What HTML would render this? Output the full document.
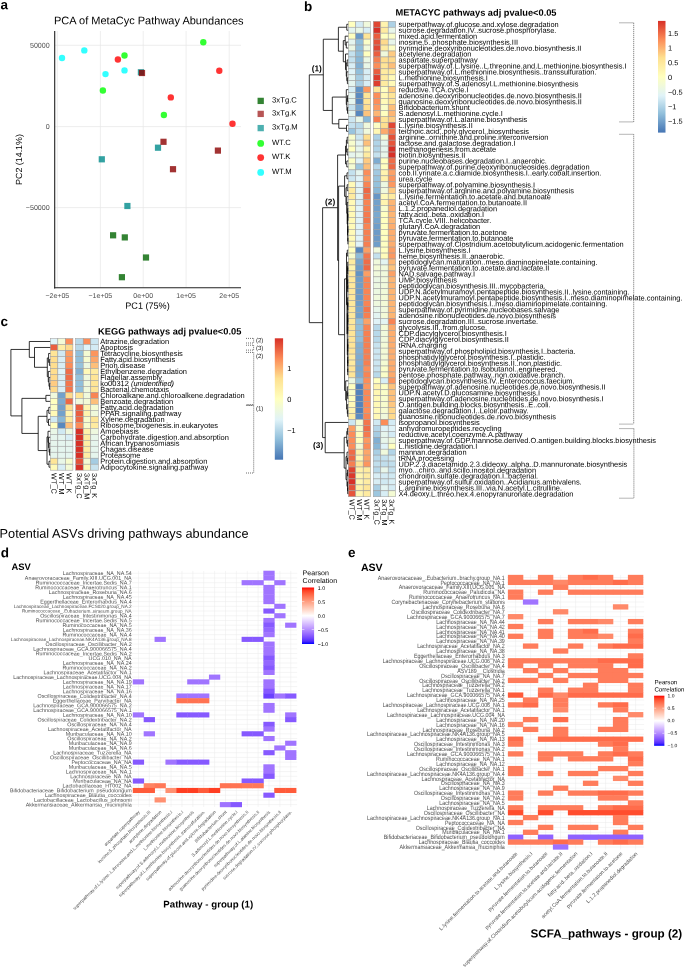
<!DOCTYPE html>
<html><head><meta charset="utf-8"><title>Figure</title>
<style>html,body{margin:0;padding:0;background:#fff}svg{display:block;will-change:transform;font-family:'Liberation Sans', Arial, sans-serif;text-rendering:geometricPrecision}</style>
</head><body>
<svg width="685" height="967" viewBox="0 0 685 967">
<rect width="685" height="967" fill="#fff"/>
<text x="0.5" y="9.3" font-size="13.5" font-weight="bold" transform="rotate(0.03 0.5 9.3)">a</text>
<text x="54" y="24.3" font-size="11" transform="rotate(0.03 54 24.3)">PCA of MetaCyc Pathway Abundances</text>
<line x1="57.3" y1="31" x2="57.3" y2="287.5" stroke="#e6e6e6" stroke-width="0.7"/>
<line x1="100.4" y1="31" x2="100.4" y2="287.5" stroke="#e6e6e6" stroke-width="0.7"/>
<line x1="143.2" y1="31" x2="143.2" y2="287.5" stroke="#e6e6e6" stroke-width="0.7"/>
<line x1="186.1" y1="31" x2="186.1" y2="287.5" stroke="#e6e6e6" stroke-width="0.7"/>
<line x1="229.2" y1="31" x2="229.2" y2="287.5" stroke="#e6e6e6" stroke-width="0.7"/>
<line x1="54.7" y1="45.3" x2="241" y2="45.3" stroke="#e6e6e6" stroke-width="0.7"/>
<line x1="54.7" y1="126.6" x2="241" y2="126.6" stroke="#e6e6e6" stroke-width="0.7"/>
<line x1="54.7" y1="207.6" x2="241" y2="207.6" stroke="#e6e6e6" stroke-width="0.7"/>
<line x1="54.7" y1="31" x2="54.7" y2="288.4" stroke="#222" stroke-width="1.1"/>
<line x1="54.2" y1="287.8" x2="241" y2="287.8" stroke="#222" stroke-width="1.1"/>
<text x="49.7" y="47.8" font-size="7.1" text-anchor="end" fill="#4d4d4d" transform="rotate(0.03 49.7 47.8)">50000</text>
<text x="49.7" y="129.1" font-size="7.1" text-anchor="end" fill="#4d4d4d" transform="rotate(0.03 49.7 129.1)">0</text>
<text x="49.7" y="210.1" font-size="7.1" text-anchor="end" fill="#4d4d4d" transform="rotate(0.03 49.7 210.1)">−50000</text>
<text x="57.3" y="297.9" font-size="7" text-anchor="middle" fill="#4d4d4d" transform="rotate(0.03 57.3 297.9)">−2e+05</text>
<text x="100.4" y="297.9" font-size="7" text-anchor="middle" fill="#4d4d4d" transform="rotate(0.03 100.4 297.9)">−1e+05</text>
<text x="143.2" y="297.9" font-size="7" text-anchor="middle" fill="#4d4d4d" transform="rotate(0.03 143.2 297.9)">0e+00</text>
<text x="186.1" y="297.9" font-size="7" text-anchor="middle" fill="#4d4d4d" transform="rotate(0.03 186.1 297.9)">1e+05</text>
<text x="229.2" y="297.9" font-size="7" text-anchor="middle" fill="#4d4d4d" transform="rotate(0.03 229.2 297.9)">2e+05</text>
<text x="147.5" y="308.8" font-size="9.1" text-anchor="middle" transform="rotate(0.03 147.5 308.8)">PC1 (75%)</text>
<text x="21.9" y="159.5" font-size="8.9" text-anchor="middle" transform="rotate(-89.97 21.9 159.5)">PC2 (14.1%)</text>
<circle cx="62" cy="58" r="3.2" fill="#00ffff" fill-opacity="0.8"/>
<circle cx="84.3" cy="50.4" r="3.2" fill="#00ffff" fill-opacity="0.8"/>
<circle cx="105.5" cy="74.1" r="3.2" fill="#00ffff" fill-opacity="0.8"/>
<circle cx="124.5" cy="70.4" r="3.2" fill="#00ffff" fill-opacity="0.8"/>
<circle cx="117.9" cy="59.5" r="3.2" fill="#ff0000" fill-opacity="0.8"/>
<circle cx="219.3" cy="70.8" r="3.2" fill="#ff0000" fill-opacity="0.8"/>
<circle cx="170.8" cy="97.4" r="3.2" fill="#ff0000" fill-opacity="0.8"/>
<circle cx="232.5" cy="123.7" r="3.2" fill="#ff0000" fill-opacity="0.8"/>
<circle cx="124.5" cy="55.5" r="3.2" fill="#00ff00" fill-opacity="0.8"/>
<circle cx="203.3" cy="42.3" r="3.2" fill="#00ff00" fill-opacity="0.8"/>
<circle cx="102.9" cy="90.5" r="3.2" fill="#00ff00" fill-opacity="0.8"/>
<circle cx="163.9" cy="115" r="3.2" fill="#00ff00" fill-opacity="0.8"/>
<rect x="137.8" y="69.2" width="6.2" height="6.2" fill="#008b8b" fill-opacity="0.8"/>
<rect x="154.9" y="144.6" width="6.2" height="6.2" fill="#008b8b" fill-opacity="0.8"/>
<rect x="98.7" y="156.2" width="6.2" height="6.2" fill="#008b8b" fill-opacity="0.8"/>
<rect x="124.3" y="202.9" width="6.2" height="6.2" fill="#008b8b" fill-opacity="0.8"/>
<rect x="138.9" y="69.9" width="6.2" height="6.2" fill="#8b0000" fill-opacity="0.8"/>
<rect x="160.4" y="138.7" width="6.2" height="6.2" fill="#8b0000" fill-opacity="0.8"/>
<rect x="214.8" y="147.5" width="6.2" height="6.2" fill="#8b0000" fill-opacity="0.8"/>
<rect x="169.9" y="166.1" width="6.2" height="6.2" fill="#8b0000" fill-opacity="0.8"/>
<rect x="110" y="232.2" width="6.2" height="6.2" fill="#006400" fill-opacity="0.8"/>
<rect x="121.7" y="234.3" width="6.2" height="6.2" fill="#006400" fill-opacity="0.8"/>
<rect x="142.9" y="254.4" width="6.2" height="6.2" fill="#006400" fill-opacity="0.8"/>
<rect x="118.8" y="274.1" width="6.2" height="6.2" fill="#006400" fill-opacity="0.8"/>
<rect x="257.55" y="97.75" width="6.3" height="6.3" fill="#006400" fill-opacity="0.8"/>
<text x="272.1" y="102.4" font-size="7.7" transform="rotate(0.03 272.1 102.4)">3xTg.C</text>
<rect x="257.55" y="110.75" width="6.3" height="6.3" fill="#a52a2a" fill-opacity="0.8"/>
<text x="272.1" y="115.4" font-size="7.7" transform="rotate(0.03 272.1 115.4)">3xTg.K</text>
<rect x="257.55" y="124.95" width="6.3" height="6.3" fill="#209c9c" fill-opacity="0.8"/>
<text x="272.1" y="129.6" font-size="7.7" transform="rotate(0.03 272.1 129.6)">3xTg.M</text>
<circle cx="260.7" cy="143.4" r="3.4" fill="#00ff00" fill-opacity="0.8"/>
<text x="272.1" y="144.9" font-size="7.7" transform="rotate(0.03 272.1 144.9)">WT.C</text>
<circle cx="260.7" cy="157.6" r="3.4" fill="#ff0000" fill-opacity="0.8"/>
<text x="272.1" y="159.1" font-size="7.7" transform="rotate(0.03 272.1 159.1)">WT.K</text>
<circle cx="260.7" cy="172.4" r="3.4" fill="#00ffff" fill-opacity="0.8"/>
<text x="272.1" y="173.9" font-size="7.7" transform="rotate(0.03 272.1 173.9)">WT.M</text>
<text x="304" y="11" font-size="13.5" font-weight="bold" transform="rotate(0.03 304 11)">b</text>
<text x="395.5" y="15.6" font-size="9.25" font-weight="bold" transform="rotate(0.03 395.5 15.6)">METACYC pathways adj pvalue&lt;0.05</text>
<rect x="348.3" y="21.3" width="7.46" height="5.94" fill="#ffffbf" stroke="#a0a0a0" stroke-width="0.55"/>
<rect x="355.76" y="21.3" width="7.46" height="5.94" fill="#d4ebf4" stroke="#a0a0a0" stroke-width="0.55"/>
<rect x="363.22" y="21.3" width="7.46" height="5.94" fill="#f0f9dc" stroke="#a0a0a0" stroke-width="0.55"/>
<rect x="373.3" y="21.3" width="7.46" height="5.94" fill="#e04734" stroke="#a0a0a0" stroke-width="0.55"/>
<rect x="380.76" y="21.3" width="7.46" height="5.94" fill="#fff4af" stroke="#a0a0a0" stroke-width="0.55"/>
<rect x="388.22" y="21.3" width="7.46" height="5.94" fill="#add1e5" stroke="#a0a0a0" stroke-width="0.55"/>
<rect x="348.3" y="27.24" width="7.46" height="5.94" fill="#e5f5ef" stroke="#a0a0a0" stroke-width="0.55"/>
<rect x="355.76" y="27.24" width="7.46" height="5.94" fill="#e9f7e7" stroke="#a0a0a0" stroke-width="0.55"/>
<rect x="363.22" y="27.24" width="7.46" height="5.94" fill="#d8eef5" stroke="#a0a0a0" stroke-width="0.55"/>
<rect x="373.3" y="27.24" width="7.46" height="5.94" fill="#d73027" stroke="#a0a0a0" stroke-width="0.55"/>
<rect x="380.76" y="27.24" width="7.46" height="5.94" fill="#feeba0" stroke="#a0a0a0" stroke-width="0.55"/>
<rect x="388.22" y="27.24" width="7.46" height="5.94" fill="#e8f6ea" stroke="#a0a0a0" stroke-width="0.55"/>
<rect x="348.3" y="33.19" width="7.46" height="5.94" fill="#ffffbf" stroke="#a0a0a0" stroke-width="0.55"/>
<rect x="355.76" y="33.19" width="7.46" height="5.94" fill="#6b9ac8" stroke="#a0a0a0" stroke-width="0.55"/>
<rect x="363.22" y="33.19" width="7.46" height="5.94" fill="#fee597" stroke="#a0a0a0" stroke-width="0.55"/>
<rect x="373.3" y="33.19" width="7.46" height="5.94" fill="#ea5e40" stroke="#a0a0a0" stroke-width="0.55"/>
<rect x="380.76" y="33.19" width="7.46" height="5.94" fill="#ffffbf" stroke="#a0a0a0" stroke-width="0.55"/>
<rect x="388.22" y="33.19" width="7.46" height="5.94" fill="#fafdc8" stroke="#a0a0a0" stroke-width="0.55"/>
<rect x="348.3" y="39.13" width="7.46" height="5.94" fill="#e5f5ef" stroke="#a0a0a0" stroke-width="0.55"/>
<rect x="355.76" y="39.13" width="7.46" height="5.94" fill="#91bfdb" stroke="#a0a0a0" stroke-width="0.55"/>
<rect x="363.22" y="39.13" width="7.46" height="5.94" fill="#fafdc8" stroke="#a0a0a0" stroke-width="0.55"/>
<rect x="373.3" y="39.13" width="7.46" height="5.94" fill="#e45138" stroke="#a0a0a0" stroke-width="0.55"/>
<rect x="380.76" y="39.13" width="7.46" height="5.94" fill="#feda8c" stroke="#a0a0a0" stroke-width="0.55"/>
<rect x="388.22" y="39.13" width="7.46" height="5.94" fill="#e8f6ea" stroke="#a0a0a0" stroke-width="0.55"/>
<rect x="348.3" y="45.07" width="7.46" height="5.94" fill="#ebf7e4" stroke="#a0a0a0" stroke-width="0.55"/>
<rect x="355.76" y="45.07" width="7.46" height="5.94" fill="#91bfdb" stroke="#a0a0a0" stroke-width="0.55"/>
<rect x="363.22" y="45.07" width="7.46" height="5.94" fill="#f0f9dc" stroke="#a0a0a0" stroke-width="0.55"/>
<rect x="373.3" y="45.07" width="7.46" height="5.94" fill="#e04734" stroke="#a0a0a0" stroke-width="0.55"/>
<rect x="380.76" y="45.07" width="7.46" height="5.94" fill="#feeba0" stroke="#a0a0a0" stroke-width="0.55"/>
<rect x="388.22" y="45.07" width="7.46" height="5.94" fill="#fcfec5" stroke="#a0a0a0" stroke-width="0.55"/>
<rect x="348.3" y="51.02" width="7.46" height="5.94" fill="#c4e1ee" stroke="#a0a0a0" stroke-width="0.55"/>
<rect x="355.76" y="51.02" width="7.46" height="5.94" fill="#91bfdb" stroke="#a0a0a0" stroke-width="0.55"/>
<rect x="363.22" y="51.02" width="7.46" height="5.94" fill="#ffffbf" stroke="#a0a0a0" stroke-width="0.55"/>
<rect x="373.3" y="51.02" width="7.46" height="5.94" fill="#ea5e40" stroke="#a0a0a0" stroke-width="0.55"/>
<rect x="380.76" y="51.02" width="7.46" height="5.94" fill="#f0f9dc" stroke="#a0a0a0" stroke-width="0.55"/>
<rect x="388.22" y="51.02" width="7.46" height="5.94" fill="#fecb82" stroke="#a0a0a0" stroke-width="0.55"/>
<rect x="348.3" y="56.96" width="7.46" height="5.94" fill="#c4e1ee" stroke="#a0a0a0" stroke-width="0.55"/>
<rect x="355.76" y="56.96" width="7.46" height="5.94" fill="#89b8d7" stroke="#a0a0a0" stroke-width="0.55"/>
<rect x="363.22" y="56.96" width="7.46" height="5.94" fill="#ebf7e4" stroke="#a0a0a0" stroke-width="0.55"/>
<rect x="373.3" y="56.96" width="7.46" height="5.94" fill="#f67f51" stroke="#a0a0a0" stroke-width="0.55"/>
<rect x="380.76" y="56.96" width="7.46" height="5.94" fill="#fede8f" stroke="#a0a0a0" stroke-width="0.55"/>
<rect x="388.22" y="56.96" width="7.46" height="5.94" fill="#feda8c" stroke="#a0a0a0" stroke-width="0.55"/>
<rect x="348.3" y="62.9" width="7.46" height="5.94" fill="#d8eef5" stroke="#a0a0a0" stroke-width="0.55"/>
<rect x="355.76" y="62.9" width="7.46" height="5.94" fill="#82b0d3" stroke="#a0a0a0" stroke-width="0.55"/>
<rect x="363.22" y="62.9" width="7.46" height="5.94" fill="#e9f7e7" stroke="#a0a0a0" stroke-width="0.55"/>
<rect x="373.3" y="62.9" width="7.46" height="5.94" fill="#fc8d59" stroke="#a0a0a0" stroke-width="0.55"/>
<rect x="380.76" y="62.9" width="7.46" height="5.94" fill="#fee597" stroke="#a0a0a0" stroke-width="0.55"/>
<rect x="388.22" y="62.9" width="7.46" height="5.94" fill="#fdbf7a" stroke="#a0a0a0" stroke-width="0.55"/>
<rect x="348.3" y="68.84" width="7.46" height="5.94" fill="#e0f3f8" stroke="#a0a0a0" stroke-width="0.55"/>
<rect x="355.76" y="68.84" width="7.46" height="5.94" fill="#91bfdb" stroke="#a0a0a0" stroke-width="0.55"/>
<rect x="363.22" y="68.84" width="7.46" height="5.94" fill="#d8eef5" stroke="#a0a0a0" stroke-width="0.55"/>
<rect x="373.3" y="68.84" width="7.46" height="5.94" fill="#ea5e40" stroke="#a0a0a0" stroke-width="0.55"/>
<rect x="380.76" y="68.84" width="7.46" height="5.94" fill="#feeba0" stroke="#a0a0a0" stroke-width="0.55"/>
<rect x="388.22" y="68.84" width="7.46" height="5.94" fill="#feeba0" stroke="#a0a0a0" stroke-width="0.55"/>
<rect x="348.3" y="74.79" width="7.46" height="5.94" fill="#e3f4f2" stroke="#a0a0a0" stroke-width="0.55"/>
<rect x="355.76" y="74.79" width="7.46" height="5.94" fill="#a5cce2" stroke="#a0a0a0" stroke-width="0.55"/>
<rect x="363.22" y="74.79" width="7.46" height="5.94" fill="#d8eef5" stroke="#a0a0a0" stroke-width="0.55"/>
<rect x="373.3" y="74.79" width="7.46" height="5.94" fill="#dd3e2f" stroke="#a0a0a0" stroke-width="0.55"/>
<rect x="380.76" y="74.79" width="7.46" height="5.94" fill="#feeba0" stroke="#a0a0a0" stroke-width="0.55"/>
<rect x="388.22" y="74.79" width="7.46" height="5.94" fill="#fffab8" stroke="#a0a0a0" stroke-width="0.55"/>
<rect x="348.3" y="80.73" width="7.46" height="5.94" fill="#e5f5ef" stroke="#a0a0a0" stroke-width="0.55"/>
<rect x="355.76" y="80.73" width="7.46" height="5.94" fill="#a9cfe4" stroke="#a0a0a0" stroke-width="0.55"/>
<rect x="363.22" y="80.73" width="7.46" height="5.94" fill="#d8eef5" stroke="#a0a0a0" stroke-width="0.55"/>
<rect x="373.3" y="80.73" width="7.46" height="5.94" fill="#dd3e2f" stroke="#a0a0a0" stroke-width="0.55"/>
<rect x="380.76" y="80.73" width="7.46" height="5.94" fill="#feeba0" stroke="#a0a0a0" stroke-width="0.55"/>
<rect x="388.22" y="80.73" width="7.46" height="5.94" fill="#fffab8" stroke="#a0a0a0" stroke-width="0.55"/>
<rect x="348.3" y="86.67" width="7.46" height="5.94" fill="#d8eef5" stroke="#a0a0a0" stroke-width="0.55"/>
<rect x="355.76" y="86.67" width="7.46" height="5.94" fill="#6393c4" stroke="#a0a0a0" stroke-width="0.55"/>
<rect x="363.22" y="86.67" width="7.46" height="5.94" fill="#fc9961" stroke="#a0a0a0" stroke-width="0.55"/>
<rect x="373.3" y="86.67" width="7.46" height="5.94" fill="#fee597" stroke="#a0a0a0" stroke-width="0.55"/>
<rect x="380.76" y="86.67" width="7.46" height="5.94" fill="#ffffbf" stroke="#a0a0a0" stroke-width="0.55"/>
<rect x="388.22" y="86.67" width="7.46" height="5.94" fill="#fecb82" stroke="#a0a0a0" stroke-width="0.55"/>
<rect x="348.3" y="92.62" width="7.46" height="5.94" fill="#e5f5ef" stroke="#a0a0a0" stroke-width="0.55"/>
<rect x="355.76" y="92.62" width="7.46" height="5.94" fill="#5c8bc0" stroke="#a0a0a0" stroke-width="0.55"/>
<rect x="363.22" y="92.62" width="7.46" height="5.94" fill="#fee597" stroke="#a0a0a0" stroke-width="0.55"/>
<rect x="373.3" y="92.62" width="7.46" height="5.94" fill="#fc8d59" stroke="#a0a0a0" stroke-width="0.55"/>
<rect x="380.76" y="92.62" width="7.46" height="5.94" fill="#fff9b6" stroke="#a0a0a0" stroke-width="0.55"/>
<rect x="388.22" y="92.62" width="7.46" height="5.94" fill="#fee597" stroke="#a0a0a0" stroke-width="0.55"/>
<rect x="348.3" y="98.56" width="7.46" height="5.94" fill="#e5f5ef" stroke="#a0a0a0" stroke-width="0.55"/>
<rect x="355.76" y="98.56" width="7.46" height="5.94" fill="#5888be" stroke="#a0a0a0" stroke-width="0.55"/>
<rect x="363.22" y="98.56" width="7.46" height="5.94" fill="#fee597" stroke="#a0a0a0" stroke-width="0.55"/>
<rect x="373.3" y="98.56" width="7.46" height="5.94" fill="#fc8d59" stroke="#a0a0a0" stroke-width="0.55"/>
<rect x="380.76" y="98.56" width="7.46" height="5.94" fill="#fffab8" stroke="#a0a0a0" stroke-width="0.55"/>
<rect x="388.22" y="98.56" width="7.46" height="5.94" fill="#fee597" stroke="#a0a0a0" stroke-width="0.55"/>
<rect x="348.3" y="104.5" width="7.46" height="5.94" fill="#c4e1ee" stroke="#a0a0a0" stroke-width="0.55"/>
<rect x="355.76" y="104.5" width="7.46" height="5.94" fill="#76a5cd" stroke="#a0a0a0" stroke-width="0.55"/>
<rect x="363.22" y="104.5" width="7.46" height="5.94" fill="#fede8f" stroke="#a0a0a0" stroke-width="0.55"/>
<rect x="373.3" y="104.5" width="7.46" height="5.94" fill="#fc9961" stroke="#a0a0a0" stroke-width="0.55"/>
<rect x="380.76" y="104.5" width="7.46" height="5.94" fill="#fafdc8" stroke="#a0a0a0" stroke-width="0.55"/>
<rect x="388.22" y="104.5" width="7.46" height="5.94" fill="#fdbf7a" stroke="#a0a0a0" stroke-width="0.55"/>
<rect x="348.3" y="110.44" width="7.46" height="5.94" fill="#e5f5ef" stroke="#a0a0a0" stroke-width="0.55"/>
<rect x="355.76" y="110.44" width="7.46" height="5.94" fill="#5888be" stroke="#a0a0a0" stroke-width="0.55"/>
<rect x="363.22" y="110.44" width="7.46" height="5.94" fill="#fdc37d" stroke="#a0a0a0" stroke-width="0.55"/>
<rect x="373.3" y="110.44" width="7.46" height="5.94" fill="#fdb674" stroke="#a0a0a0" stroke-width="0.55"/>
<rect x="380.76" y="110.44" width="7.46" height="5.94" fill="#ffffbf" stroke="#a0a0a0" stroke-width="0.55"/>
<rect x="388.22" y="110.44" width="7.46" height="5.94" fill="#fdb674" stroke="#a0a0a0" stroke-width="0.55"/>
<rect x="348.3" y="116.39" width="7.46" height="5.94" fill="#cce6f1" stroke="#a0a0a0" stroke-width="0.55"/>
<rect x="355.76" y="116.39" width="7.46" height="5.94" fill="#e9f7e7" stroke="#a0a0a0" stroke-width="0.55"/>
<rect x="363.22" y="116.39" width="7.46" height="5.94" fill="#89b8d7" stroke="#a0a0a0" stroke-width="0.55"/>
<rect x="373.3" y="116.39" width="7.46" height="5.94" fill="#f67f51" stroke="#a0a0a0" stroke-width="0.55"/>
<rect x="380.76" y="116.39" width="7.46" height="5.94" fill="#fee597" stroke="#a0a0a0" stroke-width="0.55"/>
<rect x="388.22" y="116.39" width="7.46" height="5.94" fill="#fecb82" stroke="#a0a0a0" stroke-width="0.55"/>
<rect x="348.3" y="122.33" width="7.46" height="5.94" fill="#c4e1ee" stroke="#a0a0a0" stroke-width="0.55"/>
<rect x="355.76" y="122.33" width="7.46" height="5.94" fill="#b8d9ea" stroke="#a0a0a0" stroke-width="0.55"/>
<rect x="363.22" y="122.33" width="7.46" height="5.94" fill="#f0f9dc" stroke="#a0a0a0" stroke-width="0.55"/>
<rect x="373.3" y="122.33" width="7.46" height="5.94" fill="#fcfec5" stroke="#a0a0a0" stroke-width="0.55"/>
<rect x="380.76" y="122.33" width="7.46" height="5.94" fill="#fede8f" stroke="#a0a0a0" stroke-width="0.55"/>
<rect x="388.22" y="122.33" width="7.46" height="5.94" fill="#e04734" stroke="#a0a0a0" stroke-width="0.55"/>
<rect x="348.3" y="128.27" width="7.46" height="5.94" fill="#99c4de" stroke="#a0a0a0" stroke-width="0.55"/>
<rect x="355.76" y="128.27" width="7.46" height="5.94" fill="#c4e1ee" stroke="#a0a0a0" stroke-width="0.55"/>
<rect x="363.22" y="128.27" width="7.46" height="5.94" fill="#f0f9dc" stroke="#a0a0a0" stroke-width="0.55"/>
<rect x="373.3" y="128.27" width="7.46" height="5.94" fill="#fff7b3" stroke="#a0a0a0" stroke-width="0.55"/>
<rect x="380.76" y="128.27" width="7.46" height="5.94" fill="#fdaa6c" stroke="#a0a0a0" stroke-width="0.55"/>
<rect x="388.22" y="128.27" width="7.46" height="5.94" fill="#f3764c" stroke="#a0a0a0" stroke-width="0.55"/>
<rect x="348.3" y="134.22" width="7.46" height="5.94" fill="#f7fccd" stroke="#a0a0a0" stroke-width="0.55"/>
<rect x="355.76" y="134.22" width="7.46" height="5.94" fill="#cce6f1" stroke="#a0a0a0" stroke-width="0.55"/>
<rect x="363.22" y="134.22" width="7.46" height="5.94" fill="#fede8f" stroke="#a0a0a0" stroke-width="0.55"/>
<rect x="373.3" y="134.22" width="7.46" height="5.94" fill="#add1e5" stroke="#a0a0a0" stroke-width="0.55"/>
<rect x="380.76" y="134.22" width="7.46" height="5.94" fill="#f4fbd3" stroke="#a0a0a0" stroke-width="0.55"/>
<rect x="388.22" y="134.22" width="7.46" height="5.94" fill="#e45138" stroke="#a0a0a0" stroke-width="0.55"/>
<rect x="348.3" y="140.16" width="7.46" height="5.94" fill="#f7fccd" stroke="#a0a0a0" stroke-width="0.55"/>
<rect x="355.76" y="140.16" width="7.46" height="5.94" fill="#e3f4f2" stroke="#a0a0a0" stroke-width="0.55"/>
<rect x="363.22" y="140.16" width="7.46" height="5.94" fill="#fdbf7a" stroke="#a0a0a0" stroke-width="0.55"/>
<rect x="373.3" y="140.16" width="7.46" height="5.94" fill="#b1d4e7" stroke="#a0a0a0" stroke-width="0.55"/>
<rect x="380.76" y="140.16" width="7.46" height="5.94" fill="#e6f5ed" stroke="#a0a0a0" stroke-width="0.55"/>
<rect x="388.22" y="140.16" width="7.46" height="5.94" fill="#e6553b" stroke="#a0a0a0" stroke-width="0.55"/>
<rect x="348.3" y="146.1" width="7.46" height="5.94" fill="#ffffbf" stroke="#a0a0a0" stroke-width="0.55"/>
<rect x="355.76" y="146.1" width="7.46" height="5.94" fill="#e6f5ed" stroke="#a0a0a0" stroke-width="0.55"/>
<rect x="363.22" y="146.1" width="7.46" height="5.94" fill="#fff4af" stroke="#a0a0a0" stroke-width="0.55"/>
<rect x="373.3" y="146.1" width="7.46" height="5.94" fill="#b1d4e7" stroke="#a0a0a0" stroke-width="0.55"/>
<rect x="380.76" y="146.1" width="7.46" height="5.94" fill="#e6f5ed" stroke="#a0a0a0" stroke-width="0.55"/>
<rect x="388.22" y="146.1" width="7.46" height="5.94" fill="#d73027" stroke="#a0a0a0" stroke-width="0.55"/>
<rect x="348.3" y="152.05" width="7.46" height="5.94" fill="#e6f5ed" stroke="#a0a0a0" stroke-width="0.55"/>
<rect x="355.76" y="152.05" width="7.46" height="5.94" fill="#e9f7e7" stroke="#a0a0a0" stroke-width="0.55"/>
<rect x="363.22" y="152.05" width="7.46" height="5.94" fill="#feeba0" stroke="#a0a0a0" stroke-width="0.55"/>
<rect x="373.3" y="152.05" width="7.46" height="5.94" fill="#c4e1ee" stroke="#a0a0a0" stroke-width="0.55"/>
<rect x="380.76" y="152.05" width="7.46" height="5.94" fill="#e8f6ea" stroke="#a0a0a0" stroke-width="0.55"/>
<rect x="388.22" y="152.05" width="7.46" height="5.94" fill="#d73027" stroke="#a0a0a0" stroke-width="0.55"/>
<rect x="348.3" y="157.99" width="7.46" height="5.94" fill="#fcfec5" stroke="#a0a0a0" stroke-width="0.55"/>
<rect x="355.76" y="157.99" width="7.46" height="5.94" fill="#e0f3f8" stroke="#a0a0a0" stroke-width="0.55"/>
<rect x="363.22" y="157.99" width="7.46" height="5.94" fill="#fecb82" stroke="#a0a0a0" stroke-width="0.55"/>
<rect x="373.3" y="157.99" width="7.46" height="5.94" fill="#7eacd1" stroke="#a0a0a0" stroke-width="0.55"/>
<rect x="380.76" y="157.99" width="7.46" height="5.94" fill="#ffffbf" stroke="#a0a0a0" stroke-width="0.55"/>
<rect x="388.22" y="157.99" width="7.46" height="5.94" fill="#ef6c48" stroke="#a0a0a0" stroke-width="0.55"/>
<rect x="348.3" y="163.93" width="7.46" height="5.94" fill="#f4fbd3" stroke="#a0a0a0" stroke-width="0.55"/>
<rect x="355.76" y="163.93" width="7.46" height="5.94" fill="#9dc7df" stroke="#a0a0a0" stroke-width="0.55"/>
<rect x="363.22" y="163.93" width="7.46" height="5.94" fill="#fdbf7a" stroke="#a0a0a0" stroke-width="0.55"/>
<rect x="373.3" y="163.93" width="7.46" height="5.94" fill="#b8d9ea" stroke="#a0a0a0" stroke-width="0.55"/>
<rect x="380.76" y="163.93" width="7.46" height="5.94" fill="#ffffbf" stroke="#a0a0a0" stroke-width="0.55"/>
<rect x="388.22" y="163.93" width="7.46" height="5.94" fill="#ed6845" stroke="#a0a0a0" stroke-width="0.55"/>
<rect x="348.3" y="169.88" width="7.46" height="5.94" fill="#c4e1ee" stroke="#a0a0a0" stroke-width="0.55"/>
<rect x="355.76" y="169.88" width="7.46" height="5.94" fill="#e5f5ef" stroke="#a0a0a0" stroke-width="0.55"/>
<rect x="363.22" y="169.88" width="7.46" height="5.94" fill="#fc8d59" stroke="#a0a0a0" stroke-width="0.55"/>
<rect x="373.3" y="169.88" width="7.46" height="5.94" fill="#a1c9e1" stroke="#a0a0a0" stroke-width="0.55"/>
<rect x="380.76" y="169.88" width="7.46" height="5.94" fill="#fff4af" stroke="#a0a0a0" stroke-width="0.55"/>
<rect x="388.22" y="169.88" width="7.46" height="5.94" fill="#fca267" stroke="#a0a0a0" stroke-width="0.55"/>
<rect x="348.3" y="175.82" width="7.46" height="5.94" fill="#cce6f1" stroke="#a0a0a0" stroke-width="0.55"/>
<rect x="355.76" y="175.82" width="7.46" height="5.94" fill="#e0f3f8" stroke="#a0a0a0" stroke-width="0.55"/>
<rect x="363.22" y="175.82" width="7.46" height="5.94" fill="#fc9e64" stroke="#a0a0a0" stroke-width="0.55"/>
<rect x="373.3" y="175.82" width="7.46" height="5.94" fill="#99c4de" stroke="#a0a0a0" stroke-width="0.55"/>
<rect x="380.76" y="175.82" width="7.46" height="5.94" fill="#fff1aa" stroke="#a0a0a0" stroke-width="0.55"/>
<rect x="388.22" y="175.82" width="7.46" height="5.94" fill="#fc955e" stroke="#a0a0a0" stroke-width="0.55"/>
<rect x="348.3" y="181.76" width="7.46" height="5.94" fill="#fffab8" stroke="#a0a0a0" stroke-width="0.55"/>
<rect x="355.76" y="181.76" width="7.46" height="5.94" fill="#e0f3f8" stroke="#a0a0a0" stroke-width="0.55"/>
<rect x="363.22" y="181.76" width="7.46" height="5.94" fill="#f88454" stroke="#a0a0a0" stroke-width="0.55"/>
<rect x="373.3" y="181.76" width="7.46" height="5.94" fill="#95c2dc" stroke="#a0a0a0" stroke-width="0.55"/>
<rect x="380.76" y="181.76" width="7.46" height="5.94" fill="#ecf8e1" stroke="#a0a0a0" stroke-width="0.55"/>
<rect x="388.22" y="181.76" width="7.46" height="5.94" fill="#fc9961" stroke="#a0a0a0" stroke-width="0.55"/>
<rect x="348.3" y="187.7" width="7.46" height="5.94" fill="#feeba0" stroke="#a0a0a0" stroke-width="0.55"/>
<rect x="355.76" y="187.7" width="7.46" height="5.94" fill="#e2f4f5" stroke="#a0a0a0" stroke-width="0.55"/>
<rect x="363.22" y="187.7" width="7.46" height="5.94" fill="#ed6845" stroke="#a0a0a0" stroke-width="0.55"/>
<rect x="373.3" y="187.7" width="7.46" height="5.94" fill="#89b8d7" stroke="#a0a0a0" stroke-width="0.55"/>
<rect x="380.76" y="187.7" width="7.46" height="5.94" fill="#f0f9dc" stroke="#a0a0a0" stroke-width="0.55"/>
<rect x="388.22" y="187.7" width="7.46" height="5.94" fill="#fecb82" stroke="#a0a0a0" stroke-width="0.55"/>
<rect x="348.3" y="193.65" width="7.46" height="5.94" fill="#feeba0" stroke="#a0a0a0" stroke-width="0.55"/>
<rect x="355.76" y="193.65" width="7.46" height="5.94" fill="#e2f4f5" stroke="#a0a0a0" stroke-width="0.55"/>
<rect x="363.22" y="193.65" width="7.46" height="5.94" fill="#f1714a" stroke="#a0a0a0" stroke-width="0.55"/>
<rect x="373.3" y="193.65" width="7.46" height="5.94" fill="#6796c6" stroke="#a0a0a0" stroke-width="0.55"/>
<rect x="380.76" y="193.65" width="7.46" height="5.94" fill="#fffab8" stroke="#a0a0a0" stroke-width="0.55"/>
<rect x="388.22" y="193.65" width="7.46" height="5.94" fill="#feeba0" stroke="#a0a0a0" stroke-width="0.55"/>
<rect x="348.3" y="199.59" width="7.46" height="5.94" fill="#fff9b6" stroke="#a0a0a0" stroke-width="0.55"/>
<rect x="355.76" y="199.59" width="7.46" height="5.94" fill="#d8eef5" stroke="#a0a0a0" stroke-width="0.55"/>
<rect x="363.22" y="199.59" width="7.46" height="5.94" fill="#f88454" stroke="#a0a0a0" stroke-width="0.55"/>
<rect x="373.3" y="199.59" width="7.46" height="5.94" fill="#73a1cb" stroke="#a0a0a0" stroke-width="0.55"/>
<rect x="380.76" y="199.59" width="7.46" height="5.94" fill="#fff4af" stroke="#a0a0a0" stroke-width="0.55"/>
<rect x="388.22" y="199.59" width="7.46" height="5.94" fill="#fdb674" stroke="#a0a0a0" stroke-width="0.55"/>
<rect x="348.3" y="205.53" width="7.46" height="5.94" fill="#fff9b6" stroke="#a0a0a0" stroke-width="0.55"/>
<rect x="355.76" y="205.53" width="7.46" height="5.94" fill="#e0f3f8" stroke="#a0a0a0" stroke-width="0.55"/>
<rect x="363.22" y="205.53" width="7.46" height="5.94" fill="#f67f51" stroke="#a0a0a0" stroke-width="0.55"/>
<rect x="373.3" y="205.53" width="7.46" height="5.94" fill="#73a1cb" stroke="#a0a0a0" stroke-width="0.55"/>
<rect x="380.76" y="205.53" width="7.46" height="5.94" fill="#f7fccd" stroke="#a0a0a0" stroke-width="0.55"/>
<rect x="388.22" y="205.53" width="7.46" height="5.94" fill="#fdae6f" stroke="#a0a0a0" stroke-width="0.55"/>
<rect x="348.3" y="211.48" width="7.46" height="5.94" fill="#fff9b6" stroke="#a0a0a0" stroke-width="0.55"/>
<rect x="355.76" y="211.48" width="7.46" height="5.94" fill="#e0f3f8" stroke="#a0a0a0" stroke-width="0.55"/>
<rect x="363.22" y="211.48" width="7.46" height="5.94" fill="#f57a4f" stroke="#a0a0a0" stroke-width="0.55"/>
<rect x="373.3" y="211.48" width="7.46" height="5.94" fill="#7aa9cf" stroke="#a0a0a0" stroke-width="0.55"/>
<rect x="380.76" y="211.48" width="7.46" height="5.94" fill="#ffffbf" stroke="#a0a0a0" stroke-width="0.55"/>
<rect x="388.22" y="211.48" width="7.46" height="5.94" fill="#fdb674" stroke="#a0a0a0" stroke-width="0.55"/>
<rect x="348.3" y="217.42" width="7.46" height="5.94" fill="#fff9b6" stroke="#a0a0a0" stroke-width="0.55"/>
<rect x="355.76" y="217.42" width="7.46" height="5.94" fill="#e0f3f8" stroke="#a0a0a0" stroke-width="0.55"/>
<rect x="363.22" y="217.42" width="7.46" height="5.94" fill="#f3764c" stroke="#a0a0a0" stroke-width="0.55"/>
<rect x="373.3" y="217.42" width="7.46" height="5.94" fill="#76a5cd" stroke="#a0a0a0" stroke-width="0.55"/>
<rect x="380.76" y="217.42" width="7.46" height="5.94" fill="#ffffbf" stroke="#a0a0a0" stroke-width="0.55"/>
<rect x="388.22" y="217.42" width="7.46" height="5.94" fill="#fdb674" stroke="#a0a0a0" stroke-width="0.55"/>
<rect x="348.3" y="223.36" width="7.46" height="5.94" fill="#fffab8" stroke="#a0a0a0" stroke-width="0.55"/>
<rect x="355.76" y="223.36" width="7.46" height="5.94" fill="#e0f3f8" stroke="#a0a0a0" stroke-width="0.55"/>
<rect x="363.22" y="223.36" width="7.46" height="5.94" fill="#f88454" stroke="#a0a0a0" stroke-width="0.55"/>
<rect x="373.3" y="223.36" width="7.46" height="5.94" fill="#6f9ec9" stroke="#a0a0a0" stroke-width="0.55"/>
<rect x="380.76" y="223.36" width="7.46" height="5.94" fill="#ffffbf" stroke="#a0a0a0" stroke-width="0.55"/>
<rect x="388.22" y="223.36" width="7.46" height="5.94" fill="#fdae6f" stroke="#a0a0a0" stroke-width="0.55"/>
<rect x="348.3" y="229.31" width="7.46" height="5.94" fill="#fffab8" stroke="#a0a0a0" stroke-width="0.55"/>
<rect x="355.76" y="229.31" width="7.46" height="5.94" fill="#e0f3f8" stroke="#a0a0a0" stroke-width="0.55"/>
<rect x="363.22" y="229.31" width="7.46" height="5.94" fill="#f67f51" stroke="#a0a0a0" stroke-width="0.55"/>
<rect x="373.3" y="229.31" width="7.46" height="5.94" fill="#6b9ac8" stroke="#a0a0a0" stroke-width="0.55"/>
<rect x="380.76" y="229.31" width="7.46" height="5.94" fill="#ffffbf" stroke="#a0a0a0" stroke-width="0.55"/>
<rect x="388.22" y="229.31" width="7.46" height="5.94" fill="#fdae6f" stroke="#a0a0a0" stroke-width="0.55"/>
<rect x="348.3" y="235.25" width="7.46" height="5.94" fill="#fffab8" stroke="#a0a0a0" stroke-width="0.55"/>
<rect x="355.76" y="235.25" width="7.46" height="5.94" fill="#e0f3f8" stroke="#a0a0a0" stroke-width="0.55"/>
<rect x="363.22" y="235.25" width="7.46" height="5.94" fill="#f67f51" stroke="#a0a0a0" stroke-width="0.55"/>
<rect x="373.3" y="235.25" width="7.46" height="5.94" fill="#6b9ac8" stroke="#a0a0a0" stroke-width="0.55"/>
<rect x="380.76" y="235.25" width="7.46" height="5.94" fill="#ffffbf" stroke="#a0a0a0" stroke-width="0.55"/>
<rect x="388.22" y="235.25" width="7.46" height="5.94" fill="#fdae6f" stroke="#a0a0a0" stroke-width="0.55"/>
<rect x="348.3" y="241.19" width="7.46" height="5.94" fill="#fff9b6" stroke="#a0a0a0" stroke-width="0.55"/>
<rect x="355.76" y="241.19" width="7.46" height="5.94" fill="#e0f3f8" stroke="#a0a0a0" stroke-width="0.55"/>
<rect x="363.22" y="241.19" width="7.46" height="5.94" fill="#f67f51" stroke="#a0a0a0" stroke-width="0.55"/>
<rect x="373.3" y="241.19" width="7.46" height="5.94" fill="#6f9ec9" stroke="#a0a0a0" stroke-width="0.55"/>
<rect x="380.76" y="241.19" width="7.46" height="5.94" fill="#fdfec2" stroke="#a0a0a0" stroke-width="0.55"/>
<rect x="388.22" y="241.19" width="7.46" height="5.94" fill="#fdae6f" stroke="#a0a0a0" stroke-width="0.55"/>
<rect x="348.3" y="247.13" width="7.46" height="5.94" fill="#ffffbf" stroke="#a0a0a0" stroke-width="0.55"/>
<rect x="355.76" y="247.13" width="7.46" height="5.94" fill="#5888be" stroke="#a0a0a0" stroke-width="0.55"/>
<rect x="363.22" y="247.13" width="7.46" height="5.94" fill="#fc9e64" stroke="#a0a0a0" stroke-width="0.55"/>
<rect x="373.3" y="247.13" width="7.46" height="5.94" fill="#f0f9dc" stroke="#a0a0a0" stroke-width="0.55"/>
<rect x="380.76" y="247.13" width="7.46" height="5.94" fill="#ffffbf" stroke="#a0a0a0" stroke-width="0.55"/>
<rect x="388.22" y="247.13" width="7.46" height="5.94" fill="#fc9e64" stroke="#a0a0a0" stroke-width="0.55"/>
<rect x="348.3" y="253.08" width="7.46" height="5.94" fill="#f7fccd" stroke="#a0a0a0" stroke-width="0.55"/>
<rect x="355.76" y="253.08" width="7.46" height="5.94" fill="#8dbbd9" stroke="#a0a0a0" stroke-width="0.55"/>
<rect x="363.22" y="253.08" width="7.46" height="5.94" fill="#f3764c" stroke="#a0a0a0" stroke-width="0.55"/>
<rect x="373.3" y="253.08" width="7.46" height="5.94" fill="#c4e1ee" stroke="#a0a0a0" stroke-width="0.55"/>
<rect x="380.76" y="253.08" width="7.46" height="5.94" fill="#fffcba" stroke="#a0a0a0" stroke-width="0.55"/>
<rect x="388.22" y="253.08" width="7.46" height="5.94" fill="#fc9961" stroke="#a0a0a0" stroke-width="0.55"/>
<rect x="348.3" y="259.02" width="7.46" height="5.94" fill="#feeba0" stroke="#a0a0a0" stroke-width="0.55"/>
<rect x="355.76" y="259.02" width="7.46" height="5.94" fill="#76a5cd" stroke="#a0a0a0" stroke-width="0.55"/>
<rect x="363.22" y="259.02" width="7.46" height="5.94" fill="#ef6c48" stroke="#a0a0a0" stroke-width="0.55"/>
<rect x="373.3" y="259.02" width="7.46" height="5.94" fill="#f0f9dc" stroke="#a0a0a0" stroke-width="0.55"/>
<rect x="380.76" y="259.02" width="7.46" height="5.94" fill="#e3f4f2" stroke="#a0a0a0" stroke-width="0.55"/>
<rect x="388.22" y="259.02" width="7.46" height="5.94" fill="#fdb674" stroke="#a0a0a0" stroke-width="0.55"/>
<rect x="348.3" y="264.96" width="7.46" height="5.94" fill="#fff4af" stroke="#a0a0a0" stroke-width="0.55"/>
<rect x="355.76" y="264.96" width="7.46" height="5.94" fill="#6f9ec9" stroke="#a0a0a0" stroke-width="0.55"/>
<rect x="363.22" y="264.96" width="7.46" height="5.94" fill="#ed6845" stroke="#a0a0a0" stroke-width="0.55"/>
<rect x="373.3" y="264.96" width="7.46" height="5.94" fill="#f3fad6" stroke="#a0a0a0" stroke-width="0.55"/>
<rect x="380.76" y="264.96" width="7.46" height="5.94" fill="#f0f9dc" stroke="#a0a0a0" stroke-width="0.55"/>
<rect x="388.22" y="264.96" width="7.46" height="5.94" fill="#fdc37d" stroke="#a0a0a0" stroke-width="0.55"/>
<rect x="348.3" y="270.91" width="7.46" height="5.94" fill="#fee89c" stroke="#a0a0a0" stroke-width="0.55"/>
<rect x="355.76" y="270.91" width="7.46" height="5.94" fill="#6393c4" stroke="#a0a0a0" stroke-width="0.55"/>
<rect x="363.22" y="270.91" width="7.46" height="5.94" fill="#fc9e64" stroke="#a0a0a0" stroke-width="0.55"/>
<rect x="373.3" y="270.91" width="7.46" height="5.94" fill="#f0f9dc" stroke="#a0a0a0" stroke-width="0.55"/>
<rect x="380.76" y="270.91" width="7.46" height="5.94" fill="#f0f9dc" stroke="#a0a0a0" stroke-width="0.55"/>
<rect x="388.22" y="270.91" width="7.46" height="5.94" fill="#fca267" stroke="#a0a0a0" stroke-width="0.55"/>
<rect x="348.3" y="276.85" width="7.46" height="5.94" fill="#fee89c" stroke="#a0a0a0" stroke-width="0.55"/>
<rect x="355.76" y="276.85" width="7.46" height="5.94" fill="#6f9ec9" stroke="#a0a0a0" stroke-width="0.55"/>
<rect x="363.22" y="276.85" width="7.46" height="5.94" fill="#f88454" stroke="#a0a0a0" stroke-width="0.55"/>
<rect x="373.3" y="276.85" width="7.46" height="5.94" fill="#ebf7e4" stroke="#a0a0a0" stroke-width="0.55"/>
<rect x="380.76" y="276.85" width="7.46" height="5.94" fill="#f0f9dc" stroke="#a0a0a0" stroke-width="0.55"/>
<rect x="388.22" y="276.85" width="7.46" height="5.94" fill="#fdb674" stroke="#a0a0a0" stroke-width="0.55"/>
<rect x="348.3" y="282.79" width="7.46" height="5.94" fill="#fee89c" stroke="#a0a0a0" stroke-width="0.55"/>
<rect x="355.76" y="282.79" width="7.46" height="5.94" fill="#6f9ec9" stroke="#a0a0a0" stroke-width="0.55"/>
<rect x="363.22" y="282.79" width="7.46" height="5.94" fill="#f88454" stroke="#a0a0a0" stroke-width="0.55"/>
<rect x="373.3" y="282.79" width="7.46" height="5.94" fill="#ecf8e1" stroke="#a0a0a0" stroke-width="0.55"/>
<rect x="380.76" y="282.79" width="7.46" height="5.94" fill="#f0f9dc" stroke="#a0a0a0" stroke-width="0.55"/>
<rect x="388.22" y="282.79" width="7.46" height="5.94" fill="#fdb674" stroke="#a0a0a0" stroke-width="0.55"/>
<rect x="348.3" y="288.74" width="7.46" height="5.94" fill="#fee89c" stroke="#a0a0a0" stroke-width="0.55"/>
<rect x="355.76" y="288.74" width="7.46" height="5.94" fill="#6b9ac8" stroke="#a0a0a0" stroke-width="0.55"/>
<rect x="363.22" y="288.74" width="7.46" height="5.94" fill="#f88454" stroke="#a0a0a0" stroke-width="0.55"/>
<rect x="373.3" y="288.74" width="7.46" height="5.94" fill="#ecf8e1" stroke="#a0a0a0" stroke-width="0.55"/>
<rect x="380.76" y="288.74" width="7.46" height="5.94" fill="#f1fad9" stroke="#a0a0a0" stroke-width="0.55"/>
<rect x="388.22" y="288.74" width="7.46" height="5.94" fill="#fdb674" stroke="#a0a0a0" stroke-width="0.55"/>
<rect x="348.3" y="294.68" width="7.46" height="5.94" fill="#fee89c" stroke="#a0a0a0" stroke-width="0.55"/>
<rect x="355.76" y="294.68" width="7.46" height="5.94" fill="#6b9ac8" stroke="#a0a0a0" stroke-width="0.55"/>
<rect x="363.22" y="294.68" width="7.46" height="5.94" fill="#f88454" stroke="#a0a0a0" stroke-width="0.55"/>
<rect x="373.3" y="294.68" width="7.46" height="5.94" fill="#f0f9dc" stroke="#a0a0a0" stroke-width="0.55"/>
<rect x="380.76" y="294.68" width="7.46" height="5.94" fill="#f3fad6" stroke="#a0a0a0" stroke-width="0.55"/>
<rect x="388.22" y="294.68" width="7.46" height="5.94" fill="#fdb674" stroke="#a0a0a0" stroke-width="0.55"/>
<rect x="348.3" y="300.62" width="7.46" height="5.94" fill="#fee89c" stroke="#a0a0a0" stroke-width="0.55"/>
<rect x="355.76" y="300.62" width="7.46" height="5.94" fill="#6f9ec9" stroke="#a0a0a0" stroke-width="0.55"/>
<rect x="363.22" y="300.62" width="7.46" height="5.94" fill="#f88454" stroke="#a0a0a0" stroke-width="0.55"/>
<rect x="373.3" y="300.62" width="7.46" height="5.94" fill="#eef8de" stroke="#a0a0a0" stroke-width="0.55"/>
<rect x="380.76" y="300.62" width="7.46" height="5.94" fill="#f3fad6" stroke="#a0a0a0" stroke-width="0.55"/>
<rect x="388.22" y="300.62" width="7.46" height="5.94" fill="#fdb674" stroke="#a0a0a0" stroke-width="0.55"/>
<rect x="348.3" y="306.56" width="7.46" height="5.94" fill="#fee89c" stroke="#a0a0a0" stroke-width="0.55"/>
<rect x="355.76" y="306.56" width="7.46" height="5.94" fill="#76a5cd" stroke="#a0a0a0" stroke-width="0.55"/>
<rect x="363.22" y="306.56" width="7.46" height="5.94" fill="#f3764c" stroke="#a0a0a0" stroke-width="0.55"/>
<rect x="373.3" y="306.56" width="7.46" height="5.94" fill="#e8f6ea" stroke="#a0a0a0" stroke-width="0.55"/>
<rect x="380.76" y="306.56" width="7.46" height="5.94" fill="#f0f9dc" stroke="#a0a0a0" stroke-width="0.55"/>
<rect x="388.22" y="306.56" width="7.46" height="5.94" fill="#fdb674" stroke="#a0a0a0" stroke-width="0.55"/>
<rect x="348.3" y="312.51" width="7.46" height="5.94" fill="#fee89c" stroke="#a0a0a0" stroke-width="0.55"/>
<rect x="355.76" y="312.51" width="7.46" height="5.94" fill="#73a1cb" stroke="#a0a0a0" stroke-width="0.55"/>
<rect x="363.22" y="312.51" width="7.46" height="5.94" fill="#f67f51" stroke="#a0a0a0" stroke-width="0.55"/>
<rect x="373.3" y="312.51" width="7.46" height="5.94" fill="#e3f4f2" stroke="#a0a0a0" stroke-width="0.55"/>
<rect x="380.76" y="312.51" width="7.46" height="5.94" fill="#f3fad6" stroke="#a0a0a0" stroke-width="0.55"/>
<rect x="388.22" y="312.51" width="7.46" height="5.94" fill="#fdb674" stroke="#a0a0a0" stroke-width="0.55"/>
<rect x="348.3" y="318.45" width="7.46" height="5.94" fill="#fee89c" stroke="#a0a0a0" stroke-width="0.55"/>
<rect x="355.76" y="318.45" width="7.46" height="5.94" fill="#91bfdb" stroke="#a0a0a0" stroke-width="0.55"/>
<rect x="363.22" y="318.45" width="7.46" height="5.94" fill="#fca267" stroke="#a0a0a0" stroke-width="0.55"/>
<rect x="373.3" y="318.45" width="7.46" height="5.94" fill="#e0f3f8" stroke="#a0a0a0" stroke-width="0.55"/>
<rect x="380.76" y="318.45" width="7.46" height="5.94" fill="#e3f4f2" stroke="#a0a0a0" stroke-width="0.55"/>
<rect x="388.22" y="318.45" width="7.46" height="5.94" fill="#f88454" stroke="#a0a0a0" stroke-width="0.55"/>
<rect x="348.3" y="324.39" width="7.46" height="5.94" fill="#fee597" stroke="#a0a0a0" stroke-width="0.55"/>
<rect x="355.76" y="324.39" width="7.46" height="5.94" fill="#91bfdb" stroke="#a0a0a0" stroke-width="0.55"/>
<rect x="363.22" y="324.39" width="7.46" height="5.94" fill="#f88454" stroke="#a0a0a0" stroke-width="0.55"/>
<rect x="373.3" y="324.39" width="7.46" height="5.94" fill="#b8d9ea" stroke="#a0a0a0" stroke-width="0.55"/>
<rect x="380.76" y="324.39" width="7.46" height="5.94" fill="#f3fad6" stroke="#a0a0a0" stroke-width="0.55"/>
<rect x="388.22" y="324.39" width="7.46" height="5.94" fill="#fdaa6c" stroke="#a0a0a0" stroke-width="0.55"/>
<rect x="348.3" y="330.34" width="7.46" height="5.94" fill="#fee597" stroke="#a0a0a0" stroke-width="0.55"/>
<rect x="355.76" y="330.34" width="7.46" height="5.94" fill="#91bfdb" stroke="#a0a0a0" stroke-width="0.55"/>
<rect x="363.22" y="330.34" width="7.46" height="5.94" fill="#f67f51" stroke="#a0a0a0" stroke-width="0.55"/>
<rect x="373.3" y="330.34" width="7.46" height="5.94" fill="#b8d9ea" stroke="#a0a0a0" stroke-width="0.55"/>
<rect x="380.76" y="330.34" width="7.46" height="5.94" fill="#f0f9dc" stroke="#a0a0a0" stroke-width="0.55"/>
<rect x="388.22" y="330.34" width="7.46" height="5.94" fill="#fdae6f" stroke="#a0a0a0" stroke-width="0.55"/>
<rect x="348.3" y="336.28" width="7.46" height="5.94" fill="#fee597" stroke="#a0a0a0" stroke-width="0.55"/>
<rect x="355.76" y="336.28" width="7.46" height="5.94" fill="#91bfdb" stroke="#a0a0a0" stroke-width="0.55"/>
<rect x="363.22" y="336.28" width="7.46" height="5.94" fill="#f67f51" stroke="#a0a0a0" stroke-width="0.55"/>
<rect x="373.3" y="336.28" width="7.46" height="5.94" fill="#b8d9ea" stroke="#a0a0a0" stroke-width="0.55"/>
<rect x="380.76" y="336.28" width="7.46" height="5.94" fill="#f0f9dc" stroke="#a0a0a0" stroke-width="0.55"/>
<rect x="388.22" y="336.28" width="7.46" height="5.94" fill="#fdae6f" stroke="#a0a0a0" stroke-width="0.55"/>
<rect x="348.3" y="342.22" width="7.46" height="5.94" fill="#fee597" stroke="#a0a0a0" stroke-width="0.55"/>
<rect x="355.76" y="342.22" width="7.46" height="5.94" fill="#82b0d3" stroke="#a0a0a0" stroke-width="0.55"/>
<rect x="363.22" y="342.22" width="7.46" height="5.94" fill="#f67f51" stroke="#a0a0a0" stroke-width="0.55"/>
<rect x="373.3" y="342.22" width="7.46" height="5.94" fill="#c8e3ef" stroke="#a0a0a0" stroke-width="0.55"/>
<rect x="380.76" y="342.22" width="7.46" height="5.94" fill="#f3fad6" stroke="#a0a0a0" stroke-width="0.55"/>
<rect x="388.22" y="342.22" width="7.46" height="5.94" fill="#fdae6f" stroke="#a0a0a0" stroke-width="0.55"/>
<rect x="348.3" y="348.16" width="7.46" height="5.94" fill="#fee597" stroke="#a0a0a0" stroke-width="0.55"/>
<rect x="355.76" y="348.16" width="7.46" height="5.94" fill="#82b0d3" stroke="#a0a0a0" stroke-width="0.55"/>
<rect x="363.22" y="348.16" width="7.46" height="5.94" fill="#f67f51" stroke="#a0a0a0" stroke-width="0.55"/>
<rect x="373.3" y="348.16" width="7.46" height="5.94" fill="#cce6f1" stroke="#a0a0a0" stroke-width="0.55"/>
<rect x="380.76" y="348.16" width="7.46" height="5.94" fill="#f3fad6" stroke="#a0a0a0" stroke-width="0.55"/>
<rect x="388.22" y="348.16" width="7.46" height="5.94" fill="#fdae6f" stroke="#a0a0a0" stroke-width="0.55"/>
<rect x="348.3" y="354.11" width="7.46" height="5.94" fill="#feeba0" stroke="#a0a0a0" stroke-width="0.55"/>
<rect x="355.76" y="354.11" width="7.46" height="5.94" fill="#7eacd1" stroke="#a0a0a0" stroke-width="0.55"/>
<rect x="363.22" y="354.11" width="7.46" height="5.94" fill="#f67f51" stroke="#a0a0a0" stroke-width="0.55"/>
<rect x="373.3" y="354.11" width="7.46" height="5.94" fill="#cce6f1" stroke="#a0a0a0" stroke-width="0.55"/>
<rect x="380.76" y="354.11" width="7.46" height="5.94" fill="#f3fad6" stroke="#a0a0a0" stroke-width="0.55"/>
<rect x="388.22" y="354.11" width="7.46" height="5.94" fill="#fdae6f" stroke="#a0a0a0" stroke-width="0.55"/>
<rect x="348.3" y="360.05" width="7.46" height="5.94" fill="#feeba0" stroke="#a0a0a0" stroke-width="0.55"/>
<rect x="355.76" y="360.05" width="7.46" height="5.94" fill="#7eacd1" stroke="#a0a0a0" stroke-width="0.55"/>
<rect x="363.22" y="360.05" width="7.46" height="5.94" fill="#f67f51" stroke="#a0a0a0" stroke-width="0.55"/>
<rect x="373.3" y="360.05" width="7.46" height="5.94" fill="#cce6f1" stroke="#a0a0a0" stroke-width="0.55"/>
<rect x="380.76" y="360.05" width="7.46" height="5.94" fill="#f4fbd3" stroke="#a0a0a0" stroke-width="0.55"/>
<rect x="388.22" y="360.05" width="7.46" height="5.94" fill="#fdae6f" stroke="#a0a0a0" stroke-width="0.55"/>
<rect x="348.3" y="365.99" width="7.46" height="5.94" fill="#fee597" stroke="#a0a0a0" stroke-width="0.55"/>
<rect x="355.76" y="365.99" width="7.46" height="5.94" fill="#7aa9cf" stroke="#a0a0a0" stroke-width="0.55"/>
<rect x="363.22" y="365.99" width="7.46" height="5.94" fill="#fc8d59" stroke="#a0a0a0" stroke-width="0.55"/>
<rect x="373.3" y="365.99" width="7.46" height="5.94" fill="#c8e3ef" stroke="#a0a0a0" stroke-width="0.55"/>
<rect x="380.76" y="365.99" width="7.46" height="5.94" fill="#f9fdca" stroke="#a0a0a0" stroke-width="0.55"/>
<rect x="388.22" y="365.99" width="7.46" height="5.94" fill="#fdaa6c" stroke="#a0a0a0" stroke-width="0.55"/>
<rect x="348.3" y="371.94" width="7.46" height="5.94" fill="#fee597" stroke="#a0a0a0" stroke-width="0.55"/>
<rect x="355.76" y="371.94" width="7.46" height="5.94" fill="#7eacd1" stroke="#a0a0a0" stroke-width="0.55"/>
<rect x="363.22" y="371.94" width="7.46" height="5.94" fill="#f88454" stroke="#a0a0a0" stroke-width="0.55"/>
<rect x="373.3" y="371.94" width="7.46" height="5.94" fill="#b8d9ea" stroke="#a0a0a0" stroke-width="0.55"/>
<rect x="380.76" y="371.94" width="7.46" height="5.94" fill="#fafdc8" stroke="#a0a0a0" stroke-width="0.55"/>
<rect x="388.22" y="371.94" width="7.46" height="5.94" fill="#fdaa6c" stroke="#a0a0a0" stroke-width="0.55"/>
<rect x="348.3" y="377.88" width="7.46" height="5.94" fill="#ecf8e1" stroke="#a0a0a0" stroke-width="0.55"/>
<rect x="355.76" y="377.88" width="7.46" height="5.94" fill="#91bfdb" stroke="#a0a0a0" stroke-width="0.55"/>
<rect x="363.22" y="377.88" width="7.46" height="5.94" fill="#fc8d59" stroke="#a0a0a0" stroke-width="0.55"/>
<rect x="373.3" y="377.88" width="7.46" height="5.94" fill="#ffffbf" stroke="#a0a0a0" stroke-width="0.55"/>
<rect x="380.76" y="377.88" width="7.46" height="5.94" fill="#d8eef5" stroke="#a0a0a0" stroke-width="0.55"/>
<rect x="388.22" y="377.88" width="7.46" height="5.94" fill="#fc955e" stroke="#a0a0a0" stroke-width="0.55"/>
<rect x="348.3" y="383.82" width="7.46" height="5.94" fill="#ffffbf" stroke="#a0a0a0" stroke-width="0.55"/>
<rect x="355.76" y="383.82" width="7.46" height="5.94" fill="#5080ba" stroke="#a0a0a0" stroke-width="0.55"/>
<rect x="363.22" y="383.82" width="7.46" height="5.94" fill="#fc955e" stroke="#a0a0a0" stroke-width="0.55"/>
<rect x="373.3" y="383.82" width="7.46" height="5.94" fill="#fff4af" stroke="#a0a0a0" stroke-width="0.55"/>
<rect x="380.76" y="383.82" width="7.46" height="5.94" fill="#fcfec5" stroke="#a0a0a0" stroke-width="0.55"/>
<rect x="388.22" y="383.82" width="7.46" height="5.94" fill="#fdc37d" stroke="#a0a0a0" stroke-width="0.55"/>
<rect x="348.3" y="389.77" width="7.46" height="5.94" fill="#fafdc8" stroke="#a0a0a0" stroke-width="0.55"/>
<rect x="355.76" y="389.77" width="7.46" height="5.94" fill="#5484bc" stroke="#a0a0a0" stroke-width="0.55"/>
<rect x="363.22" y="389.77" width="7.46" height="5.94" fill="#fa8857" stroke="#a0a0a0" stroke-width="0.55"/>
<rect x="373.3" y="389.77" width="7.46" height="5.94" fill="#fff7b3" stroke="#a0a0a0" stroke-width="0.55"/>
<rect x="380.76" y="389.77" width="7.46" height="5.94" fill="#fafdc8" stroke="#a0a0a0" stroke-width="0.55"/>
<rect x="388.22" y="389.77" width="7.46" height="5.94" fill="#fdc37d" stroke="#a0a0a0" stroke-width="0.55"/>
<rect x="348.3" y="395.71" width="7.46" height="5.94" fill="#ffffbf" stroke="#a0a0a0" stroke-width="0.55"/>
<rect x="355.76" y="395.71" width="7.46" height="5.94" fill="#5484bc" stroke="#a0a0a0" stroke-width="0.55"/>
<rect x="363.22" y="395.71" width="7.46" height="5.94" fill="#fa8857" stroke="#a0a0a0" stroke-width="0.55"/>
<rect x="373.3" y="395.71" width="7.46" height="5.94" fill="#fff9b6" stroke="#a0a0a0" stroke-width="0.55"/>
<rect x="380.76" y="395.71" width="7.46" height="5.94" fill="#f7fccd" stroke="#a0a0a0" stroke-width="0.55"/>
<rect x="388.22" y="395.71" width="7.46" height="5.94" fill="#fdbf7a" stroke="#a0a0a0" stroke-width="0.55"/>
<rect x="348.3" y="401.65" width="7.46" height="5.94" fill="#fff9b6" stroke="#a0a0a0" stroke-width="0.55"/>
<rect x="355.76" y="401.65" width="7.46" height="5.94" fill="#5484bc" stroke="#a0a0a0" stroke-width="0.55"/>
<rect x="363.22" y="401.65" width="7.46" height="5.94" fill="#fa8857" stroke="#a0a0a0" stroke-width="0.55"/>
<rect x="373.3" y="401.65" width="7.46" height="5.94" fill="#fff9b6" stroke="#a0a0a0" stroke-width="0.55"/>
<rect x="380.76" y="401.65" width="7.46" height="5.94" fill="#f7fccd" stroke="#a0a0a0" stroke-width="0.55"/>
<rect x="388.22" y="401.65" width="7.46" height="5.94" fill="#fdc780" stroke="#a0a0a0" stroke-width="0.55"/>
<rect x="348.3" y="407.59" width="7.46" height="5.94" fill="#fff4af" stroke="#a0a0a0" stroke-width="0.55"/>
<rect x="355.76" y="407.59" width="7.46" height="5.94" fill="#5080ba" stroke="#a0a0a0" stroke-width="0.55"/>
<rect x="363.22" y="407.59" width="7.46" height="5.94" fill="#fc8d59" stroke="#a0a0a0" stroke-width="0.55"/>
<rect x="373.3" y="407.59" width="7.46" height="5.94" fill="#fffab8" stroke="#a0a0a0" stroke-width="0.55"/>
<rect x="380.76" y="407.59" width="7.46" height="5.94" fill="#f6fbd0" stroke="#a0a0a0" stroke-width="0.55"/>
<rect x="388.22" y="407.59" width="7.46" height="5.94" fill="#fed689" stroke="#a0a0a0" stroke-width="0.55"/>
<rect x="348.3" y="413.54" width="7.46" height="5.94" fill="#feeea5" stroke="#a0a0a0" stroke-width="0.55"/>
<rect x="355.76" y="413.54" width="7.46" height="5.94" fill="#5c8bc0" stroke="#a0a0a0" stroke-width="0.55"/>
<rect x="363.22" y="413.54" width="7.46" height="5.94" fill="#f88454" stroke="#a0a0a0" stroke-width="0.55"/>
<rect x="373.3" y="413.54" width="7.46" height="5.94" fill="#fff9b6" stroke="#a0a0a0" stroke-width="0.55"/>
<rect x="380.76" y="413.54" width="7.46" height="5.94" fill="#f0f9dc" stroke="#a0a0a0" stroke-width="0.55"/>
<rect x="388.22" y="413.54" width="7.46" height="5.94" fill="#feda8c" stroke="#a0a0a0" stroke-width="0.55"/>
<rect x="348.3" y="419.48" width="7.46" height="5.94" fill="#cce6f1" stroke="#a0a0a0" stroke-width="0.55"/>
<rect x="355.76" y="419.48" width="7.46" height="5.94" fill="#f4fbd3" stroke="#a0a0a0" stroke-width="0.55"/>
<rect x="363.22" y="419.48" width="7.46" height="5.94" fill="#f3764c" stroke="#a0a0a0" stroke-width="0.55"/>
<rect x="373.3" y="419.48" width="7.46" height="5.94" fill="#d0e9f2" stroke="#a0a0a0" stroke-width="0.55"/>
<rect x="380.76" y="419.48" width="7.46" height="5.94" fill="#fc8d59" stroke="#a0a0a0" stroke-width="0.55"/>
<rect x="388.22" y="419.48" width="7.46" height="5.94" fill="#d4ebf4" stroke="#a0a0a0" stroke-width="0.55"/>
<rect x="348.3" y="425.42" width="7.46" height="5.94" fill="#fc9e64" stroke="#a0a0a0" stroke-width="0.55"/>
<rect x="355.76" y="425.42" width="7.46" height="5.94" fill="#f7fccd" stroke="#a0a0a0" stroke-width="0.55"/>
<rect x="363.22" y="425.42" width="7.46" height="5.94" fill="#ef6c48" stroke="#a0a0a0" stroke-width="0.55"/>
<rect x="373.3" y="425.42" width="7.46" height="5.94" fill="#b5d6e8" stroke="#a0a0a0" stroke-width="0.55"/>
<rect x="380.76" y="425.42" width="7.46" height="5.94" fill="#e0f3f8" stroke="#a0a0a0" stroke-width="0.55"/>
<rect x="388.22" y="425.42" width="7.46" height="5.94" fill="#e0f3f8" stroke="#a0a0a0" stroke-width="0.55"/>
<rect x="348.3" y="431.37" width="7.46" height="5.94" fill="#fc8d59" stroke="#a0a0a0" stroke-width="0.55"/>
<rect x="355.76" y="431.37" width="7.46" height="5.94" fill="#ffffbf" stroke="#a0a0a0" stroke-width="0.55"/>
<rect x="363.22" y="431.37" width="7.46" height="5.94" fill="#f57a4f" stroke="#a0a0a0" stroke-width="0.55"/>
<rect x="373.3" y="431.37" width="7.46" height="5.94" fill="#a5cce2" stroke="#a0a0a0" stroke-width="0.55"/>
<rect x="380.76" y="431.37" width="7.46" height="5.94" fill="#e6f5ed" stroke="#a0a0a0" stroke-width="0.55"/>
<rect x="388.22" y="431.37" width="7.46" height="5.94" fill="#d4ebf4" stroke="#a0a0a0" stroke-width="0.55"/>
<rect x="348.3" y="437.31" width="7.46" height="5.94" fill="#fc8d59" stroke="#a0a0a0" stroke-width="0.55"/>
<rect x="355.76" y="437.31" width="7.46" height="5.94" fill="#ffffbf" stroke="#a0a0a0" stroke-width="0.55"/>
<rect x="363.22" y="437.31" width="7.46" height="5.94" fill="#fc9961" stroke="#a0a0a0" stroke-width="0.55"/>
<rect x="373.3" y="437.31" width="7.46" height="5.94" fill="#82b0d3" stroke="#a0a0a0" stroke-width="0.55"/>
<rect x="380.76" y="437.31" width="7.46" height="5.94" fill="#e8f6ea" stroke="#a0a0a0" stroke-width="0.55"/>
<rect x="388.22" y="437.31" width="7.46" height="5.94" fill="#f0f9dc" stroke="#a0a0a0" stroke-width="0.55"/>
<rect x="348.3" y="443.25" width="7.46" height="5.94" fill="#fc8d59" stroke="#a0a0a0" stroke-width="0.55"/>
<rect x="355.76" y="443.25" width="7.46" height="5.94" fill="#f3fad6" stroke="#a0a0a0" stroke-width="0.55"/>
<rect x="363.22" y="443.25" width="7.46" height="5.94" fill="#fc8d59" stroke="#a0a0a0" stroke-width="0.55"/>
<rect x="373.3" y="443.25" width="7.46" height="5.94" fill="#89b8d7" stroke="#a0a0a0" stroke-width="0.55"/>
<rect x="380.76" y="443.25" width="7.46" height="5.94" fill="#e0f3f8" stroke="#a0a0a0" stroke-width="0.55"/>
<rect x="388.22" y="443.25" width="7.46" height="5.94" fill="#ffffbf" stroke="#a0a0a0" stroke-width="0.55"/>
<rect x="348.3" y="449.2" width="7.46" height="5.94" fill="#ef6c48" stroke="#a0a0a0" stroke-width="0.55"/>
<rect x="355.76" y="449.2" width="7.46" height="5.94" fill="#fff1aa" stroke="#a0a0a0" stroke-width="0.55"/>
<rect x="363.22" y="449.2" width="7.46" height="5.94" fill="#fda66a" stroke="#a0a0a0" stroke-width="0.55"/>
<rect x="373.3" y="449.2" width="7.46" height="5.94" fill="#a9cfe4" stroke="#a0a0a0" stroke-width="0.55"/>
<rect x="380.76" y="449.2" width="7.46" height="5.94" fill="#f0f9dc" stroke="#a0a0a0" stroke-width="0.55"/>
<rect x="388.22" y="449.2" width="7.46" height="5.94" fill="#b1d4e7" stroke="#a0a0a0" stroke-width="0.55"/>
<rect x="348.3" y="455.14" width="7.46" height="5.94" fill="#ed6845" stroke="#a0a0a0" stroke-width="0.55"/>
<rect x="355.76" y="455.14" width="7.46" height="5.94" fill="#fff9b6" stroke="#a0a0a0" stroke-width="0.55"/>
<rect x="363.22" y="455.14" width="7.46" height="5.94" fill="#fca267" stroke="#a0a0a0" stroke-width="0.55"/>
<rect x="373.3" y="455.14" width="7.46" height="5.94" fill="#b8d9ea" stroke="#a0a0a0" stroke-width="0.55"/>
<rect x="380.76" y="455.14" width="7.46" height="5.94" fill="#c4e1ee" stroke="#a0a0a0" stroke-width="0.55"/>
<rect x="388.22" y="455.14" width="7.46" height="5.94" fill="#d0e9f2" stroke="#a0a0a0" stroke-width="0.55"/>
<rect x="348.3" y="461.08" width="7.46" height="5.94" fill="#f67f51" stroke="#a0a0a0" stroke-width="0.55"/>
<rect x="355.76" y="461.08" width="7.46" height="5.94" fill="#fee597" stroke="#a0a0a0" stroke-width="0.55"/>
<rect x="363.22" y="461.08" width="7.46" height="5.94" fill="#fc955e" stroke="#a0a0a0" stroke-width="0.55"/>
<rect x="373.3" y="461.08" width="7.46" height="5.94" fill="#c0deec" stroke="#a0a0a0" stroke-width="0.55"/>
<rect x="380.76" y="461.08" width="7.46" height="5.94" fill="#c0deec" stroke="#a0a0a0" stroke-width="0.55"/>
<rect x="388.22" y="461.08" width="7.46" height="5.94" fill="#c0deec" stroke="#a0a0a0" stroke-width="0.55"/>
<rect x="348.3" y="467.02" width="7.46" height="5.94" fill="#de4331" stroke="#a0a0a0" stroke-width="0.55"/>
<rect x="355.76" y="467.02" width="7.46" height="5.94" fill="#fff1aa" stroke="#a0a0a0" stroke-width="0.55"/>
<rect x="363.22" y="467.02" width="7.46" height="5.94" fill="#feeba0" stroke="#a0a0a0" stroke-width="0.55"/>
<rect x="373.3" y="467.02" width="7.46" height="5.94" fill="#b8d9ea" stroke="#a0a0a0" stroke-width="0.55"/>
<rect x="380.76" y="467.02" width="7.46" height="5.94" fill="#e8f6ea" stroke="#a0a0a0" stroke-width="0.55"/>
<rect x="388.22" y="467.02" width="7.46" height="5.94" fill="#c4e1ee" stroke="#a0a0a0" stroke-width="0.55"/>
<rect x="348.3" y="472.97" width="7.46" height="5.94" fill="#db392c" stroke="#a0a0a0" stroke-width="0.55"/>
<rect x="355.76" y="472.97" width="7.46" height="5.94" fill="#fff6b1" stroke="#a0a0a0" stroke-width="0.55"/>
<rect x="363.22" y="472.97" width="7.46" height="5.94" fill="#feeca3" stroke="#a0a0a0" stroke-width="0.55"/>
<rect x="373.3" y="472.97" width="7.46" height="5.94" fill="#d8eef5" stroke="#a0a0a0" stroke-width="0.55"/>
<rect x="380.76" y="472.97" width="7.46" height="5.94" fill="#d4ebf4" stroke="#a0a0a0" stroke-width="0.55"/>
<rect x="388.22" y="472.97" width="7.46" height="5.94" fill="#d0e9f2" stroke="#a0a0a0" stroke-width="0.55"/>
<rect x="348.3" y="478.91" width="7.46" height="5.94" fill="#d73027" stroke="#a0a0a0" stroke-width="0.55"/>
<rect x="355.76" y="478.91" width="7.46" height="5.94" fill="#fff7b3" stroke="#a0a0a0" stroke-width="0.55"/>
<rect x="363.22" y="478.91" width="7.46" height="5.94" fill="#feeca3" stroke="#a0a0a0" stroke-width="0.55"/>
<rect x="373.3" y="478.91" width="7.46" height="5.94" fill="#d8eef5" stroke="#a0a0a0" stroke-width="0.55"/>
<rect x="380.76" y="478.91" width="7.46" height="5.94" fill="#d0e9f2" stroke="#a0a0a0" stroke-width="0.55"/>
<rect x="388.22" y="478.91" width="7.46" height="5.94" fill="#d8eef5" stroke="#a0a0a0" stroke-width="0.55"/>
<rect x="348.3" y="484.85" width="7.46" height="5.94" fill="#e45138" stroke="#a0a0a0" stroke-width="0.55"/>
<rect x="355.76" y="484.85" width="7.46" height="5.94" fill="#fff1aa" stroke="#a0a0a0" stroke-width="0.55"/>
<rect x="363.22" y="484.85" width="7.46" height="5.94" fill="#fee699" stroke="#a0a0a0" stroke-width="0.55"/>
<rect x="373.3" y="484.85" width="7.46" height="5.94" fill="#a9cfe4" stroke="#a0a0a0" stroke-width="0.55"/>
<rect x="380.76" y="484.85" width="7.46" height="5.94" fill="#e3f4f2" stroke="#a0a0a0" stroke-width="0.55"/>
<rect x="388.22" y="484.85" width="7.46" height="5.94" fill="#d4ebf4" stroke="#a0a0a0" stroke-width="0.55"/>
<rect x="348.3" y="490.8" width="7.46" height="5.94" fill="#e6553b" stroke="#a0a0a0" stroke-width="0.55"/>
<rect x="355.76" y="490.8" width="7.46" height="5.94" fill="#fff7b3" stroke="#a0a0a0" stroke-width="0.55"/>
<rect x="363.22" y="490.8" width="7.46" height="5.94" fill="#feeba0" stroke="#a0a0a0" stroke-width="0.55"/>
<rect x="373.3" y="490.8" width="7.46" height="5.94" fill="#9dc7df" stroke="#a0a0a0" stroke-width="0.55"/>
<rect x="380.76" y="490.8" width="7.46" height="5.94" fill="#d8eef5" stroke="#a0a0a0" stroke-width="0.55"/>
<rect x="388.22" y="490.8" width="7.46" height="5.94" fill="#f4fbd3" stroke="#a0a0a0" stroke-width="0.55"/>
<text x="398.6" y="26.87" font-size="7.42" transform="rotate(0.03 398.6 26.87)">superpathway.of.glucose.and.xylose.degradation</text>
<text x="398.6" y="32.81" font-size="7.42" transform="rotate(0.03 398.6 32.81)">sucrose.degradation.IV..sucrose.phosphorylase.</text>
<text x="398.6" y="38.76" font-size="7.42" transform="rotate(0.03 398.6 38.76)">mixed.acid.fermentation</text>
<text x="398.6" y="44.7" font-size="7.42" transform="rotate(0.03 398.6 44.7)">inosine.5..phosphate.biosynthesis.III</text>
<text x="398.6" y="50.64" font-size="7.42" transform="rotate(0.03 398.6 50.64)">pyrimidine.deoxyribonucleotides.de.novo.biosynthesis.II</text>
<text x="398.6" y="56.59" font-size="7.42" transform="rotate(0.03 398.6 56.59)">acetylene.degradation</text>
<text x="398.6" y="62.53" font-size="7.42" transform="rotate(0.03 398.6 62.53)">aspartate.superpathway</text>
<text x="398.6" y="68.47" font-size="7.42" transform="rotate(0.03 398.6 68.47)">superpathway.of.L.lysine..L.threonine.and.L.methionine.biosynthesis.I</text>
<text x="398.6" y="74.42" font-size="7.42" transform="rotate(0.03 398.6 74.42)">superpathway.of.L.methionine.biosynthesis..transsulfuration.</text>
<text x="398.6" y="80.36" font-size="7.42" transform="rotate(0.03 398.6 80.36)">L.methionine.biosynthesis.I</text>
<text x="398.6" y="86.3" font-size="7.42" transform="rotate(0.03 398.6 86.3)">superpathway.of.S.adenosyl.L.methionine.biosynthesis</text>
<text x="398.6" y="92.24" font-size="7.42" transform="rotate(0.03 398.6 92.24)">reductive.TCA.cycle.I</text>
<text x="398.6" y="98.19" font-size="7.42" transform="rotate(0.03 398.6 98.19)">adenosine.deoxyribonucleotides.de.novo.biosynthesis.II</text>
<text x="398.6" y="104.13" font-size="7.42" transform="rotate(0.03 398.6 104.13)">guanosine.deoxyribonucleotides.de.novo.biosynthesis.II</text>
<text x="398.6" y="110.07" font-size="7.42" transform="rotate(0.03 398.6 110.07)">Bifidobacterium.shunt</text>
<text x="398.6" y="116.02" font-size="7.42" transform="rotate(0.03 398.6 116.02)">S.adenosyl.L.methionine.cycle.I</text>
<text x="398.6" y="121.96" font-size="7.42" transform="rotate(0.03 398.6 121.96)">superpathway.of.L.alanine.biosynthesis</text>
<text x="398.6" y="127.9" font-size="7.42" transform="rotate(0.03 398.6 127.9)">L.lysine.biosynthesis.II</text>
<text x="398.6" y="133.85" font-size="7.42" transform="rotate(0.03 398.6 133.85)">teichoic.acid..poly.glycerol..biosynthesis</text>
<text x="398.6" y="139.79" font-size="7.42" transform="rotate(0.03 398.6 139.79)">arginine..ornithine.and.proline.interconversion</text>
<text x="398.6" y="145.73" font-size="7.42" transform="rotate(0.03 398.6 145.73)">lactose.and.galactose.degradation.I</text>
<text x="398.6" y="151.67" font-size="7.42" transform="rotate(0.03 398.6 151.67)">methanogenesis.from.acetate</text>
<text x="398.6" y="157.62" font-size="7.42" transform="rotate(0.03 398.6 157.62)">biotin.biosynthesis.II</text>
<text x="398.6" y="163.56" font-size="7.42" transform="rotate(0.03 398.6 163.56)">purine.nucleobases.degradation.I..anaerobic.</text>
<text x="398.6" y="169.5" font-size="7.42" transform="rotate(0.03 398.6 169.5)">superpathway.of.purine.deoxyribonucleosides.degradation</text>
<text x="398.6" y="175.45" font-size="7.42" transform="rotate(0.03 398.6 175.45)">cob.II.yrinate.a.c.diamide.biosynthesis.I..early.cobalt.insertion.</text>
<text x="398.6" y="181.39" font-size="7.42" transform="rotate(0.03 398.6 181.39)">urea.cycle</text>
<text x="398.6" y="187.33" font-size="7.42" transform="rotate(0.03 398.6 187.33)">superpathway.of.polyamine.biosynthesis.I</text>
<text x="398.6" y="193.28" font-size="7.42" transform="rotate(0.03 398.6 193.28)">superpathway.of.arginine.and.polyamine.biosynthesis</text>
<text x="398.6" y="199.22" font-size="7.42" transform="rotate(0.03 398.6 199.22)">L.lysine.fermentation.to.acetate.and.butanoate</text>
<text x="398.6" y="205.16" font-size="7.42" transform="rotate(0.03 398.6 205.16)">acetyl.CoA.fermentation.to.butanoate.II</text>
<text x="398.6" y="211.1" font-size="7.42" transform="rotate(0.03 398.6 211.1)">L.1.2.propanediol.degradation</text>
<text x="398.6" y="217.05" font-size="7.42" transform="rotate(0.03 398.6 217.05)">fatty.acid..beta..oxidation.I</text>
<text x="398.6" y="222.99" font-size="7.42" transform="rotate(0.03 398.6 222.99)">TCA.cycle.VIII..helicobacter.</text>
<text x="398.6" y="228.93" font-size="7.42" transform="rotate(0.03 398.6 228.93)">glutaryl.CoA.degradation</text>
<text x="398.6" y="234.88" font-size="7.42" transform="rotate(0.03 398.6 234.88)">pyruvate.fermentation.to.acetone</text>
<text x="398.6" y="240.82" font-size="7.42" transform="rotate(0.03 398.6 240.82)">pyruvate.fermentation.to.butanoate</text>
<text x="398.6" y="246.76" font-size="7.42" transform="rotate(0.03 398.6 246.76)">superpathway.of.Clostridium.acetobutylicum.acidogenic.fermentation</text>
<text x="398.6" y="252.71" font-size="7.42" transform="rotate(0.03 398.6 252.71)">L.lysine.biosynthesis.I</text>
<text x="398.6" y="258.65" font-size="7.42" transform="rotate(0.03 398.6 258.65)">heme.biosynthesis.II..anaerobic.</text>
<text x="398.6" y="264.59" font-size="7.42" transform="rotate(0.03 398.6 264.59)">peptidoglycan.maturation..meso.diaminopimelate.containing.</text>
<text x="398.6" y="270.53" font-size="7.42" transform="rotate(0.03 398.6 270.53)">pyruvate.fermentation.to.acetate.and.lactate.II</text>
<text x="398.6" y="276.48" font-size="7.42" transform="rotate(0.03 398.6 276.48)">NAD.salvage.pathway.I</text>
<text x="398.6" y="282.42" font-size="7.42" transform="rotate(0.03 398.6 282.42)">UMP.biosynthesis</text>
<text x="398.6" y="288.36" font-size="7.42" transform="rotate(0.03 398.6 288.36)">peptidoglycan.biosynthesis.III..mycobacteria.</text>
<text x="398.6" y="294.31" font-size="7.42" transform="rotate(0.03 398.6 294.31)">UDP.N.acetylmuramoyl.pentapeptide.biosynthesis.II..lysine.containing.</text>
<text x="398.6" y="300.25" font-size="7.42" transform="rotate(0.03 398.6 300.25)">UDP.N.acetylmuramoyl.pentapeptide.biosynthesis.I..meso.diaminopimelate.containing.</text>
<text x="398.6" y="306.19" font-size="7.42" transform="rotate(0.03 398.6 306.19)">peptidoglycan.biosynthesis.I..meso.diaminopimelate.containing.</text>
<text x="398.6" y="312.14" font-size="7.42" transform="rotate(0.03 398.6 312.14)">superpathway.of.pyrimidine.nucleobases.salvage</text>
<text x="398.6" y="318.08" font-size="7.42" transform="rotate(0.03 398.6 318.08)">adenosine.ribonucleotides.de.novo.biosynthesis</text>
<text x="398.6" y="324.02" font-size="7.42" transform="rotate(0.03 398.6 324.02)">sucrose.degradation.III..sucrose.invertase.</text>
<text x="398.6" y="329.96" font-size="7.42" transform="rotate(0.03 398.6 329.96)">glycolysis.III..from.glucose.</text>
<text x="398.6" y="335.91" font-size="7.42" transform="rotate(0.03 398.6 335.91)">CDP.diacylglycerol.biosynthesis.I</text>
<text x="398.6" y="341.85" font-size="7.42" transform="rotate(0.03 398.6 341.85)">CDP.diacylglycerol.biosynthesis.II</text>
<text x="398.6" y="347.79" font-size="7.42" transform="rotate(0.03 398.6 347.79)">tRNA.charging</text>
<text x="398.6" y="353.74" font-size="7.42" transform="rotate(0.03 398.6 353.74)">superpathway.of.phospholipid.biosynthesis.I..bacteria.</text>
<text x="398.6" y="359.68" font-size="7.42" transform="rotate(0.03 398.6 359.68)">phosphatidylglycerol.biosynthesis.I..plastidic.</text>
<text x="398.6" y="365.62" font-size="7.42" transform="rotate(0.03 398.6 365.62)">phosphatidylglycerol.biosynthesis.II..non.plastidic.</text>
<text x="398.6" y="371.57" font-size="7.42" transform="rotate(0.03 398.6 371.57)">pyruvate.fermentation.to.isobutanol..engineered.</text>
<text x="398.6" y="377.51" font-size="7.42" transform="rotate(0.03 398.6 377.51)">pentose.phosphate.pathway..non.oxidative.branch.</text>
<text x="398.6" y="383.45" font-size="7.42" transform="rotate(0.03 398.6 383.45)">peptidoglycan.biosynthesis.IV..Enterococcus.faecium.</text>
<text x="398.6" y="389.39" font-size="7.42" transform="rotate(0.03 398.6 389.39)">superpathway.of.adenosine.nucleotides.de.novo.biosynthesis.II</text>
<text x="398.6" y="395.34" font-size="7.42" transform="rotate(0.03 398.6 395.34)">UDP.N.acetyl.D.glucosamine.biosynthesis.I</text>
<text x="398.6" y="401.28" font-size="7.42" transform="rotate(0.03 398.6 401.28)">superpathway.of.adenosine.nucleotides.de.novo.biosynthesis.I</text>
<text x="398.6" y="407.22" font-size="7.42" transform="rotate(0.03 398.6 407.22)">O.antigen.building.blocks.biosynthesis..E..coli.</text>
<text x="398.6" y="413.17" font-size="7.42" transform="rotate(0.03 398.6 413.17)">galactose.degradation.I..Leloir.pathway.</text>
<text x="398.6" y="419.11" font-size="7.42" transform="rotate(0.03 398.6 419.11)">guanosine.ribonucleotides.de.novo.biosynthesis</text>
<text x="398.6" y="425.05" font-size="7.42" transform="rotate(0.03 398.6 425.05)">isopropanol.biosynthesis</text>
<text x="398.6" y="431" font-size="7.42" transform="rotate(0.03 398.6 431)">anhydromuropeptides.recycling</text>
<text x="398.6" y="436.94" font-size="7.42" transform="rotate(0.03 398.6 436.94)">reductive.acetyl.coenzyme.A.pathway</text>
<text x="398.6" y="442.88" font-size="7.42" transform="rotate(0.03 398.6 442.88)">superpathway.of.GDP.mannose.derived.O.antigen.building.blocks.biosynthesis</text>
<text x="398.6" y="448.82" font-size="7.42" transform="rotate(0.03 398.6 448.82)">L.histidine.degradation.I</text>
<text x="398.6" y="454.77" font-size="7.42" transform="rotate(0.03 398.6 454.77)">mannan.degradation</text>
<text x="398.6" y="460.71" font-size="7.42" transform="rotate(0.03 398.6 460.71)">tRNA.processing</text>
<text x="398.6" y="466.65" font-size="7.42" transform="rotate(0.03 398.6 466.65)">UDP.2.3.diacetamido.2.3.dideoxy..alpha..D.mannuronate.biosynthesis</text>
<text x="398.6" y="472.6" font-size="7.42" transform="rotate(0.03 398.6 472.6)">myo...chiro..and.scillo.inositol.degradation</text>
<text x="398.6" y="478.54" font-size="7.42" transform="rotate(0.03 398.6 478.54)">chondroitin.sulfate.degradation.I..bacterial.</text>
<text x="398.6" y="484.48" font-size="7.42" transform="rotate(0.03 398.6 484.48)">superpathway.of.sulfur.oxidation..Acidianus.ambivalens.</text>
<text x="398.6" y="490.43" font-size="7.42" transform="rotate(0.03 398.6 490.43)">L.arginine.biosynthesis.III..via.N.acetyl.L.citrulline.</text>
<text x="398.6" y="496.37" font-size="7.42" transform="rotate(0.03 398.6 496.37)">X4.deoxy.L.threo.hex.4.enopyranuronate.degradation</text>
<text x="349.43" y="499.2" font-size="7.3" transform="rotate(90.03 349.43 499.2)">WT_C</text>
<text x="356.89" y="499.2" font-size="7.3" transform="rotate(90.03 356.89 499.2)">WT_M</text>
<text x="364.35" y="499.2" font-size="7.3" transform="rotate(90.03 364.35 499.2)">WT_K</text>
<text x="374.43" y="499.2" font-size="7.3" transform="rotate(90.03 374.43 499.2)">3xTg_C</text>
<text x="381.89" y="499.2" font-size="7.3" transform="rotate(90.03 381.89 499.2)">3xTg_M</text>
<text x="389.35" y="499.2" font-size="7.3" transform="rotate(90.03 389.35 499.2)">3xTg_K</text>
<path d="M348.2 24.27H346.8V30.21H348.2" fill="none" stroke="#000" stroke-width="0.8"/>
<path d="M348.2 42.1H346.3V48.04H348.2" fill="none" stroke="#000" stroke-width="0.8"/>
<path d="M348.2 36.16H345.2V45.07H346.3" fill="none" stroke="#000" stroke-width="0.8"/>
<path d="M348.2 59.93H347.2V65.87H348.2" fill="none" stroke="#000" stroke-width="0.8"/>
<path d="M348.2 77.76H347.4V83.7H348.2" fill="none" stroke="#000" stroke-width="0.8"/>
<path d="M348.2 71.82H346.8V80.73H347.4" fill="none" stroke="#000" stroke-width="0.8"/>
<path d="M347.2 62.9H346.3V76.27H346.8" fill="none" stroke="#000" stroke-width="0.8"/>
<path d="M348.2 53.99H345.5V69.59H346.3" fill="none" stroke="#000" stroke-width="0.8"/>
<path d="M345.2 40.61H343.3V61.79H345.5" fill="none" stroke="#000" stroke-width="0.8"/>
<path d="M346.8 27.24H338.4V51.2H343.3" fill="none" stroke="#000" stroke-width="0.8"/>
<path d="M348.2 95.59H347.5V101.53H348.2" fill="none" stroke="#000" stroke-width="0.8"/>
<path d="M348.2 107.47H347.5V113.42H348.2" fill="none" stroke="#000" stroke-width="0.8"/>
<path d="M347.5 98.56H346.9V110.44H347.5" fill="none" stroke="#000" stroke-width="0.8"/>
<path d="M348.2 89.64H346.3V104.5H346.9" fill="none" stroke="#000" stroke-width="0.8"/>
<path d="M348.2 125.3H346.5V131.25H348.2" fill="none" stroke="#000" stroke-width="0.8"/>
<path d="M348.2 119.36H338.8V128.27H346.5" fill="none" stroke="#000" stroke-width="0.8"/>
<path d="M346.3 97.07H332.3V123.82H338.8" fill="none" stroke="#000" stroke-width="0.8"/>
<path d="M338.4 39.22H323.3V110.44H332.3" fill="none" stroke="#000" stroke-width="0.8"/>
<path d="M348.2 137.19H347.2V143.13H348.2" fill="none" stroke="#000" stroke-width="0.8"/>
<path d="M348.2 149.07H347.2V155.02H348.2" fill="none" stroke="#000" stroke-width="0.8"/>
<path d="M347.2 140.16H346.4V152.05H347.2" fill="none" stroke="#000" stroke-width="0.8"/>
<path d="M348.2 160.96H346.8V166.9H348.2" fill="none" stroke="#000" stroke-width="0.8"/>
<path d="M346.4 146.1H345.5V163.93H346.8" fill="none" stroke="#000" stroke-width="0.8"/>
<path d="M348.2 172.85H347V178.79H348.2" fill="none" stroke="#000" stroke-width="0.8"/>
<path d="M348.2 184.73H347.2V190.68H348.2" fill="none" stroke="#000" stroke-width="0.8"/>
<path d="M348.2 214.45H347.9V220.39H348.2" fill="none" stroke="#000" stroke-width="0.8"/>
<path d="M348.2 208.5H347.7V217.42H347.9" fill="none" stroke="#000" stroke-width="0.8"/>
<path d="M348.2 226.33H347.9V232.28H348.2" fill="none" stroke="#000" stroke-width="0.8"/>
<path d="M348.2 238.22H347.9V244.16H348.2" fill="none" stroke="#000" stroke-width="0.8"/>
<path d="M347.9 229.31H347.7V241.19H347.9" fill="none" stroke="#000" stroke-width="0.8"/>
<path d="M347.7 212.96H347.5V235.25H347.7" fill="none" stroke="#000" stroke-width="0.8"/>
<path d="M348.2 202.56H347.2V224.1H347.5" fill="none" stroke="#000" stroke-width="0.8"/>
<path d="M348.2 196.62H346.8V213.33H347.2" fill="none" stroke="#000" stroke-width="0.8"/>
<path d="M347.2 187.7H346V204.98H346.8" fill="none" stroke="#000" stroke-width="0.8"/>
<path d="M347 175.82H344.6V196.34H346" fill="none" stroke="#000" stroke-width="0.8"/>
<path d="M348.2 250.11H347.3V256.05H348.2" fill="none" stroke="#000" stroke-width="0.8"/>
<path d="M348.2 267.93H347.7V273.88H348.2" fill="none" stroke="#000" stroke-width="0.8"/>
<path d="M348.2 261.99H347.7V270.91H347.7" fill="none" stroke="#000" stroke-width="0.8"/>
<path d="M348.2 285.76H347.7V291.71H348.2" fill="none" stroke="#000" stroke-width="0.8"/>
<path d="M348.2 279.82H347.7V288.74H347.7" fill="none" stroke="#000" stroke-width="0.8"/>
<path d="M347.7 266.45H347.3V284.28H347.7" fill="none" stroke="#000" stroke-width="0.8"/>
<path d="M348.2 303.59H347.7V309.54H348.2" fill="none" stroke="#000" stroke-width="0.8"/>
<path d="M348.2 297.65H347.7V306.56H347.7" fill="none" stroke="#000" stroke-width="0.8"/>
<path d="M348.2 315.48H347.7V321.42H348.2" fill="none" stroke="#000" stroke-width="0.8"/>
<path d="M348.2 327.36H347.7V333.31H348.2" fill="none" stroke="#000" stroke-width="0.8"/>
<path d="M347.7 318.45H347.7V330.34H347.7" fill="none" stroke="#000" stroke-width="0.8"/>
<path d="M347.7 302.11H347.7V324.39H347.7" fill="none" stroke="#000" stroke-width="0.8"/>
<path d="M348.2 345.19H347.7V351.14H348.2" fill="none" stroke="#000" stroke-width="0.8"/>
<path d="M348.2 339.25H347.7V348.16H347.7" fill="none" stroke="#000" stroke-width="0.8"/>
<path d="M348.2 357.08H347.7V363.02H348.2" fill="none" stroke="#000" stroke-width="0.8"/>
<path d="M348.2 368.97H347.7V374.91H348.2" fill="none" stroke="#000" stroke-width="0.8"/>
<path d="M347.7 360.05H347.7V371.94H347.7" fill="none" stroke="#000" stroke-width="0.8"/>
<path d="M347.7 343.71H347.7V365.99H347.7" fill="none" stroke="#000" stroke-width="0.8"/>
<path d="M347.7 313.25H347.3V354.85H347.7" fill="none" stroke="#000" stroke-width="0.8"/>
<path d="M347.3 275.36H347V334.05H347.3" fill="none" stroke="#000" stroke-width="0.8"/>
<path d="M347.3 253.08H346.5V304.71H347" fill="none" stroke="#000" stroke-width="0.8"/>
<path d="M348.2 392.74H347.7V398.68H348.2" fill="none" stroke="#000" stroke-width="0.8"/>
<path d="M348.2 386.79H347.32V395.71H347.7" fill="none" stroke="#000" stroke-width="0.8"/>
<path d="M348.2 410.57H347.7V416.51H348.2" fill="none" stroke="#000" stroke-width="0.8"/>
<path d="M348.2 404.62H347.32V413.54H347.7" fill="none" stroke="#000" stroke-width="0.8"/>
<path d="M347.32 391.25H346.6V409.08H347.32" fill="none" stroke="#000" stroke-width="0.8"/>
<path d="M348.2 380.85H345.7V400.17H346.6" fill="none" stroke="#000" stroke-width="0.8"/>
<path d="M346.5 278.89H344.6V390.51H345.7" fill="none" stroke="#000" stroke-width="0.8"/>
<path d="M344.6 186.08H338.6V334.7H344.6" fill="none" stroke="#000" stroke-width="0.8"/>
<path d="M345.5 155.02H337.6V260.39H338.6" fill="none" stroke="#000" stroke-width="0.8"/>
<path d="M348.2 428.4H347.43V434.34H348.2" fill="none" stroke="#000" stroke-width="0.8"/>
<path d="M348.2 440.28H347.43V446.22H348.2" fill="none" stroke="#000" stroke-width="0.8"/>
<path d="M347.43 431.37H346.8V443.25H347.43" fill="none" stroke="#000" stroke-width="0.8"/>
<path d="M348.2 458.11H347.54V464.05H348.2" fill="none" stroke="#000" stroke-width="0.8"/>
<path d="M348.2 452.17H347V461.08H347.54" fill="none" stroke="#000" stroke-width="0.8"/>
<path d="M348.2 470H347.54V475.94H348.2" fill="none" stroke="#000" stroke-width="0.8"/>
<path d="M348.2 487.83H347.7V493.77H348.2" fill="none" stroke="#000" stroke-width="0.8"/>
<path d="M348.2 481.88H347.54V490.8H347.7" fill="none" stroke="#000" stroke-width="0.8"/>
<path d="M347.54 472.97H347V486.34H347.54" fill="none" stroke="#000" stroke-width="0.8"/>
<path d="M347 456.62H346V479.65H347" fill="none" stroke="#000" stroke-width="0.8"/>
<path d="M346.8 437.31H344.2V468.14H346" fill="none" stroke="#000" stroke-width="0.8"/>
<path d="M348.2 422.45H325.2V452.72H344.2" fill="none" stroke="#000" stroke-width="0.8"/>
<path d="M337.6 207.7H322.6V437.59H325.2" fill="none" stroke="#000" stroke-width="0.8"/>
<path d="M323.3 74.83H309.3V322.65H322.6" fill="none" stroke="#000" stroke-width="0.8"/>
<text x="311.7" y="71.3" font-size="8.3" font-weight="bold" transform="rotate(0.03 311.7 71.3)">(1)</text>
<text x="325" y="204.6" font-size="8.3" font-weight="bold" transform="rotate(0.03 325 204.6)">(2)</text>
<text x="313" y="447.9" font-size="8.3" font-weight="bold" transform="rotate(0.03 313 447.9)">(3)</text>
<line x1="619.5" y1="22.8" x2="633.7" y2="22.8" stroke="#3c3c3c" stroke-width="0.75" stroke-dasharray="1 1"/>
<line x1="619.5" y1="121.9" x2="633.7" y2="121.9" stroke="#3c3c3c" stroke-width="0.75" stroke-dasharray="1 1"/>
<line x1="633.7" y1="22.8" x2="633.7" y2="121.9" stroke="#3c3c3c" stroke-width="0.75" stroke-dasharray="1 1"/>
<line x1="619.5" y1="134.3" x2="633.7" y2="134.3" stroke="#3c3c3c" stroke-width="0.75" stroke-dasharray="1 1"/>
<line x1="619.5" y1="424.1" x2="633.7" y2="424.1" stroke="#3c3c3c" stroke-width="0.75" stroke-dasharray="1 1"/>
<line x1="633.7" y1="134.3" x2="633.7" y2="424.1" stroke="#3c3c3c" stroke-width="0.75" stroke-dasharray="1 1"/>
<line x1="619.5" y1="428.6" x2="633.9" y2="428.6" stroke="#3c3c3c" stroke-width="0.75" stroke-dasharray="1 1"/>
<line x1="619.5" y1="498.2" x2="633.9" y2="498.2" stroke="#3c3c3c" stroke-width="0.75" stroke-dasharray="1 1"/>
<line x1="633.9" y1="428.6" x2="633.9" y2="498.2" stroke="#3c3c3c" stroke-width="0.75" stroke-dasharray="1 1"/>
<defs><linearGradient id="gb" x1="0" y1="0" x2="0" y2="1"><stop offset="0" stop-color="#D73027"/><stop offset="0.17" stop-color="#FC8D59"/><stop offset="0.33" stop-color="#FEE090"/><stop offset="0.5" stop-color="#FFFFBF"/><stop offset="0.67" stop-color="#E0F3F8"/><stop offset="0.83" stop-color="#91BFDB"/><stop offset="1" stop-color="#4575B4"/></linearGradient><linearGradient id="gp" x1="0" y1="0" x2="0" y2="1"><stop offset="0" stop-color="#ff0000"/><stop offset="0.05" stop-color="#ff3e22"/><stop offset="0.1" stop-color="#ff5b3a"/><stop offset="0.15" stop-color="#ff7352"/><stop offset="0.2" stop-color="#ff8969"/><stop offset="0.25" stop-color="#ff9e81"/><stop offset="0.3" stop-color="#ffb299"/><stop offset="0.35" stop-color="#ffc6b2"/><stop offset="0.4" stop-color="#ffd9cb"/><stop offset="0.45" stop-color="#ffece5"/><stop offset="0.5" stop-color="#ffffff"/><stop offset="0.55" stop-color="#f2e7ff"/><stop offset="0.6" stop-color="#e3d0ff"/><stop offset="0.65" stop-color="#d4b9ff"/><stop offset="0.7" stop-color="#c4a2ff"/><stop offset="0.75" stop-color="#b38bff"/><stop offset="0.8" stop-color="#a074ff"/><stop offset="0.85" stop-color="#8a5dff"/><stop offset="0.9" stop-color="#7145ff"/><stop offset="0.95" stop-color="#502bff"/><stop offset="1" stop-color="#0000ff"/></linearGradient></defs>
<rect x="658" y="20.9" width="7.5" height="111.7" fill="url(#gb)"/>
<text x="668" y="36" font-size="7.4" transform="rotate(0.03 668 36)">1.5</text>
<text x="668" y="50.4" font-size="7.4" transform="rotate(0.03 668 50.4)">1</text>
<text x="668" y="65.2" font-size="7.4" transform="rotate(0.03 668 65.2)">0.5</text>
<text x="668" y="80.1" font-size="7.4" transform="rotate(0.03 668 80.1)">0</text>
<text x="668" y="94.7" font-size="7.4" transform="rotate(0.03 668 94.7)">−0.5</text>
<text x="668" y="109.3" font-size="7.4" transform="rotate(0.03 668 109.3)">−1</text>
<text x="668" y="123.7" font-size="7.4" transform="rotate(0.03 668 123.7)">−1.5</text>
<text x="0.5" y="326" font-size="13.5" font-weight="bold" transform="rotate(0.03 0.5 326)">c</text>
<text x="98.1" y="334.5" font-size="9.25" font-weight="bold" transform="rotate(0.03 98.1 334.5)">KEGG pathways adj pvalue&lt;0.05</text>
<rect x="50.3" y="338.5" width="7.53" height="5.99" fill="#e0f3f8" stroke="#a0a0a0" stroke-width="0.55"/>
<rect x="57.83" y="338.5" width="7.53" height="5.99" fill="#f3fad6" stroke="#a0a0a0" stroke-width="0.55"/>
<rect x="65.36" y="338.5" width="7.53" height="5.99" fill="#fc8d59" stroke="#a0a0a0" stroke-width="0.55"/>
<rect x="75.7" y="338.5" width="7.53" height="5.99" fill="#b8d9ea" stroke="#a0a0a0" stroke-width="0.55"/>
<rect x="83.23" y="338.5" width="7.53" height="5.99" fill="#fc8d59" stroke="#a0a0a0" stroke-width="0.55"/>
<rect x="90.76" y="338.5" width="7.53" height="5.99" fill="#cce6f1" stroke="#a0a0a0" stroke-width="0.55"/>
<rect x="50.3" y="344.49" width="7.53" height="5.99" fill="#ea5e40" stroke="#a0a0a0" stroke-width="0.55"/>
<rect x="57.83" y="344.49" width="7.53" height="5.99" fill="#feeea5" stroke="#a0a0a0" stroke-width="0.55"/>
<rect x="65.36" y="344.49" width="7.53" height="5.99" fill="#feda8c" stroke="#a0a0a0" stroke-width="0.55"/>
<rect x="75.7" y="344.49" width="7.53" height="5.99" fill="#b8d9ea" stroke="#a0a0a0" stroke-width="0.55"/>
<rect x="83.23" y="344.49" width="7.53" height="5.99" fill="#e0f3f8" stroke="#a0a0a0" stroke-width="0.55"/>
<rect x="90.76" y="344.49" width="7.53" height="5.99" fill="#d4ebf4" stroke="#a0a0a0" stroke-width="0.55"/>
<rect x="50.3" y="350.47" width="7.53" height="5.99" fill="#fee597" stroke="#a0a0a0" stroke-width="0.55"/>
<rect x="57.83" y="350.47" width="7.53" height="5.99" fill="#d0e9f2" stroke="#a0a0a0" stroke-width="0.55"/>
<rect x="65.36" y="350.47" width="7.53" height="5.99" fill="#fc9e64" stroke="#a0a0a0" stroke-width="0.55"/>
<rect x="75.7" y="350.47" width="7.53" height="5.99" fill="#91bfdb" stroke="#a0a0a0" stroke-width="0.55"/>
<rect x="83.23" y="350.47" width="7.53" height="5.99" fill="#f4fbd3" stroke="#a0a0a0" stroke-width="0.55"/>
<rect x="90.76" y="350.47" width="7.53" height="5.99" fill="#fc955e" stroke="#a0a0a0" stroke-width="0.55"/>
<rect x="50.3" y="356.46" width="7.53" height="5.99" fill="#fede8f" stroke="#a0a0a0" stroke-width="0.55"/>
<rect x="57.83" y="356.46" width="7.53" height="5.99" fill="#d8eef5" stroke="#a0a0a0" stroke-width="0.55"/>
<rect x="65.36" y="356.46" width="7.53" height="5.99" fill="#fc955e" stroke="#a0a0a0" stroke-width="0.55"/>
<rect x="75.7" y="356.46" width="7.53" height="5.99" fill="#91bfdb" stroke="#a0a0a0" stroke-width="0.55"/>
<rect x="83.23" y="356.46" width="7.53" height="5.99" fill="#f6fbd0" stroke="#a0a0a0" stroke-width="0.55"/>
<rect x="90.76" y="356.46" width="7.53" height="5.99" fill="#fda66a" stroke="#a0a0a0" stroke-width="0.55"/>
<rect x="50.3" y="362.44" width="7.53" height="5.99" fill="#fede8f" stroke="#a0a0a0" stroke-width="0.55"/>
<rect x="57.83" y="362.44" width="7.53" height="5.99" fill="#d8eef5" stroke="#a0a0a0" stroke-width="0.55"/>
<rect x="65.36" y="362.44" width="7.53" height="5.99" fill="#fc8d59" stroke="#a0a0a0" stroke-width="0.55"/>
<rect x="75.7" y="362.44" width="7.53" height="5.99" fill="#95c2dc" stroke="#a0a0a0" stroke-width="0.55"/>
<rect x="83.23" y="362.44" width="7.53" height="5.99" fill="#ecf8e1" stroke="#a0a0a0" stroke-width="0.55"/>
<rect x="90.76" y="362.44" width="7.53" height="5.99" fill="#fdbf7a" stroke="#a0a0a0" stroke-width="0.55"/>
<rect x="50.3" y="368.43" width="7.53" height="5.99" fill="#fede8f" stroke="#a0a0a0" stroke-width="0.55"/>
<rect x="57.83" y="368.43" width="7.53" height="5.99" fill="#e0f3f8" stroke="#a0a0a0" stroke-width="0.55"/>
<rect x="65.36" y="368.43" width="7.53" height="5.99" fill="#ef6c48" stroke="#a0a0a0" stroke-width="0.55"/>
<rect x="75.7" y="368.43" width="7.53" height="5.99" fill="#82b0d3" stroke="#a0a0a0" stroke-width="0.55"/>
<rect x="83.23" y="368.43" width="7.53" height="5.99" fill="#fffab8" stroke="#a0a0a0" stroke-width="0.55"/>
<rect x="90.76" y="368.43" width="7.53" height="5.99" fill="#feeba0" stroke="#a0a0a0" stroke-width="0.55"/>
<rect x="50.3" y="374.42" width="7.53" height="5.99" fill="#feda8c" stroke="#a0a0a0" stroke-width="0.55"/>
<rect x="57.83" y="374.42" width="7.53" height="5.99" fill="#d8eef5" stroke="#a0a0a0" stroke-width="0.55"/>
<rect x="65.36" y="374.42" width="7.53" height="5.99" fill="#ef6c48" stroke="#a0a0a0" stroke-width="0.55"/>
<rect x="75.7" y="374.42" width="7.53" height="5.99" fill="#95c2dc" stroke="#a0a0a0" stroke-width="0.55"/>
<rect x="83.23" y="374.42" width="7.53" height="5.99" fill="#f0f9dc" stroke="#a0a0a0" stroke-width="0.55"/>
<rect x="90.76" y="374.42" width="7.53" height="5.99" fill="#fee597" stroke="#a0a0a0" stroke-width="0.55"/>
<rect x="50.3" y="380.4" width="7.53" height="5.99" fill="#fecb82" stroke="#a0a0a0" stroke-width="0.55"/>
<rect x="57.83" y="380.4" width="7.53" height="5.99" fill="#d8eef5" stroke="#a0a0a0" stroke-width="0.55"/>
<rect x="65.36" y="380.4" width="7.53" height="5.99" fill="#f3764c" stroke="#a0a0a0" stroke-width="0.55"/>
<rect x="75.7" y="380.4" width="7.53" height="5.99" fill="#91bfdb" stroke="#a0a0a0" stroke-width="0.55"/>
<rect x="83.23" y="380.4" width="7.53" height="5.99" fill="#f0f9dc" stroke="#a0a0a0" stroke-width="0.55"/>
<rect x="90.76" y="380.4" width="7.53" height="5.99" fill="#fee597" stroke="#a0a0a0" stroke-width="0.55"/>
<rect x="50.3" y="386.39" width="7.53" height="5.99" fill="#feda8c" stroke="#a0a0a0" stroke-width="0.55"/>
<rect x="57.83" y="386.39" width="7.53" height="5.99" fill="#d8eef5" stroke="#a0a0a0" stroke-width="0.55"/>
<rect x="65.36" y="386.39" width="7.53" height="5.99" fill="#f3764c" stroke="#a0a0a0" stroke-width="0.55"/>
<rect x="75.7" y="386.39" width="7.53" height="5.99" fill="#91bfdb" stroke="#a0a0a0" stroke-width="0.55"/>
<rect x="83.23" y="386.39" width="7.53" height="5.99" fill="#f0f9dc" stroke="#a0a0a0" stroke-width="0.55"/>
<rect x="90.76" y="386.39" width="7.53" height="5.99" fill="#fee597" stroke="#a0a0a0" stroke-width="0.55"/>
<rect x="50.3" y="392.37" width="7.53" height="5.99" fill="#f0f9dc" stroke="#a0a0a0" stroke-width="0.55"/>
<rect x="57.83" y="392.37" width="7.53" height="5.99" fill="#73a1cb" stroke="#a0a0a0" stroke-width="0.55"/>
<rect x="65.36" y="392.37" width="7.53" height="5.99" fill="#feda8c" stroke="#a0a0a0" stroke-width="0.55"/>
<rect x="75.7" y="392.37" width="7.53" height="5.99" fill="#fee597" stroke="#a0a0a0" stroke-width="0.55"/>
<rect x="83.23" y="392.37" width="7.53" height="5.99" fill="#f0f9dc" stroke="#a0a0a0" stroke-width="0.55"/>
<rect x="90.76" y="392.37" width="7.53" height="5.99" fill="#f88454" stroke="#a0a0a0" stroke-width="0.55"/>
<rect x="50.3" y="398.36" width="7.53" height="5.99" fill="#ffffbf" stroke="#a0a0a0" stroke-width="0.55"/>
<rect x="57.83" y="398.36" width="7.53" height="5.99" fill="#7eacd1" stroke="#a0a0a0" stroke-width="0.55"/>
<rect x="65.36" y="398.36" width="7.53" height="5.99" fill="#ed6845" stroke="#a0a0a0" stroke-width="0.55"/>
<rect x="75.7" y="398.36" width="7.53" height="5.99" fill="#f0f9dc" stroke="#a0a0a0" stroke-width="0.55"/>
<rect x="83.23" y="398.36" width="7.53" height="5.99" fill="#f3fad6" stroke="#a0a0a0" stroke-width="0.55"/>
<rect x="90.76" y="398.36" width="7.53" height="5.99" fill="#fdbf7a" stroke="#a0a0a0" stroke-width="0.55"/>
<rect x="50.3" y="404.35" width="7.53" height="5.99" fill="#fcfec5" stroke="#a0a0a0" stroke-width="0.55"/>
<rect x="57.83" y="404.35" width="7.53" height="5.99" fill="#73a1cb" stroke="#a0a0a0" stroke-width="0.55"/>
<rect x="65.36" y="404.35" width="7.53" height="5.99" fill="#fede8f" stroke="#a0a0a0" stroke-width="0.55"/>
<rect x="75.7" y="404.35" width="7.53" height="5.99" fill="#ea5e40" stroke="#a0a0a0" stroke-width="0.55"/>
<rect x="83.23" y="404.35" width="7.53" height="5.99" fill="#fff4af" stroke="#a0a0a0" stroke-width="0.55"/>
<rect x="90.76" y="404.35" width="7.53" height="5.99" fill="#f4fbd3" stroke="#a0a0a0" stroke-width="0.55"/>
<rect x="50.3" y="410.33" width="7.53" height="5.99" fill="#fff9b6" stroke="#a0a0a0" stroke-width="0.55"/>
<rect x="57.83" y="410.33" width="7.53" height="5.99" fill="#73a1cb" stroke="#a0a0a0" stroke-width="0.55"/>
<rect x="65.36" y="410.33" width="7.53" height="5.99" fill="#fff4af" stroke="#a0a0a0" stroke-width="0.55"/>
<rect x="75.7" y="410.33" width="7.53" height="5.99" fill="#ea5e40" stroke="#a0a0a0" stroke-width="0.55"/>
<rect x="83.23" y="410.33" width="7.53" height="5.99" fill="#fff4af" stroke="#a0a0a0" stroke-width="0.55"/>
<rect x="90.76" y="410.33" width="7.53" height="5.99" fill="#f0f9dc" stroke="#a0a0a0" stroke-width="0.55"/>
<rect x="50.3" y="416.32" width="7.53" height="5.99" fill="#d0e9f2" stroke="#a0a0a0" stroke-width="0.55"/>
<rect x="57.83" y="416.32" width="7.53" height="5.99" fill="#89b8d7" stroke="#a0a0a0" stroke-width="0.55"/>
<rect x="65.36" y="416.32" width="7.53" height="5.99" fill="#feeba0" stroke="#a0a0a0" stroke-width="0.55"/>
<rect x="75.7" y="416.32" width="7.53" height="5.99" fill="#ed6845" stroke="#a0a0a0" stroke-width="0.55"/>
<rect x="83.23" y="416.32" width="7.53" height="5.99" fill="#f7fccd" stroke="#a0a0a0" stroke-width="0.55"/>
<rect x="90.76" y="416.32" width="7.53" height="5.99" fill="#fee597" stroke="#a0a0a0" stroke-width="0.55"/>
<rect x="50.3" y="422.3" width="7.53" height="5.99" fill="#ffffbf" stroke="#a0a0a0" stroke-width="0.55"/>
<rect x="57.83" y="422.3" width="7.53" height="5.99" fill="#5888be" stroke="#a0a0a0" stroke-width="0.55"/>
<rect x="65.36" y="422.3" width="7.53" height="5.99" fill="#fdbf7a" stroke="#a0a0a0" stroke-width="0.55"/>
<rect x="75.7" y="422.3" width="7.53" height="5.99" fill="#fc8d59" stroke="#a0a0a0" stroke-width="0.55"/>
<rect x="83.23" y="422.3" width="7.53" height="5.99" fill="#f7fccd" stroke="#a0a0a0" stroke-width="0.55"/>
<rect x="90.76" y="422.3" width="7.53" height="5.99" fill="#feeba0" stroke="#a0a0a0" stroke-width="0.55"/>
<rect x="50.3" y="428.29" width="7.53" height="5.99" fill="#e9f7e7" stroke="#a0a0a0" stroke-width="0.55"/>
<rect x="57.83" y="428.29" width="7.53" height="5.99" fill="#d0e9f2" stroke="#a0a0a0" stroke-width="0.55"/>
<rect x="65.36" y="428.29" width="7.53" height="5.99" fill="#eef8de" stroke="#a0a0a0" stroke-width="0.55"/>
<rect x="75.7" y="428.29" width="7.53" height="5.99" fill="#d73027" stroke="#a0a0a0" stroke-width="0.55"/>
<rect x="83.23" y="428.29" width="7.53" height="5.99" fill="#fff1aa" stroke="#a0a0a0" stroke-width="0.55"/>
<rect x="90.76" y="428.29" width="7.53" height="5.99" fill="#eef8de" stroke="#a0a0a0" stroke-width="0.55"/>
<rect x="50.3" y="434.28" width="7.53" height="5.99" fill="#e6f5ed" stroke="#a0a0a0" stroke-width="0.55"/>
<rect x="57.83" y="434.28" width="7.53" height="5.99" fill="#e5f5ef" stroke="#a0a0a0" stroke-width="0.55"/>
<rect x="65.36" y="434.28" width="7.53" height="5.99" fill="#d8eef5" stroke="#a0a0a0" stroke-width="0.55"/>
<rect x="75.7" y="434.28" width="7.53" height="5.99" fill="#d73027" stroke="#a0a0a0" stroke-width="0.55"/>
<rect x="83.23" y="434.28" width="7.53" height="5.99" fill="#feeba0" stroke="#a0a0a0" stroke-width="0.55"/>
<rect x="90.76" y="434.28" width="7.53" height="5.99" fill="#e8f6ea" stroke="#a0a0a0" stroke-width="0.55"/>
<rect x="50.3" y="440.26" width="7.53" height="5.99" fill="#e6f5ed" stroke="#a0a0a0" stroke-width="0.55"/>
<rect x="57.83" y="440.26" width="7.53" height="5.99" fill="#e5f5ef" stroke="#a0a0a0" stroke-width="0.55"/>
<rect x="65.36" y="440.26" width="7.53" height="5.99" fill="#e5f5ef" stroke="#a0a0a0" stroke-width="0.55"/>
<rect x="75.7" y="440.26" width="7.53" height="5.99" fill="#d73027" stroke="#a0a0a0" stroke-width="0.55"/>
<rect x="83.23" y="440.26" width="7.53" height="5.99" fill="#feeea5" stroke="#a0a0a0" stroke-width="0.55"/>
<rect x="90.76" y="440.26" width="7.53" height="5.99" fill="#e6f5ed" stroke="#a0a0a0" stroke-width="0.55"/>
<rect x="50.3" y="446.25" width="7.53" height="5.99" fill="#e6f5ed" stroke="#a0a0a0" stroke-width="0.55"/>
<rect x="57.83" y="446.25" width="7.53" height="5.99" fill="#e5f5ef" stroke="#a0a0a0" stroke-width="0.55"/>
<rect x="65.36" y="446.25" width="7.53" height="5.99" fill="#e5f5ef" stroke="#a0a0a0" stroke-width="0.55"/>
<rect x="75.7" y="446.25" width="7.53" height="5.99" fill="#d73027" stroke="#a0a0a0" stroke-width="0.55"/>
<rect x="83.23" y="446.25" width="7.53" height="5.99" fill="#feeea5" stroke="#a0a0a0" stroke-width="0.55"/>
<rect x="90.76" y="446.25" width="7.53" height="5.99" fill="#e6f5ed" stroke="#a0a0a0" stroke-width="0.55"/>
<rect x="50.3" y="452.23" width="7.53" height="5.99" fill="#e6f5ed" stroke="#a0a0a0" stroke-width="0.55"/>
<rect x="57.83" y="452.23" width="7.53" height="5.99" fill="#e5f5ef" stroke="#a0a0a0" stroke-width="0.55"/>
<rect x="65.36" y="452.23" width="7.53" height="5.99" fill="#e5f5ef" stroke="#a0a0a0" stroke-width="0.55"/>
<rect x="75.7" y="452.23" width="7.53" height="5.99" fill="#d73027" stroke="#a0a0a0" stroke-width="0.55"/>
<rect x="83.23" y="452.23" width="7.53" height="5.99" fill="#feeea5" stroke="#a0a0a0" stroke-width="0.55"/>
<rect x="90.76" y="452.23" width="7.53" height="5.99" fill="#e6f5ed" stroke="#a0a0a0" stroke-width="0.55"/>
<rect x="50.3" y="458.22" width="7.53" height="5.99" fill="#fee597" stroke="#a0a0a0" stroke-width="0.55"/>
<rect x="57.83" y="458.22" width="7.53" height="5.99" fill="#e9f7e7" stroke="#a0a0a0" stroke-width="0.55"/>
<rect x="65.36" y="458.22" width="7.53" height="5.99" fill="#f7fccd" stroke="#a0a0a0" stroke-width="0.55"/>
<rect x="75.7" y="458.22" width="7.53" height="5.99" fill="#e45138" stroke="#a0a0a0" stroke-width="0.55"/>
<rect x="83.23" y="458.22" width="7.53" height="5.99" fill="#f4fbd3" stroke="#a0a0a0" stroke-width="0.55"/>
<rect x="90.76" y="458.22" width="7.53" height="5.99" fill="#a5cce2" stroke="#a0a0a0" stroke-width="0.55"/>
<rect x="50.3" y="464.21" width="7.53" height="5.99" fill="#fffab8" stroke="#a0a0a0" stroke-width="0.55"/>
<rect x="57.83" y="464.21" width="7.53" height="5.99" fill="#d8eef5" stroke="#a0a0a0" stroke-width="0.55"/>
<rect x="65.36" y="464.21" width="7.53" height="5.99" fill="#f3fad6" stroke="#a0a0a0" stroke-width="0.55"/>
<rect x="75.7" y="464.21" width="7.53" height="5.99" fill="#d73027" stroke="#a0a0a0" stroke-width="0.55"/>
<rect x="83.23" y="464.21" width="7.53" height="5.99" fill="#fffab8" stroke="#a0a0a0" stroke-width="0.55"/>
<rect x="90.76" y="464.21" width="7.53" height="5.99" fill="#c8e3ef" stroke="#a0a0a0" stroke-width="0.55"/>
<text x="100.2" y="344.04" font-size="7.47" transform="rotate(0.03 100.2 344.04)">Atrazine.degradation</text>
<text x="100.2" y="350.03" font-size="7.47" transform="rotate(0.03 100.2 350.03)">Apoptosis</text>
<text x="100.2" y="356.01" font-size="7.47" transform="rotate(0.03 100.2 356.01)">Tetracycline.biosynthesis</text>
<text x="100.2" y="362" font-size="7.47" transform="rotate(0.03 100.2 362)">Fatty.acid.biosynthesis</text>
<text x="100.2" y="367.99" font-size="7.47" transform="rotate(0.03 100.2 367.99)">Prion.disease</text>
<text x="100.2" y="373.97" font-size="7.47" transform="rotate(0.03 100.2 373.97)">Ethylbenzene.degradation</text>
<text x="100.2" y="379.96" font-size="7.47" transform="rotate(0.03 100.2 379.96)">Flagellar.assembly</text>
<text x="100.2" y="385.94" font-size="7.47" transform="rotate(0.03 100.2 385.94)">ko00312 <tspan font-style="italic">(unidentified)</tspan></text>
<text x="100.2" y="391.93" font-size="7.47" transform="rotate(0.03 100.2 391.93)">Bacterial.chemotaxis</text>
<text x="100.2" y="397.92" font-size="7.47" transform="rotate(0.03 100.2 397.92)">Chloroalkane.and.chloroalkene.degradation</text>
<text x="100.2" y="403.9" font-size="7.47" transform="rotate(0.03 100.2 403.9)">Benzoate.degradation</text>
<text x="100.2" y="409.89" font-size="7.47" transform="rotate(0.03 100.2 409.89)">Fatty.acid.degradation</text>
<text x="100.2" y="415.88" font-size="7.47" transform="rotate(0.03 100.2 415.88)">PPAR.signaling.pathway</text>
<text x="100.2" y="421.86" font-size="7.47" transform="rotate(0.03 100.2 421.86)">Xylene.degradation</text>
<text x="100.2" y="427.85" font-size="7.47" transform="rotate(0.03 100.2 427.85)">Ribosome.biogenesis.in.eukaryotes</text>
<text x="100.2" y="433.83" font-size="7.47" transform="rotate(0.03 100.2 433.83)">Amoebiasis</text>
<text x="100.2" y="439.82" font-size="7.47" transform="rotate(0.03 100.2 439.82)">Carbohydrate.digestion.and.absorption</text>
<text x="100.2" y="445.81" font-size="7.47" transform="rotate(0.03 100.2 445.81)">African.trypanosomiasis</text>
<text x="100.2" y="451.79" font-size="7.47" transform="rotate(0.03 100.2 451.79)">Chagas.disease</text>
<text x="100.2" y="457.78" font-size="7.47" transform="rotate(0.03 100.2 457.78)">Proteasome</text>
<text x="100.2" y="463.76" font-size="7.47" transform="rotate(0.03 100.2 463.76)">Protein.digestion.and.absorption</text>
<text x="100.2" y="469.75" font-size="7.47" transform="rotate(0.03 100.2 469.75)">Adipocytokine.signaling.pathway</text>
<text x="51.46" y="473.1" font-size="7.3" transform="rotate(90.03 51.46 473.1)">WT_C</text>
<text x="58.99" y="473.1" font-size="7.3" transform="rotate(90.03 58.99 473.1)">WT_M</text>
<text x="66.53" y="473.1" font-size="7.3" transform="rotate(90.03 66.53 473.1)">WT_K</text>
<text x="76.87" y="473.1" font-size="7.3" transform="rotate(90.03 76.87 473.1)">3xTg_C</text>
<text x="84.4" y="473.1" font-size="7.3" transform="rotate(90.03 84.4 473.1)">3xTg_M</text>
<text x="91.93" y="473.1" font-size="7.3" transform="rotate(90.03 91.93 473.1)">3xTg_K</text>
<path d="M50.2 359.45H49.4V365.44H50.2" fill="none" stroke="#000" stroke-width="0.8"/>
<path d="M50.2 353.46H48.6V362.44H49.4" fill="none" stroke="#000" stroke-width="0.8"/>
<path d="M50.2 383.39H49.6V389.38H50.2" fill="none" stroke="#000" stroke-width="0.8"/>
<path d="M50.2 377.41H49V386.39H49.6" fill="none" stroke="#000" stroke-width="0.8"/>
<path d="M50.2 371.42H48.3V381.9H49" fill="none" stroke="#000" stroke-width="0.8"/>
<path d="M48.6 357.95H47.3V376.66H48.3" fill="none" stroke="#000" stroke-width="0.8"/>
<path d="M50.2 347.48H34.5V367.31H47.3" fill="none" stroke="#000" stroke-width="0.8"/>
<path d="M50.2 341.49H29.3V357.39H34.5" fill="none" stroke="#000" stroke-width="0.8"/>
<path d="M50.2 395.37H45.9V401.35H50.2" fill="none" stroke="#000" stroke-width="0.8"/>
<path d="M50.2 407.34H48.8V413.32H50.2" fill="none" stroke="#000" stroke-width="0.8"/>
<path d="M50.2 419.31H48.5V425.3H50.2" fill="none" stroke="#000" stroke-width="0.8"/>
<path d="M48.8 410.33H47V422.3H48.5" fill="none" stroke="#000" stroke-width="0.8"/>
<path d="M50.2 449.24H49.6V455.23H50.2" fill="none" stroke="#000" stroke-width="0.8"/>
<path d="M50.2 443.25H49.1V452.23H49.6" fill="none" stroke="#000" stroke-width="0.8"/>
<path d="M50.2 437.27H48.6V447.74H49.1" fill="none" stroke="#000" stroke-width="0.8"/>
<path d="M50.2 431.28H48V442.51H48.6" fill="none" stroke="#000" stroke-width="0.8"/>
<path d="M50.2 461.21H49V467.2H50.2" fill="none" stroke="#000" stroke-width="0.8"/>
<path d="M48 436.89H47V464.21H49" fill="none" stroke="#000" stroke-width="0.8"/>
<path d="M47 416.32H38.2V450.55H47" fill="none" stroke="#000" stroke-width="0.8"/>
<path d="M45.9 398.36H21.9V433.43H38.2" fill="none" stroke="#000" stroke-width="0.8"/>
<path d="M29.3 349.44H10.9V415.9H21.9" fill="none" stroke="#000" stroke-width="0.8"/>
<line x1="246" y1="338.4" x2="253.6" y2="338.4" stroke="#3c3c3c" stroke-width="0.75" stroke-dasharray="1 1"/>
<line x1="246" y1="343" x2="253.6" y2="343" stroke="#3c3c3c" stroke-width="0.75" stroke-dasharray="1 1"/>
<line x1="253.6" y1="338.4" x2="253.6" y2="343" stroke="#3c3c3c" stroke-width="0.75" stroke-dasharray="1 1"/>
<line x1="246" y1="345.2" x2="253.6" y2="345.2" stroke="#3c3c3c" stroke-width="0.75" stroke-dasharray="1 1"/>
<line x1="246" y1="350.1" x2="253.6" y2="350.1" stroke="#3c3c3c" stroke-width="0.75" stroke-dasharray="1 1"/>
<line x1="253.6" y1="345.2" x2="253.6" y2="350.1" stroke="#3c3c3c" stroke-width="0.75" stroke-dasharray="1 1"/>
<line x1="246" y1="352.4" x2="253.7" y2="352.4" stroke="#3c3c3c" stroke-width="0.75" stroke-dasharray="1 1"/>
<line x1="246" y1="473" x2="253.7" y2="473" stroke="#3c3c3c" stroke-width="0.75" stroke-dasharray="1 1"/>
<line x1="253.7" y1="352.4" x2="253.7" y2="473" stroke="#3c3c3c" stroke-width="0.75" stroke-dasharray="1 1"/>
<path d="M246.2 406l0.9 -1.7 0.9 1.7 0.9 -1.7 0.9 1.7 0.9 -1.7 0.9 1.7 0.9 -1.7 0.9 1.7" fill="none" stroke="#3c3c3c" stroke-width="0.6"/>
<text x="255.9" y="342.3" font-size="6.1" fill="#222" transform="rotate(0.03 255.9 342.3)">(2)</text>
<text x="255.9" y="350.1" font-size="6.1" fill="#222" transform="rotate(0.03 255.9 350.1)">(3)</text>
<text x="255.9" y="358" font-size="6.1" fill="#222" transform="rotate(0.03 255.9 358)">(2)</text>
<text x="255.9" y="410.6" font-size="6.1" fill="#222" transform="rotate(0.03 255.9 410.6)">(1)</text>
<rect x="274.8" y="338.3" width="8.3" height="121.4" fill="url(#gb)"/>
<text x="287.3" y="371" font-size="7.4" transform="rotate(0.03 287.3 371)">1</text>
<text x="287.3" y="402.1" font-size="7.4" transform="rotate(0.03 287.3 402.1)">0</text>
<text x="287.3" y="433.1" font-size="7.4" transform="rotate(0.03 287.3 433.1)">−1</text>
<text x="-0.4" y="537.7" font-size="12.72" transform="rotate(0.03 -0.4 537.7)">Potential ASVs driving pathways abundance</text>
<text x="0.8" y="557.2" font-size="13.5" font-weight="bold" transform="rotate(0.03 0.8 557.2)">d</text>
<text x="11.6" y="570" font-size="9.4" font-weight="bold" transform="rotate(0.03 11.6 570)">ASV</text>
<line x1="138.44" y1="570.9" x2="138.44" y2="807" stroke="#ebebeb" stroke-width="0.5"/>
<line x1="149.32" y1="570.9" x2="149.32" y2="807" stroke="#ebebeb" stroke-width="0.5"/>
<line x1="160.2" y1="570.9" x2="160.2" y2="807" stroke="#ebebeb" stroke-width="0.5"/>
<line x1="171.08" y1="570.9" x2="171.08" y2="807" stroke="#ebebeb" stroke-width="0.5"/>
<line x1="181.96" y1="570.9" x2="181.96" y2="807" stroke="#ebebeb" stroke-width="0.5"/>
<line x1="192.84" y1="570.9" x2="192.84" y2="807" stroke="#ebebeb" stroke-width="0.5"/>
<line x1="203.72" y1="570.9" x2="203.72" y2="807" stroke="#ebebeb" stroke-width="0.5"/>
<line x1="214.6" y1="570.9" x2="214.6" y2="807" stroke="#ebebeb" stroke-width="0.5"/>
<line x1="225.48" y1="570.9" x2="225.48" y2="807" stroke="#ebebeb" stroke-width="0.5"/>
<line x1="236.36" y1="570.9" x2="236.36" y2="807" stroke="#ebebeb" stroke-width="0.5"/>
<line x1="247.24" y1="570.9" x2="247.24" y2="807" stroke="#ebebeb" stroke-width="0.5"/>
<line x1="258.12" y1="570.9" x2="258.12" y2="807" stroke="#ebebeb" stroke-width="0.5"/>
<line x1="269" y1="570.9" x2="269" y2="807" stroke="#ebebeb" stroke-width="0.5"/>
<line x1="279.88" y1="570.9" x2="279.88" y2="807" stroke="#ebebeb" stroke-width="0.5"/>
<line x1="290.76" y1="570.9" x2="290.76" y2="807" stroke="#ebebeb" stroke-width="0.5"/>
<line x1="132" y1="573.26" x2="297.2" y2="573.26" stroke="#ebebeb" stroke-width="0.5"/>
<line x1="132" y1="577.98" x2="297.2" y2="577.98" stroke="#ebebeb" stroke-width="0.5"/>
<line x1="132" y1="582.7" x2="297.2" y2="582.7" stroke="#ebebeb" stroke-width="0.5"/>
<line x1="132" y1="587.43" x2="297.2" y2="587.43" stroke="#ebebeb" stroke-width="0.5"/>
<line x1="132" y1="592.15" x2="297.2" y2="592.15" stroke="#ebebeb" stroke-width="0.5"/>
<line x1="132" y1="596.87" x2="297.2" y2="596.87" stroke="#ebebeb" stroke-width="0.5"/>
<line x1="132" y1="601.59" x2="297.2" y2="601.59" stroke="#ebebeb" stroke-width="0.5"/>
<line x1="132" y1="606.31" x2="297.2" y2="606.31" stroke="#ebebeb" stroke-width="0.5"/>
<line x1="132" y1="611.04" x2="297.2" y2="611.04" stroke="#ebebeb" stroke-width="0.5"/>
<line x1="132" y1="615.76" x2="297.2" y2="615.76" stroke="#ebebeb" stroke-width="0.5"/>
<line x1="132" y1="620.48" x2="297.2" y2="620.48" stroke="#ebebeb" stroke-width="0.5"/>
<line x1="132" y1="625.2" x2="297.2" y2="625.2" stroke="#ebebeb" stroke-width="0.5"/>
<line x1="132" y1="629.92" x2="297.2" y2="629.92" stroke="#ebebeb" stroke-width="0.5"/>
<line x1="132" y1="634.65" x2="297.2" y2="634.65" stroke="#ebebeb" stroke-width="0.5"/>
<line x1="132" y1="639.37" x2="297.2" y2="639.37" stroke="#ebebeb" stroke-width="0.5"/>
<line x1="132" y1="644.09" x2="297.2" y2="644.09" stroke="#ebebeb" stroke-width="0.5"/>
<line x1="132" y1="648.81" x2="297.2" y2="648.81" stroke="#ebebeb" stroke-width="0.5"/>
<line x1="132" y1="653.53" x2="297.2" y2="653.53" stroke="#ebebeb" stroke-width="0.5"/>
<line x1="132" y1="658.26" x2="297.2" y2="658.26" stroke="#ebebeb" stroke-width="0.5"/>
<line x1="132" y1="662.98" x2="297.2" y2="662.98" stroke="#ebebeb" stroke-width="0.5"/>
<line x1="132" y1="667.7" x2="297.2" y2="667.7" stroke="#ebebeb" stroke-width="0.5"/>
<line x1="132" y1="672.42" x2="297.2" y2="672.42" stroke="#ebebeb" stroke-width="0.5"/>
<line x1="132" y1="677.14" x2="297.2" y2="677.14" stroke="#ebebeb" stroke-width="0.5"/>
<line x1="132" y1="681.87" x2="297.2" y2="681.87" stroke="#ebebeb" stroke-width="0.5"/>
<line x1="132" y1="686.59" x2="297.2" y2="686.59" stroke="#ebebeb" stroke-width="0.5"/>
<line x1="132" y1="691.31" x2="297.2" y2="691.31" stroke="#ebebeb" stroke-width="0.5"/>
<line x1="132" y1="696.03" x2="297.2" y2="696.03" stroke="#ebebeb" stroke-width="0.5"/>
<line x1="132" y1="700.75" x2="297.2" y2="700.75" stroke="#ebebeb" stroke-width="0.5"/>
<line x1="132" y1="705.48" x2="297.2" y2="705.48" stroke="#ebebeb" stroke-width="0.5"/>
<line x1="132" y1="710.2" x2="297.2" y2="710.2" stroke="#ebebeb" stroke-width="0.5"/>
<line x1="132" y1="714.92" x2="297.2" y2="714.92" stroke="#ebebeb" stroke-width="0.5"/>
<line x1="132" y1="719.64" x2="297.2" y2="719.64" stroke="#ebebeb" stroke-width="0.5"/>
<line x1="132" y1="724.37" x2="297.2" y2="724.37" stroke="#ebebeb" stroke-width="0.5"/>
<line x1="132" y1="729.09" x2="297.2" y2="729.09" stroke="#ebebeb" stroke-width="0.5"/>
<line x1="132" y1="733.81" x2="297.2" y2="733.81" stroke="#ebebeb" stroke-width="0.5"/>
<line x1="132" y1="738.53" x2="297.2" y2="738.53" stroke="#ebebeb" stroke-width="0.5"/>
<line x1="132" y1="743.25" x2="297.2" y2="743.25" stroke="#ebebeb" stroke-width="0.5"/>
<line x1="132" y1="747.98" x2="297.2" y2="747.98" stroke="#ebebeb" stroke-width="0.5"/>
<line x1="132" y1="752.7" x2="297.2" y2="752.7" stroke="#ebebeb" stroke-width="0.5"/>
<line x1="132" y1="757.42" x2="297.2" y2="757.42" stroke="#ebebeb" stroke-width="0.5"/>
<line x1="132" y1="762.14" x2="297.2" y2="762.14" stroke="#ebebeb" stroke-width="0.5"/>
<line x1="132" y1="766.86" x2="297.2" y2="766.86" stroke="#ebebeb" stroke-width="0.5"/>
<line x1="132" y1="771.59" x2="297.2" y2="771.59" stroke="#ebebeb" stroke-width="0.5"/>
<line x1="132" y1="776.31" x2="297.2" y2="776.31" stroke="#ebebeb" stroke-width="0.5"/>
<line x1="132" y1="781.03" x2="297.2" y2="781.03" stroke="#ebebeb" stroke-width="0.5"/>
<line x1="132" y1="785.75" x2="297.2" y2="785.75" stroke="#ebebeb" stroke-width="0.5"/>
<line x1="132" y1="790.47" x2="297.2" y2="790.47" stroke="#ebebeb" stroke-width="0.5"/>
<line x1="132" y1="795.19" x2="297.2" y2="795.19" stroke="#ebebeb" stroke-width="0.5"/>
<line x1="132" y1="799.92" x2="297.2" y2="799.92" stroke="#ebebeb" stroke-width="0.5"/>
<line x1="132" y1="804.64" x2="297.2" y2="804.64" stroke="#ebebeb" stroke-width="0.5"/>
<rect x="263.36" y="570.7" width="11.28" height="5.12" fill="#a074ff"/>
<rect x="263.36" y="575.42" width="11.28" height="5.12" fill="#a074ff"/>
<rect x="241.6" y="580.14" width="11.28" height="5.12" fill="#a074ff"/>
<rect x="252.48" y="580.14" width="11.28" height="5.12" fill="#a074ff"/>
<rect x="274.24" y="580.14" width="11.28" height="5.12" fill="#a074ff"/>
<rect x="263.36" y="584.87" width="11.28" height="5.12" fill="#a074ff"/>
<rect x="263.36" y="589.59" width="11.28" height="5.12" fill="#a074ff"/>
<rect x="263.36" y="594.31" width="11.28" height="5.12" fill="#a074ff"/>
<rect x="263.36" y="599.03" width="11.28" height="5.12" fill="#a074ff"/>
<rect x="274.24" y="603.75" width="11.28" height="5.12" fill="#a074ff"/>
<rect x="263.36" y="608.48" width="11.28" height="5.12" fill="#8659ff"/>
<rect x="274.24" y="613.2" width="11.28" height="5.12" fill="#a074ff"/>
<rect x="263.36" y="617.92" width="11.28" height="5.12" fill="#a074ff"/>
<rect x="263.36" y="622.64" width="11.28" height="5.12" fill="#8659ff"/>
<rect x="285.12" y="622.64" width="11.28" height="5.12" fill="#a074ff"/>
<rect x="263.36" y="627.36" width="11.28" height="5.12" fill="#9367ff"/>
<rect x="263.36" y="632.09" width="11.28" height="5.12" fill="#a074ff"/>
<rect x="154.56" y="636.81" width="11.28" height="5.12" fill="#a074ff"/>
<rect x="241.6" y="636.81" width="11.28" height="5.12" fill="#8659ff"/>
<rect x="252.48" y="636.81" width="11.28" height="5.12" fill="#8659ff"/>
<rect x="263.36" y="641.53" width="11.28" height="5.12" fill="#a074ff"/>
<rect x="263.36" y="646.25" width="11.28" height="5.12" fill="#a074ff"/>
<rect x="263.36" y="650.97" width="11.28" height="5.12" fill="#a074ff"/>
<rect x="263.36" y="655.7" width="11.28" height="5.12" fill="#8659ff"/>
<rect x="263.36" y="660.42" width="11.28" height="5.12" fill="#9367ff"/>
<rect x="263.36" y="665.14" width="11.28" height="5.12" fill="#8659ff"/>
<rect x="263.36" y="669.86" width="11.28" height="5.12" fill="#a074ff"/>
<rect x="208.96" y="674.58" width="11.28" height="5.12" fill="#a074ff"/>
<rect x="132.8" y="679.31" width="11.28" height="5.12" fill="#a074ff"/>
<rect x="187.2" y="679.31" width="11.28" height="5.12" fill="#a074ff"/>
<rect x="198.08" y="679.31" width="11.28" height="5.12" fill="#a074ff"/>
<rect x="263.36" y="679.31" width="11.28" height="5.12" fill="#a074ff"/>
<rect x="263.36" y="684.03" width="11.28" height="5.12" fill="#a074ff"/>
<rect x="263.36" y="688.75" width="11.28" height="5.12" fill="#8659ff"/>
<rect x="176.32" y="693.47" width="11.28" height="5.12" fill="#a074ff"/>
<rect x="187.2" y="693.47" width="11.28" height="5.12" fill="#a074ff"/>
<rect x="198.08" y="693.47" width="11.28" height="5.12" fill="#a074ff"/>
<rect x="263.36" y="693.47" width="11.28" height="5.12" fill="#6b40ff"/>
<rect x="274.24" y="693.47" width="11.28" height="5.12" fill="#a074ff"/>
<rect x="285.12" y="693.47" width="11.28" height="5.12" fill="#8659ff"/>
<rect x="176.32" y="698.19" width="11.28" height="5.12" fill="#ff7352"/>
<rect x="187.2" y="698.19" width="11.28" height="5.12" fill="#ff7352"/>
<rect x="198.08" y="698.19" width="11.28" height="5.12" fill="#ff7352"/>
<rect x="263.36" y="702.92" width="11.28" height="5.12" fill="#a074ff"/>
<rect x="263.36" y="707.64" width="11.28" height="5.12" fill="#a074ff"/>
<rect x="132.8" y="712.36" width="11.28" height="5.12" fill="#a074ff"/>
<rect x="176.32" y="712.36" width="11.28" height="5.12" fill="#8659ff"/>
<rect x="187.2" y="712.36" width="11.28" height="5.12" fill="#8659ff"/>
<rect x="198.08" y="712.36" width="11.28" height="5.12" fill="#8659ff"/>
<rect x="285.12" y="712.36" width="11.28" height="5.12" fill="#a074ff"/>
<rect x="143.68" y="717.08" width="11.28" height="5.12" fill="#8659ff"/>
<rect x="285.12" y="717.08" width="11.28" height="5.12" fill="#8659ff"/>
<rect x="263.36" y="721.8" width="11.28" height="5.12" fill="#8659ff"/>
<rect x="263.36" y="726.53" width="11.28" height="5.12" fill="#a074ff"/>
<rect x="143.68" y="731.25" width="11.28" height="5.12" fill="#a074ff"/>
<rect x="241.6" y="731.25" width="11.28" height="5.12" fill="#8659ff"/>
<rect x="252.48" y="731.25" width="11.28" height="5.12" fill="#8659ff"/>
<rect x="263.36" y="735.97" width="11.28" height="5.12" fill="#a074ff"/>
<rect x="285.12" y="740.69" width="11.28" height="5.12" fill="#a074ff"/>
<rect x="274.24" y="745.41" width="11.28" height="5.12" fill="#a074ff"/>
<rect x="263.36" y="750.14" width="11.28" height="5.12" fill="#8659ff"/>
<rect x="285.12" y="750.14" width="11.28" height="5.12" fill="#a074ff"/>
<rect x="285.12" y="754.86" width="11.28" height="5.12" fill="#a074ff"/>
<rect x="132.8" y="759.58" width="11.28" height="5.12" fill="#8659ff"/>
<rect x="165.44" y="759.58" width="11.28" height="5.12" fill="#a074ff"/>
<rect x="176.32" y="759.58" width="11.28" height="5.12" fill="#8659ff"/>
<rect x="187.2" y="759.58" width="11.28" height="5.12" fill="#8659ff"/>
<rect x="198.08" y="759.58" width="11.28" height="5.12" fill="#8659ff"/>
<rect x="263.36" y="764.3" width="11.28" height="5.12" fill="#a074ff"/>
<rect x="263.36" y="769.02" width="11.28" height="5.12" fill="#a074ff"/>
<rect x="263.36" y="773.75" width="11.28" height="5.12" fill="#8659ff"/>
<rect x="132.8" y="778.47" width="11.28" height="5.12" fill="#8659ff"/>
<rect x="241.6" y="778.47" width="11.28" height="5.12" fill="#8659ff"/>
<rect x="252.48" y="778.47" width="11.28" height="5.12" fill="#8659ff"/>
<rect x="143.68" y="783.19" width="11.28" height="5.12" fill="#ff8362"/>
<rect x="154.56" y="783.19" width="11.28" height="5.12" fill="#ff7857"/>
<rect x="219.84" y="783.19" width="11.28" height="5.12" fill="#ff7352"/>
<rect x="230.72" y="783.19" width="11.28" height="5.12" fill="#ff7352"/>
<rect x="241.6" y="783.19" width="11.28" height="5.12" fill="#ff7857"/>
<rect x="252.48" y="783.19" width="11.28" height="5.12" fill="#ff7857"/>
<rect x="132.8" y="787.91" width="11.28" height="5.12" fill="#ff5b3a"/>
<rect x="143.68" y="787.91" width="11.28" height="5.12" fill="#ff5b3a"/>
<rect x="165.44" y="787.91" width="11.28" height="5.12" fill="#ff9071"/>
<rect x="176.32" y="787.91" width="11.28" height="5.12" fill="#ff3e22"/>
<rect x="187.2" y="787.91" width="11.28" height="5.12" fill="#ff3e22"/>
<rect x="198.08" y="787.91" width="11.28" height="5.12" fill="#ff5b3a"/>
<rect x="208.96" y="787.91" width="11.28" height="5.12" fill="#ff3e22"/>
<rect x="274.24" y="787.91" width="11.28" height="5.12" fill="#ff5b3a"/>
<rect x="285.12" y="787.91" width="11.28" height="5.12" fill="#ff5b3a"/>
<rect x="263.36" y="792.63" width="11.28" height="5.12" fill="#8659ff"/>
<rect x="154.56" y="797.36" width="11.28" height="5.12" fill="#ff9071"/>
<rect x="219.84" y="802.08" width="11.28" height="5.12" fill="#a074ff"/>
<rect x="230.72" y="802.08" width="11.28" height="5.12" fill="#8659ff"/>
<text x="131.7" y="575.13" font-size="5.35" text-anchor="end" fill="#4d4d4d" transform="rotate(0.03 131.7 575.13)">Lachnospiraceae_NA_NA.54</text>
<text x="131.7" y="579.86" font-size="5.35" text-anchor="end" fill="#4d4d4d" transform="rotate(0.03 131.7 579.86)">Anaerovoracaceae_Family.XIII.UCG.001_NA</text>
<text x="131.7" y="584.58" font-size="5.35" text-anchor="end" fill="#4d4d4d" transform="rotate(0.03 131.7 584.58)">Ruminococcaceae_Incertae.Sedis_NA.7</text>
<text x="131.7" y="589.3" font-size="5.35" text-anchor="end" fill="#4d4d4d" transform="rotate(0.03 131.7 589.3)">Ruminococcaceae_Anaerotruncus_NA.1</text>
<text x="131.7" y="594.02" font-size="5.35" text-anchor="end" fill="#4d4d4d" transform="rotate(0.03 131.7 594.02)">Lachnospiraceae_Roseburia_NA.6</text>
<text x="131.7" y="598.74" font-size="5.35" text-anchor="end" fill="#4d4d4d" transform="rotate(0.03 131.7 598.74)">Lachnospiraceae_NA_NA.45</text>
<text x="131.7" y="603.47" font-size="5.35" text-anchor="end" fill="#4d4d4d" transform="rotate(0.03 131.7 603.47)">Eggerthellaceae_Enterorhabdus_NA.4</text>
<text x="131.7" y="607.95" font-size="4.67" text-anchor="end" fill="#4d4d4d" transform="rotate(0.03 131.7 607.95)">Lachnospiraceae_Lachnospiraceae.FCS020.group_NA.2</text>
<text x="131.7" y="612.67" font-size="4.67" text-anchor="end" fill="#4d4d4d" transform="rotate(0.03 131.7 612.67)">Ruminococcaceae_.Eubacterium..siraeum.group_NA</text>
<text x="131.7" y="617.63" font-size="5.35" text-anchor="end" fill="#4d4d4d" transform="rotate(0.03 131.7 617.63)">Oscillospiraceae_Intestinimonas_NA.4</text>
<text x="131.7" y="622.35" font-size="5.35" text-anchor="end" fill="#4d4d4d" transform="rotate(0.03 131.7 622.35)">Ruminococcaceae_Incertae.Sedis_NA.5</text>
<text x="131.7" y="627.08" font-size="5.35" text-anchor="end" fill="#4d4d4d" transform="rotate(0.03 131.7 627.08)">Ruminococcaceae_NA_NA.5</text>
<text x="131.7" y="631.8" font-size="5.35" text-anchor="end" fill="#4d4d4d" transform="rotate(0.03 131.7 631.8)">Lachnospiraceae_NA_NA.36</text>
<text x="131.7" y="636.52" font-size="5.35" text-anchor="end" fill="#4d4d4d" transform="rotate(0.03 131.7 636.52)">Ruminococcaceae_NA_NA.4</text>
<text x="131.7" y="641" font-size="4.67" text-anchor="end" fill="#4d4d4d" transform="rotate(0.03 131.7 641)">Lachnospiraceae_Lachnospiraceae.NK4A136.group_NA.8</text>
<text x="131.7" y="645.96" font-size="5.35" text-anchor="end" fill="#4d4d4d" transform="rotate(0.03 131.7 645.96)">Oscillospiraceae_Oscillibacter_NA.2</text>
<text x="131.7" y="650.69" font-size="5.35" text-anchor="end" fill="#4d4d4d" transform="rotate(0.03 131.7 650.69)">Lachnospiraceae_GCA.900066575_NA.4</text>
<text x="131.7" y="655.41" font-size="5.35" text-anchor="end" fill="#4d4d4d" transform="rotate(0.03 131.7 655.41)">Ruminococcaceae_Incertae.Sedis_NA.2</text>
<text x="131.7" y="660.13" font-size="5.35" text-anchor="end" fill="#4d4d4d" transform="rotate(0.03 131.7 660.13)">UCG.010_NA_NA</text>
<text x="131.7" y="664.85" font-size="5.35" text-anchor="end" fill="#4d4d4d" transform="rotate(0.03 131.7 664.85)">Lachnospiraceae_NA_NA.24</text>
<text x="131.7" y="669.57" font-size="5.35" text-anchor="end" fill="#4d4d4d" transform="rotate(0.03 131.7 669.57)">Ruminococcaceae_NA_NA.2</text>
<text x="131.7" y="674.3" font-size="5.35" text-anchor="end" fill="#4d4d4d" transform="rotate(0.03 131.7 674.3)">Lachnospiraceae_Acetatifactor_NA.1</text>
<text x="131.7" y="679.02" font-size="5.35" text-anchor="end" fill="#4d4d4d" transform="rotate(0.03 131.7 679.02)">Lachnospiraceae_Lachnospiraceae.UCG.004_NA</text>
<text x="131.7" y="683.74" font-size="5.35" text-anchor="end" fill="#4d4d4d" transform="rotate(0.03 131.7 683.74)">Lachnospiraceae_NA_NA.19</text>
<text x="131.7" y="688.46" font-size="5.35" text-anchor="end" fill="#4d4d4d" transform="rotate(0.03 131.7 688.46)">Lachnospiraceae_NA_NA.17</text>
<text x="131.7" y="693.18" font-size="5.35" text-anchor="end" fill="#4d4d4d" transform="rotate(0.03 131.7 693.18)">Lachnospiraceae_NA_NA.16</text>
<text x="131.7" y="697.91" font-size="5.35" text-anchor="end" fill="#4d4d4d" transform="rotate(0.03 131.7 697.91)">Oscillospiraceae_Colidextribacter_NA.4</text>
<text x="131.7" y="702.63" font-size="5.35" text-anchor="end" fill="#4d4d4d" transform="rotate(0.03 131.7 702.63)">Eggerthellaceae_Parvibacter_NA</text>
<text x="131.7" y="707.35" font-size="5.35" text-anchor="end" fill="#4d4d4d" transform="rotate(0.03 131.7 707.35)">Lachnospiraceae_GCA.900066575_NA.2</text>
<text x="131.7" y="712.07" font-size="5.35" text-anchor="end" fill="#4d4d4d" transform="rotate(0.03 131.7 712.07)">Lachnospiraceae_GCA.900066575_NA.1</text>
<text x="131.7" y="716.79" font-size="5.35" text-anchor="end" fill="#4d4d4d" transform="rotate(0.03 131.7 716.79)">Lachnospiraceae_NA_NA.10</text>
<text x="131.7" y="721.52" font-size="5.35" text-anchor="end" fill="#4d4d4d" transform="rotate(0.03 131.7 721.52)">Oscillospiraceae_Colidextribacter_NA.2</text>
<text x="131.7" y="726.24" font-size="5.35" text-anchor="end" fill="#4d4d4d" transform="rotate(0.03 131.7 726.24)">Oscillospiraceae_NA_NA.4</text>
<text x="131.7" y="730.96" font-size="5.35" text-anchor="end" fill="#4d4d4d" transform="rotate(0.03 131.7 730.96)">Lachnospiraceae_Acetatifactor_NA</text>
<text x="131.7" y="735.68" font-size="5.35" text-anchor="end" fill="#4d4d4d" transform="rotate(0.03 131.7 735.68)">Muribaculaceae_NA_NA.10</text>
<text x="131.7" y="740.4" font-size="5.35" text-anchor="end" fill="#4d4d4d" transform="rotate(0.03 131.7 740.4)">Oscillospiraceae_NA_NA.2</text>
<text x="131.7" y="745.13" font-size="5.35" text-anchor="end" fill="#4d4d4d" transform="rotate(0.03 131.7 745.13)">Muribaculaceae_NA_NA.9</text>
<text x="131.7" y="749.85" font-size="5.35" text-anchor="end" fill="#4d4d4d" transform="rotate(0.03 131.7 749.85)">Muribaculaceae_NA_NA.6</text>
<text x="131.7" y="754.57" font-size="5.35" text-anchor="end" fill="#4d4d4d" transform="rotate(0.03 131.7 754.57)">Lachnospiraceae_Tuzzerella_NA</text>
<text x="131.7" y="759.29" font-size="5.35" text-anchor="end" fill="#4d4d4d" transform="rotate(0.03 131.7 759.29)">Oscillospiraceae_Oscillibacter_NA</text>
<text x="131.7" y="764.01" font-size="5.35" text-anchor="end" fill="#4d4d4d" transform="rotate(0.03 131.7 764.01)">Peptococcaceae_NA_NA</text>
<text x="131.7" y="768.74" font-size="5.35" text-anchor="end" fill="#4d4d4d" transform="rotate(0.03 131.7 768.74)">Muribaculaceae_NA_NA.5</text>
<text x="131.7" y="773.46" font-size="5.35" text-anchor="end" fill="#4d4d4d" transform="rotate(0.03 131.7 773.46)">Lachnospiraceae_NA_NA.1</text>
<text x="131.7" y="778.18" font-size="5.35" text-anchor="end" fill="#4d4d4d" transform="rotate(0.03 131.7 778.18)">Lachnospiraceae_NA_NA</text>
<text x="131.7" y="782.9" font-size="5.35" text-anchor="end" fill="#4d4d4d" transform="rotate(0.03 131.7 782.9)">Muribaculaceae_NA_NA</text>
<text x="131.7" y="787.62" font-size="5.35" text-anchor="end" fill="#4d4d4d" transform="rotate(0.03 131.7 787.62)">Lactobacillaceae_HT002_NA</text>
<text x="131.7" y="792.35" font-size="5.35" text-anchor="end" fill="#4d4d4d" transform="rotate(0.03 131.7 792.35)">Bifidobacteriaceae_Bifidobacterium_pseudolongum</text>
<text x="131.7" y="797.07" font-size="5.35" text-anchor="end" fill="#4d4d4d" transform="rotate(0.03 131.7 797.07)">Lachnospiraceae_Blautia_coccoides</text>
<text x="131.7" y="801.79" font-size="5.35" text-anchor="end" fill="#4d4d4d" transform="rotate(0.03 131.7 801.79)">Lactobacillaceae_Lactobacillus_johnsonii</text>
<text x="131.7" y="806.51" font-size="5.35" text-anchor="end" fill="#4d4d4d" transform="rotate(0.03 131.7 806.51)">Akkermansiaceae_Akkermansia_muciniphila</text>
<text x="140.01" y="812.3" font-size="4.5" text-anchor="end" fill="#4d4d4d" transform="rotate(-45 140.01 812.3)">aspartate.superpathway</text>
<text x="150.89" y="812.3" font-size="4.5" text-anchor="end" fill="#4d4d4d" transform="rotate(-45 150.89 812.3)">inosine.5..phosphate.biosynthesis.III</text>
<text x="161.77" y="812.3" font-size="4.5" text-anchor="end" fill="#4d4d4d" transform="rotate(-45 161.77 812.3)">acetylene.degradation</text>
<text x="172.66" y="812.3" font-size="4.5" text-anchor="end" fill="#4d4d4d" transform="rotate(-45 172.66 812.3)">superpathway.of.L.lysine..L.threonine.and.L.methionine.biosynthesis.I</text>
<text x="183.53" y="812.3" font-size="4.5" text-anchor="end" fill="#4d4d4d" transform="rotate(-45 183.53 812.3)">L.methionine.biosynthesis.I</text>
<text x="194.41" y="812.3" font-size="4.5" text-anchor="end" fill="#4d4d4d" transform="rotate(-45 194.41 812.3)">superpathway.of.S.adenosyl.L.methionine.biosynthesis</text>
<text x="205.29" y="812.3" font-size="4.5" text-anchor="end" fill="#4d4d4d" transform="rotate(-45 205.29 812.3)">superpathway.of.L.methionine.biosynthesis..transsulfuration.</text>
<text x="216.18" y="812.3" font-size="4.5" text-anchor="end" fill="#4d4d4d" transform="rotate(-45 216.18 812.3)">superpathway.of.glucose.and.xylose.degradation</text>
<text x="227.06" y="812.3" font-size="4.5" text-anchor="end" fill="#4d4d4d" transform="rotate(-45 227.06 812.3)">Bifidobacterium.shunt</text>
<text x="237.94" y="812.3" font-size="4.5" text-anchor="end" fill="#4d4d4d" transform="rotate(-45 237.94 812.3)">S.adenosyl.L.methionine.cycle.I</text>
<text x="248.81" y="812.3" font-size="4.5" text-anchor="end" fill="#4d4d4d" transform="rotate(-45 248.81 812.3)">adenosine.deoxyribonucleotides.de.novo.biosynthesis.II</text>
<text x="259.69" y="812.3" font-size="4.5" text-anchor="end" fill="#4d4d4d" transform="rotate(-45 259.69 812.3)">guanosine.deoxyribonucleotides.de.novo.biosynthesis.II</text>
<text x="270.57" y="812.3" font-size="4.5" text-anchor="end" fill="#4d4d4d" transform="rotate(-45 270.57 812.3)">superpathway.of.L.alanine.biosynthesis</text>
<text x="281.45" y="812.3" font-size="4.5" text-anchor="end" fill="#4d4d4d" transform="rotate(-45 281.45 812.3)">pyrimidine.deoxyribonucleotides.de.novo.biosynthesis.II</text>
<text x="292.33" y="812.3" font-size="4.5" text-anchor="end" fill="#4d4d4d" transform="rotate(-45 292.33 812.3)">sucrose.degradation.IV..sucrose.phosphorylase.</text>
<text x="163.3" y="907.4" font-size="9.7" font-weight="bold" transform="rotate(0.03 163.3 907.4)">Pathway - group (1)</text>
<text x="302.6" y="575.2" font-size="7.05" transform="rotate(0.03 302.6 575.2)">Pearson</text>
<text x="302.6" y="583.1" font-size="7.05" transform="rotate(0.03 302.6 583.1)">Correlation</text>
<rect x="302" y="587.5" width="12.1" height="56.5" fill="url(#gp)"/>
<line x1="302" y1="601.6" x2="304.4" y2="601.6" stroke="#fff" stroke-width="0.5"/>
<line x1="311.7" y1="601.6" x2="314.1" y2="601.6" stroke="#fff" stroke-width="0.5"/>
<line x1="302" y1="629.5" x2="304.4" y2="629.5" stroke="#fff" stroke-width="0.5"/>
<line x1="311.7" y1="629.5" x2="314.1" y2="629.5" stroke="#fff" stroke-width="0.5"/>
<text x="317.8" y="589.9" font-size="5.3" transform="rotate(0.03 317.8 589.9)">1.0</text>
<text x="317.8" y="603.9" font-size="5.3" transform="rotate(0.03 317.8 603.9)">0.5</text>
<text x="317.8" y="617.9" font-size="5.3" transform="rotate(0.03 317.8 617.9)">0.0</text>
<text x="317.8" y="631.9" font-size="5.3" transform="rotate(0.03 317.8 631.9)">−0.5</text>
<text x="317.8" y="646.1" font-size="5.3" transform="rotate(0.03 317.8 646.1)">−1.0</text>
<text x="348" y="557" font-size="13.5" font-weight="bold" transform="rotate(0.03 348 557)">e</text>
<text x="360.9" y="571" font-size="10.6" font-weight="bold" transform="rotate(0.03 360.9 571)">ASV</text>
<line x1="515.6" y1="575.05" x2="515.6" y2="849.45" stroke="#ebebeb" stroke-width="0.5"/>
<line x1="530.6" y1="575.05" x2="530.6" y2="849.45" stroke="#ebebeb" stroke-width="0.5"/>
<line x1="545.6" y1="575.05" x2="545.6" y2="849.45" stroke="#ebebeb" stroke-width="0.5"/>
<line x1="560.6" y1="575.05" x2="560.6" y2="849.45" stroke="#ebebeb" stroke-width="0.5"/>
<line x1="575.6" y1="575.05" x2="575.6" y2="849.45" stroke="#ebebeb" stroke-width="0.5"/>
<line x1="590.6" y1="575.05" x2="590.6" y2="849.45" stroke="#ebebeb" stroke-width="0.5"/>
<line x1="605.6" y1="575.05" x2="605.6" y2="849.45" stroke="#ebebeb" stroke-width="0.5"/>
<line x1="620.6" y1="575.05" x2="620.6" y2="849.45" stroke="#ebebeb" stroke-width="0.5"/>
<line x1="635.6" y1="575.05" x2="635.6" y2="849.45" stroke="#ebebeb" stroke-width="0.5"/>
<line x1="507.1" y1="577.5" x2="644.1" y2="577.5" stroke="#ebebeb" stroke-width="0.5"/>
<line x1="507.1" y1="582.4" x2="644.1" y2="582.4" stroke="#ebebeb" stroke-width="0.5"/>
<line x1="507.1" y1="587.3" x2="644.1" y2="587.3" stroke="#ebebeb" stroke-width="0.5"/>
<line x1="507.1" y1="592.2" x2="644.1" y2="592.2" stroke="#ebebeb" stroke-width="0.5"/>
<line x1="507.1" y1="597.1" x2="644.1" y2="597.1" stroke="#ebebeb" stroke-width="0.5"/>
<line x1="507.1" y1="602" x2="644.1" y2="602" stroke="#ebebeb" stroke-width="0.5"/>
<line x1="507.1" y1="606.9" x2="644.1" y2="606.9" stroke="#ebebeb" stroke-width="0.5"/>
<line x1="507.1" y1="611.8" x2="644.1" y2="611.8" stroke="#ebebeb" stroke-width="0.5"/>
<line x1="507.1" y1="616.7" x2="644.1" y2="616.7" stroke="#ebebeb" stroke-width="0.5"/>
<line x1="507.1" y1="621.6" x2="644.1" y2="621.6" stroke="#ebebeb" stroke-width="0.5"/>
<line x1="507.1" y1="626.5" x2="644.1" y2="626.5" stroke="#ebebeb" stroke-width="0.5"/>
<line x1="507.1" y1="631.4" x2="644.1" y2="631.4" stroke="#ebebeb" stroke-width="0.5"/>
<line x1="507.1" y1="636.3" x2="644.1" y2="636.3" stroke="#ebebeb" stroke-width="0.5"/>
<line x1="507.1" y1="641.2" x2="644.1" y2="641.2" stroke="#ebebeb" stroke-width="0.5"/>
<line x1="507.1" y1="646.1" x2="644.1" y2="646.1" stroke="#ebebeb" stroke-width="0.5"/>
<line x1="507.1" y1="651" x2="644.1" y2="651" stroke="#ebebeb" stroke-width="0.5"/>
<line x1="507.1" y1="655.9" x2="644.1" y2="655.9" stroke="#ebebeb" stroke-width="0.5"/>
<line x1="507.1" y1="660.8" x2="644.1" y2="660.8" stroke="#ebebeb" stroke-width="0.5"/>
<line x1="507.1" y1="665.7" x2="644.1" y2="665.7" stroke="#ebebeb" stroke-width="0.5"/>
<line x1="507.1" y1="670.6" x2="644.1" y2="670.6" stroke="#ebebeb" stroke-width="0.5"/>
<line x1="507.1" y1="675.5" x2="644.1" y2="675.5" stroke="#ebebeb" stroke-width="0.5"/>
<line x1="507.1" y1="680.4" x2="644.1" y2="680.4" stroke="#ebebeb" stroke-width="0.5"/>
<line x1="507.1" y1="685.3" x2="644.1" y2="685.3" stroke="#ebebeb" stroke-width="0.5"/>
<line x1="507.1" y1="690.2" x2="644.1" y2="690.2" stroke="#ebebeb" stroke-width="0.5"/>
<line x1="507.1" y1="695.1" x2="644.1" y2="695.1" stroke="#ebebeb" stroke-width="0.5"/>
<line x1="507.1" y1="700" x2="644.1" y2="700" stroke="#ebebeb" stroke-width="0.5"/>
<line x1="507.1" y1="704.9" x2="644.1" y2="704.9" stroke="#ebebeb" stroke-width="0.5"/>
<line x1="507.1" y1="709.8" x2="644.1" y2="709.8" stroke="#ebebeb" stroke-width="0.5"/>
<line x1="507.1" y1="714.7" x2="644.1" y2="714.7" stroke="#ebebeb" stroke-width="0.5"/>
<line x1="507.1" y1="719.6" x2="644.1" y2="719.6" stroke="#ebebeb" stroke-width="0.5"/>
<line x1="507.1" y1="724.5" x2="644.1" y2="724.5" stroke="#ebebeb" stroke-width="0.5"/>
<line x1="507.1" y1="729.4" x2="644.1" y2="729.4" stroke="#ebebeb" stroke-width="0.5"/>
<line x1="507.1" y1="734.3" x2="644.1" y2="734.3" stroke="#ebebeb" stroke-width="0.5"/>
<line x1="507.1" y1="739.2" x2="644.1" y2="739.2" stroke="#ebebeb" stroke-width="0.5"/>
<line x1="507.1" y1="744.1" x2="644.1" y2="744.1" stroke="#ebebeb" stroke-width="0.5"/>
<line x1="507.1" y1="749" x2="644.1" y2="749" stroke="#ebebeb" stroke-width="0.5"/>
<line x1="507.1" y1="753.9" x2="644.1" y2="753.9" stroke="#ebebeb" stroke-width="0.5"/>
<line x1="507.1" y1="758.8" x2="644.1" y2="758.8" stroke="#ebebeb" stroke-width="0.5"/>
<line x1="507.1" y1="763.7" x2="644.1" y2="763.7" stroke="#ebebeb" stroke-width="0.5"/>
<line x1="507.1" y1="768.6" x2="644.1" y2="768.6" stroke="#ebebeb" stroke-width="0.5"/>
<line x1="507.1" y1="773.5" x2="644.1" y2="773.5" stroke="#ebebeb" stroke-width="0.5"/>
<line x1="507.1" y1="778.4" x2="644.1" y2="778.4" stroke="#ebebeb" stroke-width="0.5"/>
<line x1="507.1" y1="783.3" x2="644.1" y2="783.3" stroke="#ebebeb" stroke-width="0.5"/>
<line x1="507.1" y1="788.2" x2="644.1" y2="788.2" stroke="#ebebeb" stroke-width="0.5"/>
<line x1="507.1" y1="793.1" x2="644.1" y2="793.1" stroke="#ebebeb" stroke-width="0.5"/>
<line x1="507.1" y1="798" x2="644.1" y2="798" stroke="#ebebeb" stroke-width="0.5"/>
<line x1="507.1" y1="802.9" x2="644.1" y2="802.9" stroke="#ebebeb" stroke-width="0.5"/>
<line x1="507.1" y1="807.8" x2="644.1" y2="807.8" stroke="#ebebeb" stroke-width="0.5"/>
<line x1="507.1" y1="812.7" x2="644.1" y2="812.7" stroke="#ebebeb" stroke-width="0.5"/>
<line x1="507.1" y1="817.6" x2="644.1" y2="817.6" stroke="#ebebeb" stroke-width="0.5"/>
<line x1="507.1" y1="822.5" x2="644.1" y2="822.5" stroke="#ebebeb" stroke-width="0.5"/>
<line x1="507.1" y1="827.4" x2="644.1" y2="827.4" stroke="#ebebeb" stroke-width="0.5"/>
<line x1="507.1" y1="832.3" x2="644.1" y2="832.3" stroke="#ebebeb" stroke-width="0.5"/>
<line x1="507.1" y1="837.2" x2="644.1" y2="837.2" stroke="#ebebeb" stroke-width="0.5"/>
<line x1="507.1" y1="842.1" x2="644.1" y2="842.1" stroke="#ebebeb" stroke-width="0.5"/>
<line x1="507.1" y1="847" x2="644.1" y2="847" stroke="#ebebeb" stroke-width="0.5"/>
<rect x="507.9" y="574.85" width="15.4" height="5.3" fill="#ff7c5b"/>
<rect x="537.9" y="574.85" width="15.4" height="5.3" fill="#ff7c5b"/>
<rect x="567.9" y="574.85" width="15.4" height="5.3" fill="#ff7c5b"/>
<rect x="582.9" y="574.85" width="15.4" height="5.3" fill="#ff6c4b"/>
<rect x="597.9" y="574.85" width="15.4" height="5.3" fill="#ff7c5b"/>
<rect x="627.9" y="574.85" width="15.4" height="5.3" fill="#ff7c5b"/>
<rect x="507.9" y="579.75" width="15.4" height="5.3" fill="#ff7c5b"/>
<rect x="522.9" y="579.75" width="15.4" height="5.3" fill="#ff7c5b"/>
<rect x="537.9" y="579.75" width="15.4" height="5.3" fill="#ff7c5b"/>
<rect x="552.9" y="579.75" width="15.4" height="5.3" fill="#ff8969"/>
<rect x="567.9" y="579.75" width="15.4" height="5.3" fill="#ff7c5b"/>
<rect x="582.9" y="579.75" width="15.4" height="5.3" fill="#ff7c5b"/>
<rect x="597.9" y="579.75" width="15.4" height="5.3" fill="#ff7c5b"/>
<rect x="612.9" y="579.75" width="15.4" height="5.3" fill="#ff6c4b"/>
<rect x="627.9" y="579.75" width="15.4" height="5.3" fill="#ff7c5b"/>
<rect x="552.9" y="584.65" width="15.4" height="5.3" fill="#ff7c5b"/>
<rect x="507.9" y="589.55" width="15.4" height="5.3" fill="#ff7c5b"/>
<rect x="537.9" y="589.55" width="15.4" height="5.3" fill="#ff7c5b"/>
<rect x="567.9" y="589.55" width="15.4" height="5.3" fill="#ff7c5b"/>
<rect x="582.9" y="589.55" width="15.4" height="5.3" fill="#ff7c5b"/>
<rect x="597.9" y="589.55" width="15.4" height="5.3" fill="#ff7c5b"/>
<rect x="612.9" y="589.55" width="15.4" height="5.3" fill="#ff7c5b"/>
<rect x="627.9" y="589.55" width="15.4" height="5.3" fill="#ff7c5b"/>
<rect x="507.9" y="594.45" width="15.4" height="5.3" fill="#ff7c5b"/>
<rect x="522.9" y="599.35" width="15.4" height="5.3" fill="#a074ff"/>
<rect x="612.9" y="604.25" width="15.4" height="5.3" fill="#ff8969"/>
<rect x="552.9" y="609.15" width="15.4" height="5.3" fill="#ff8969"/>
<rect x="507.9" y="614.05" width="15.4" height="5.3" fill="#ff8969"/>
<rect x="537.9" y="618.95" width="15.4" height="5.3" fill="#ff7c5b"/>
<rect x="567.9" y="618.95" width="15.4" height="5.3" fill="#ff7c5b"/>
<rect x="582.9" y="618.95" width="15.4" height="5.3" fill="#ff7c5b"/>
<rect x="597.9" y="618.95" width="15.4" height="5.3" fill="#ff8969"/>
<rect x="627.9" y="618.95" width="15.4" height="5.3" fill="#ff7c5b"/>
<rect x="507.9" y="623.85" width="15.4" height="5.3" fill="#ff7c5b"/>
<rect x="537.9" y="628.75" width="15.4" height="5.3" fill="#ff7c5b"/>
<rect x="567.9" y="628.75" width="15.4" height="5.3" fill="#ff7c5b"/>
<rect x="582.9" y="628.75" width="15.4" height="5.3" fill="#ff6c4b"/>
<rect x="627.9" y="628.75" width="15.4" height="5.3" fill="#ff7c5b"/>
<rect x="507.9" y="633.65" width="15.4" height="5.3" fill="#ff7c5b"/>
<rect x="537.9" y="633.65" width="15.4" height="5.3" fill="#ff7c5b"/>
<rect x="567.9" y="633.65" width="15.4" height="5.3" fill="#ff7c5b"/>
<rect x="582.9" y="633.65" width="15.4" height="5.3" fill="#ff7c5b"/>
<rect x="597.9" y="633.65" width="15.4" height="5.3" fill="#ff8969"/>
<rect x="627.9" y="633.65" width="15.4" height="5.3" fill="#ff6c4b"/>
<rect x="627.9" y="638.55" width="15.4" height="5.3" fill="#ff7c5b"/>
<rect x="522.9" y="643.45" width="15.4" height="5.3" fill="#ff7c5b"/>
<rect x="567.9" y="643.45" width="15.4" height="5.3" fill="#ff7c5b"/>
<rect x="597.9" y="643.45" width="15.4" height="5.3" fill="#ff7c5b"/>
<rect x="612.9" y="643.45" width="15.4" height="5.3" fill="#ff6c4b"/>
<rect x="627.9" y="643.45" width="15.4" height="5.3" fill="#ff6c4b"/>
<rect x="552.9" y="648.35" width="15.4" height="5.3" fill="#ff7c5b"/>
<rect x="627.9" y="653.25" width="15.4" height="5.3" fill="#ff7c5b"/>
<rect x="507.9" y="658.15" width="15.4" height="5.3" fill="#ff7c5b"/>
<rect x="522.9" y="658.15" width="15.4" height="5.3" fill="#ff7c5b"/>
<rect x="537.9" y="658.15" width="15.4" height="5.3" fill="#ff7c5b"/>
<rect x="552.9" y="658.15" width="15.4" height="5.3" fill="#ff7c5b"/>
<rect x="567.9" y="658.15" width="15.4" height="5.3" fill="#ff7c5b"/>
<rect x="582.9" y="658.15" width="15.4" height="5.3" fill="#ff7c5b"/>
<rect x="597.9" y="658.15" width="15.4" height="5.3" fill="#ff6c4b"/>
<rect x="612.9" y="658.15" width="15.4" height="5.3" fill="#ff6c4b"/>
<rect x="627.9" y="658.15" width="15.4" height="5.3" fill="#ff6c4b"/>
<rect x="507.9" y="663.05" width="15.4" height="5.3" fill="#ff7c5b"/>
<rect x="537.9" y="663.05" width="15.4" height="5.3" fill="#ff7c5b"/>
<rect x="567.9" y="663.05" width="15.4" height="5.3" fill="#ff7c5b"/>
<rect x="582.9" y="663.05" width="15.4" height="5.3" fill="#ff7c5b"/>
<rect x="597.9" y="663.05" width="15.4" height="5.3" fill="#ff7c5b"/>
<rect x="627.9" y="663.05" width="15.4" height="5.3" fill="#ff6c4b"/>
<rect x="522.9" y="667.95" width="15.4" height="5.3" fill="#ff7c5b"/>
<rect x="552.9" y="667.95" width="15.4" height="5.3" fill="#ff7c5b"/>
<rect x="597.9" y="667.95" width="15.4" height="5.3" fill="#ff7c5b"/>
<rect x="612.9" y="667.95" width="15.4" height="5.3" fill="#ff7c5b"/>
<rect x="537.9" y="672.85" width="15.4" height="5.3" fill="#ff7c5b"/>
<rect x="567.9" y="672.85" width="15.4" height="5.3" fill="#ff7c5b"/>
<rect x="582.9" y="672.85" width="15.4" height="5.3" fill="#ff7c5b"/>
<rect x="597.9" y="672.85" width="15.4" height="5.3" fill="#ff7c5b"/>
<rect x="612.9" y="672.85" width="15.4" height="5.3" fill="#ff7c5b"/>
<rect x="627.9" y="672.85" width="15.4" height="5.3" fill="#ff7c5b"/>
<rect x="507.9" y="677.75" width="15.4" height="5.3" fill="#ff7c5b"/>
<rect x="522.9" y="677.75" width="15.4" height="5.3" fill="#ff7c5b"/>
<rect x="552.9" y="677.75" width="15.4" height="5.3" fill="#ff7c5b"/>
<rect x="597.9" y="677.75" width="15.4" height="5.3" fill="#ff7c5b"/>
<rect x="612.9" y="677.75" width="15.4" height="5.3" fill="#ff7c5b"/>
<rect x="582.9" y="682.65" width="15.4" height="5.3" fill="#ff7c5b"/>
<rect x="627.9" y="682.65" width="15.4" height="5.3" fill="#ff7c5b"/>
<rect x="537.9" y="687.55" width="15.4" height="5.3" fill="#ff7c5b"/>
<rect x="567.9" y="687.55" width="15.4" height="5.3" fill="#ff7c5b"/>
<rect x="582.9" y="687.55" width="15.4" height="5.3" fill="#ff7c5b"/>
<rect x="627.9" y="687.55" width="15.4" height="5.3" fill="#ff7c5b"/>
<rect x="507.9" y="692.45" width="15.4" height="5.3" fill="#ff5b3a"/>
<rect x="537.9" y="692.45" width="15.4" height="5.3" fill="#ff6c4b"/>
<rect x="552.9" y="692.45" width="15.4" height="5.3" fill="#ff8969"/>
<rect x="567.9" y="692.45" width="15.4" height="5.3" fill="#ff6c4b"/>
<rect x="582.9" y="692.45" width="15.4" height="5.3" fill="#ff6c4b"/>
<rect x="597.9" y="692.45" width="15.4" height="5.3" fill="#ff6c4b"/>
<rect x="612.9" y="692.45" width="15.4" height="5.3" fill="#ff6c4b"/>
<rect x="627.9" y="692.45" width="15.4" height="5.3" fill="#ff6c4b"/>
<rect x="522.9" y="697.35" width="15.4" height="5.3" fill="#ff7c5b"/>
<rect x="552.9" y="697.35" width="15.4" height="5.3" fill="#ff7c5b"/>
<rect x="507.9" y="702.25" width="15.4" height="5.3" fill="#ff7c5b"/>
<rect x="522.9" y="702.25" width="15.4" height="5.3" fill="#ff6c4b"/>
<rect x="552.9" y="702.25" width="15.4" height="5.3" fill="#ff7c5b"/>
<rect x="597.9" y="702.25" width="15.4" height="5.3" fill="#ff7c5b"/>
<rect x="612.9" y="702.25" width="15.4" height="5.3" fill="#ff6c4b"/>
<rect x="552.9" y="707.15" width="15.4" height="5.3" fill="#ff8969"/>
<rect x="612.9" y="707.15" width="15.4" height="5.3" fill="#ff7c5b"/>
<rect x="627.9" y="712.05" width="15.4" height="5.3" fill="#ff8969"/>
<rect x="522.9" y="716.95" width="15.4" height="5.3" fill="#ff7c5b"/>
<rect x="552.9" y="716.95" width="15.4" height="5.3" fill="#ff6c4b"/>
<rect x="612.9" y="716.95" width="15.4" height="5.3" fill="#ff7c5b"/>
<rect x="507.9" y="721.85" width="15.4" height="5.3" fill="#ff8969"/>
<rect x="612.9" y="721.85" width="15.4" height="5.3" fill="#ff7c5b"/>
<rect x="522.9" y="726.75" width="15.4" height="5.3" fill="#ff7c5b"/>
<rect x="552.9" y="726.75" width="15.4" height="5.3" fill="#ff7c5b"/>
<rect x="597.9" y="726.75" width="15.4" height="5.3" fill="#ff7c5b"/>
<rect x="612.9" y="726.75" width="15.4" height="5.3" fill="#ff7c5b"/>
<rect x="552.9" y="731.65" width="15.4" height="5.3" fill="#ff7c5b"/>
<rect x="507.9" y="736.55" width="15.4" height="5.3" fill="#ff6c4b"/>
<rect x="537.9" y="736.55" width="15.4" height="5.3" fill="#ff6c4b"/>
<rect x="552.9" y="736.55" width="15.4" height="5.3" fill="#ff6c4b"/>
<rect x="567.9" y="736.55" width="15.4" height="5.3" fill="#ff6c4b"/>
<rect x="582.9" y="736.55" width="15.4" height="5.3" fill="#ff6c4b"/>
<rect x="597.9" y="736.55" width="15.4" height="5.3" fill="#ff6c4b"/>
<rect x="612.9" y="736.55" width="15.4" height="5.3" fill="#ff6c4b"/>
<rect x="627.9" y="736.55" width="15.4" height="5.3" fill="#ff6c4b"/>
<rect x="507.9" y="741.45" width="15.4" height="5.3" fill="#ff7c5b"/>
<rect x="597.9" y="741.45" width="15.4" height="5.3" fill="#ff7c5b"/>
<rect x="612.9" y="741.45" width="15.4" height="5.3" fill="#ff6c4b"/>
<rect x="612.9" y="746.35" width="15.4" height="5.3" fill="#ff7c5b"/>
<rect x="507.9" y="751.25" width="15.4" height="5.3" fill="#ff7c5b"/>
<rect x="537.9" y="751.25" width="15.4" height="5.3" fill="#ff7c5b"/>
<rect x="552.9" y="751.25" width="15.4" height="5.3" fill="#ff7c5b"/>
<rect x="567.9" y="751.25" width="15.4" height="5.3" fill="#ff7c5b"/>
<rect x="597.9" y="751.25" width="15.4" height="5.3" fill="#ff7c5b"/>
<rect x="612.9" y="751.25" width="15.4" height="5.3" fill="#ff6c4b"/>
<rect x="627.9" y="751.25" width="15.4" height="5.3" fill="#ff7c5b"/>
<rect x="537.9" y="756.15" width="15.4" height="5.3" fill="#ff7c5b"/>
<rect x="567.9" y="756.15" width="15.4" height="5.3" fill="#ff7c5b"/>
<rect x="582.9" y="756.15" width="15.4" height="5.3" fill="#ff7c5b"/>
<rect x="597.9" y="756.15" width="15.4" height="5.3" fill="#ff7c5b"/>
<rect x="627.9" y="756.15" width="15.4" height="5.3" fill="#ff6c4b"/>
<rect x="627.9" y="761.05" width="15.4" height="5.3" fill="#ff7c5b"/>
<rect x="507.9" y="765.95" width="15.4" height="5.3" fill="#ff7c5b"/>
<rect x="597.9" y="765.95" width="15.4" height="5.3" fill="#ff7c5b"/>
<rect x="612.9" y="765.95" width="15.4" height="5.3" fill="#ff7c5b"/>
<rect x="507.9" y="770.85" width="15.4" height="5.3" fill="#ff7c5b"/>
<rect x="537.9" y="770.85" width="15.4" height="5.3" fill="#ff7c5b"/>
<rect x="567.9" y="770.85" width="15.4" height="5.3" fill="#ff7c5b"/>
<rect x="582.9" y="770.85" width="15.4" height="5.3" fill="#ff7c5b"/>
<rect x="627.9" y="770.85" width="15.4" height="5.3" fill="#ff7c5b"/>
<rect x="612.9" y="775.75" width="15.4" height="5.3" fill="#ff8969"/>
<rect x="582.9" y="780.65" width="15.4" height="5.3" fill="#ff7c5b"/>
<rect x="627.9" y="780.65" width="15.4" height="5.3" fill="#ff7c5b"/>
<rect x="552.9" y="785.55" width="15.4" height="5.3" fill="#ff7c5b"/>
<rect x="507.9" y="790.45" width="15.4" height="5.3" fill="#ff7c5b"/>
<rect x="537.9" y="790.45" width="15.4" height="5.3" fill="#ff7c5b"/>
<rect x="567.9" y="790.45" width="15.4" height="5.3" fill="#ff7c5b"/>
<rect x="582.9" y="790.45" width="15.4" height="5.3" fill="#ff7c5b"/>
<rect x="597.9" y="790.45" width="15.4" height="5.3" fill="#ff6c4b"/>
<rect x="612.9" y="790.45" width="15.4" height="5.3" fill="#ff6c4b"/>
<rect x="627.9" y="790.45" width="15.4" height="5.3" fill="#ff7c5b"/>
<rect x="507.9" y="795.35" width="15.4" height="5.3" fill="#ff7c5b"/>
<rect x="597.9" y="795.35" width="15.4" height="5.3" fill="#ff7c5b"/>
<rect x="612.9" y="795.35" width="15.4" height="5.3" fill="#ff7c5b"/>
<rect x="627.9" y="800.25" width="15.4" height="5.3" fill="#ff7c5b"/>
<rect x="507.9" y="805.15" width="15.4" height="5.3" fill="#ff7c5b"/>
<rect x="537.9" y="805.15" width="15.4" height="5.3" fill="#ff7c5b"/>
<rect x="552.9" y="805.15" width="15.4" height="5.3" fill="#ff7c5b"/>
<rect x="567.9" y="805.15" width="15.4" height="5.3" fill="#ff7c5b"/>
<rect x="597.9" y="805.15" width="15.4" height="5.3" fill="#ff7c5b"/>
<rect x="612.9" y="805.15" width="15.4" height="5.3" fill="#ff6c4b"/>
<rect x="627.9" y="805.15" width="15.4" height="5.3" fill="#ff6c4b"/>
<rect x="507.9" y="810.05" width="15.4" height="5.3" fill="#ff4d2e"/>
<rect x="537.9" y="810.05" width="15.4" height="5.3" fill="#ff4d2e"/>
<rect x="567.9" y="810.05" width="15.4" height="5.3" fill="#ff4d2e"/>
<rect x="582.9" y="810.05" width="15.4" height="5.3" fill="#ff4d2e"/>
<rect x="597.9" y="810.05" width="15.4" height="5.3" fill="#ff4d2e"/>
<rect x="612.9" y="810.05" width="15.4" height="5.3" fill="#ff4d2e"/>
<rect x="627.9" y="810.05" width="15.4" height="5.3" fill="#ff4d2e"/>
<rect x="522.9" y="814.95" width="15.4" height="5.3" fill="#ff7c5b"/>
<rect x="612.9" y="814.95" width="15.4" height="5.3" fill="#ff7c5b"/>
<rect x="507.9" y="819.85" width="15.4" height="5.3" fill="#ff7c5b"/>
<rect x="612.9" y="819.85" width="15.4" height="5.3" fill="#ff7c5b"/>
<rect x="537.9" y="824.75" width="15.4" height="5.3" fill="#ff7c5b"/>
<rect x="567.9" y="824.75" width="15.4" height="5.3" fill="#ff7c5b"/>
<rect x="582.9" y="824.75" width="15.4" height="5.3" fill="#ff7c5b"/>
<rect x="627.9" y="824.75" width="15.4" height="5.3" fill="#ff7c5b"/>
<rect x="522.9" y="829.65" width="15.4" height="5.3" fill="#ff7c5b"/>
<rect x="612.9" y="829.65" width="15.4" height="5.3" fill="#ff7c5b"/>
<rect x="507.9" y="834.55" width="15.4" height="5.3" fill="#8f62ff"/>
<rect x="537.9" y="834.55" width="15.4" height="5.3" fill="#8f62ff"/>
<rect x="567.9" y="834.55" width="15.4" height="5.3" fill="#8f62ff"/>
<rect x="582.9" y="834.55" width="15.4" height="5.3" fill="#8f62ff"/>
<rect x="597.9" y="834.55" width="15.4" height="5.3" fill="#8f62ff"/>
<rect x="612.9" y="834.55" width="15.4" height="5.3" fill="#8f62ff"/>
<rect x="627.9" y="834.55" width="15.4" height="5.3" fill="#8f62ff"/>
<rect x="507.9" y="839.45" width="15.4" height="5.3" fill="#ff7c5b"/>
<rect x="522.9" y="839.45" width="15.4" height="5.3" fill="#ff7c5b"/>
<rect x="537.9" y="839.45" width="15.4" height="5.3" fill="#ff7c5b"/>
<rect x="552.9" y="839.45" width="15.4" height="5.3" fill="#ff6c4b"/>
<rect x="567.9" y="839.45" width="15.4" height="5.3" fill="#ff7c5b"/>
<rect x="597.9" y="839.45" width="15.4" height="5.3" fill="#ff7c5b"/>
<rect x="612.9" y="839.45" width="15.4" height="5.3" fill="#ff6c4b"/>
<rect x="627.9" y="839.45" width="15.4" height="5.3" fill="#ff7c5b"/>
<rect x="552.9" y="844.35" width="15.4" height="5.3" fill="#9c70ff"/>
<text font-size="6.18" text-anchor="end" fill="#4d4d4d" transform="translate(504.8 579.7) rotate(0.03) scale(0.86 1)">Anaerovoracaceae_.Eubacterium..brachy.group_NA.1</text>
<text font-size="6.18" text-anchor="end" fill="#4d4d4d" transform="translate(504.8 584.6) rotate(0.03) scale(0.86 1)">Peptococcaceae_NA_NA.1</text>
<text font-size="6.18" text-anchor="end" fill="#4d4d4d" transform="translate(504.8 589.5) rotate(0.03) scale(0.86 1)">Anaerovoracaceae_Family.XIII.UCG.001_NA</text>
<text font-size="6.18" text-anchor="end" fill="#4d4d4d" transform="translate(504.8 594.4) rotate(0.03) scale(0.86 1)">Ruminococcaceae_Paludicola_NA</text>
<text font-size="6.18" text-anchor="end" fill="#4d4d4d" transform="translate(504.8 599.3) rotate(0.03) scale(0.86 1)">Ruminococcaceae_Anaerotruncus_NA.1</text>
<text font-size="6.18" text-anchor="end" fill="#4d4d4d" transform="translate(504.8 604.2) rotate(0.03) scale(0.86 1)">Corynebacteriaceae_Corynebacterium_stationis</text>
<text font-size="6.18" text-anchor="end" fill="#4d4d4d" transform="translate(504.8 609.1) rotate(0.03) scale(0.86 1)">Lachnospiraceae_Roseburia_NA.6</text>
<text font-size="6.18" text-anchor="end" fill="#4d4d4d" transform="translate(504.8 614) rotate(0.03) scale(0.86 1)">Oscillospiraceae_Colidextribacter_NA.7</text>
<text font-size="6.18" text-anchor="end" fill="#4d4d4d" transform="translate(504.8 618.9) rotate(0.03) scale(0.86 1)">Lachnospiraceae_GCA.900066575_NA.7</text>
<text font-size="6.18" text-anchor="end" fill="#4d4d4d" transform="translate(504.8 623.8) rotate(0.03) scale(0.86 1)">Lachnospiraceae_NA_NA.44</text>
<text font-size="6.18" text-anchor="end" fill="#4d4d4d" transform="translate(504.8 628.7) rotate(0.03) scale(0.86 1)">Lachnospiraceae_NA_NA.42</text>
<text font-size="6.18" text-anchor="end" fill="#4d4d4d" transform="translate(504.8 633.6) rotate(0.03) scale(0.86 1)">Lachnospiraceae_NA_NA.41</text>
<text font-size="6.18" text-anchor="end" fill="#4d4d4d" transform="translate(504.8 638.5) rotate(0.03) scale(0.86 1)">Lachnospiraceae_NA_NA.40</text>
<text font-size="6.18" text-anchor="end" fill="#4d4d4d" transform="translate(504.8 643.4) rotate(0.03) scale(0.86 1)">Lachnospiraceae_NA_NA.39</text>
<text font-size="6.18" text-anchor="end" fill="#4d4d4d" transform="translate(504.8 648.3) rotate(0.03) scale(0.86 1)">Lachnospiraceae_Acetatifactor_NA.2</text>
<text font-size="6.18" text-anchor="end" fill="#4d4d4d" transform="translate(504.8 653.2) rotate(0.03) scale(0.86 1)">Lachnospiraceae_NA_NA.38</text>
<text font-size="6.18" text-anchor="end" fill="#4d4d4d" transform="translate(504.8 658.1) rotate(0.03) scale(0.86 1)">Eggerthellaceae_Enterorhabdus_NA.3</text>
<text font-size="6.18" text-anchor="end" fill="#4d4d4d" transform="translate(504.8 663) rotate(0.03) scale(0.86 1)">Lachnospiraceae_Lachnospiraceae.UCG.006_NA.2</text>
<text font-size="6.18" text-anchor="end" fill="#4d4d4d" transform="translate(504.8 667.9) rotate(0.03) scale(0.86 1)">Oscillospiraceae_Oscillibacter_NA.4</text>
<text font-size="6.18" text-anchor="end" fill="#4d4d4d" transform="translate(504.8 672.8) rotate(0.03) scale(0.86 1)">ASV189__Clostridia</text>
<text font-size="6.18" text-anchor="end" fill="#4d4d4d" transform="translate(504.8 677.7) rotate(0.03) scale(0.86 1)">Oscillospiraceae_NA_NA.7</text>
<text font-size="6.18" text-anchor="end" fill="#4d4d4d" transform="translate(504.8 682.6) rotate(0.03) scale(0.86 1)">Oscillospiraceae_Oscillibacter_NA.2</text>
<text font-size="6.18" text-anchor="end" fill="#4d4d4d" transform="translate(504.8 687.5) rotate(0.03) scale(0.86 1)">Lachnospiraceae_Tuzzerella_NA.2</text>
<text font-size="6.18" text-anchor="end" fill="#4d4d4d" transform="translate(504.8 692.4) rotate(0.03) scale(0.86 1)">Lachnospiraceae_Tuzzerella_NA.1</text>
<text font-size="6.18" text-anchor="end" fill="#4d4d4d" transform="translate(504.8 697.3) rotate(0.03) scale(0.86 1)">Lachnospiraceae_GCA.900066575_NA.4</text>
<text font-size="6.18" text-anchor="end" fill="#4d4d4d" transform="translate(504.8 702.2) rotate(0.03) scale(0.86 1)">Lachnospiraceae_NA_NA.25</text>
<text font-size="6.18" text-anchor="end" fill="#4d4d4d" transform="translate(504.8 707.1) rotate(0.03) scale(0.86 1)">Lachnospiraceae_Lachnospiraceae.UCG.006_NA.1</text>
<text font-size="6.18" text-anchor="end" fill="#4d4d4d" transform="translate(504.8 712) rotate(0.03) scale(0.86 1)">Lachnospiraceae_Acetatifactor_NA.1</text>
<text font-size="6.18" text-anchor="end" fill="#4d4d4d" transform="translate(504.8 716.9) rotate(0.03) scale(0.86 1)">Lachnospiraceae_Lachnospiraceae.UCG.004_NA</text>
<text font-size="6.18" text-anchor="end" fill="#4d4d4d" transform="translate(504.8 721.8) rotate(0.03) scale(0.86 1)">Lachnospiraceae_NA_NA.20</text>
<text font-size="6.18" text-anchor="end" fill="#4d4d4d" transform="translate(504.8 726.7) rotate(0.03) scale(0.86 1)">Lachnospiraceae_NA_NA.16</text>
<text font-size="6.18" text-anchor="end" fill="#4d4d4d" transform="translate(504.8 731.6) rotate(0.03) scale(0.86 1)">Lachnospiraceae_Roseburia_NA.2</text>
<text font-size="6.18" text-anchor="end" fill="#4d4d4d" transform="translate(504.8 736.5) rotate(0.03) scale(0.86 1)">Lachnospiraceae_Lachnospiraceae.NK4A136.group_NA.5</text>
<text font-size="6.18" text-anchor="end" fill="#4d4d4d" transform="translate(504.8 741.4) rotate(0.03) scale(0.86 1)">Lachnospiraceae_NA_NA.13</text>
<text font-size="6.18" text-anchor="end" fill="#4d4d4d" transform="translate(504.8 746.3) rotate(0.03) scale(0.86 1)">Oscillospiraceae_Intestinimonas_NA.3</text>
<text font-size="6.18" text-anchor="end" fill="#4d4d4d" transform="translate(504.8 751.2) rotate(0.03) scale(0.86 1)">Oscillospiraceae_Intestinimonas_NA.2</text>
<text font-size="6.18" text-anchor="end" fill="#4d4d4d" transform="translate(504.8 756.1) rotate(0.03) scale(0.86 1)">Lachnospiraceae_GCA.900066575_NA.1</text>
<text font-size="6.18" text-anchor="end" fill="#4d4d4d" transform="translate(504.8 761) rotate(0.03) scale(0.86 1)">Ruminococcaceae_NA_NA.1</text>
<text font-size="6.18" text-anchor="end" fill="#4d4d4d" transform="translate(504.8 765.9) rotate(0.03) scale(0.86 1)">Lachnospiraceae_NA_NA.12</text>
<text font-size="6.18" text-anchor="end" fill="#4d4d4d" transform="translate(504.8 770.8) rotate(0.03) scale(0.86 1)">Oscillospiraceae_Oscillibacter_NA.1</text>
<text font-size="6.18" text-anchor="end" fill="#4d4d4d" transform="translate(504.8 775.7) rotate(0.03) scale(0.86 1)">Lachnospiraceae_Lachnospiraceae.NK4A136.group_NA.4</text>
<text font-size="6.18" text-anchor="end" fill="#4d4d4d" transform="translate(504.8 780.6) rotate(0.03) scale(0.86 1)">Lachnospiraceae_Acetatifactor_NA</text>
<text font-size="6.18" text-anchor="end" fill="#4d4d4d" transform="translate(504.8 785.5) rotate(0.03) scale(0.86 1)">Oscillospiraceae_NA_NA.3</text>
<text font-size="6.18" text-anchor="end" fill="#4d4d4d" transform="translate(504.8 790.4) rotate(0.03) scale(0.86 1)">Lachnospiraceae_NA_NA.9</text>
<text font-size="6.18" text-anchor="end" fill="#4d4d4d" transform="translate(504.8 795.3) rotate(0.03) scale(0.86 1)">Oscillospiraceae_Intestinimonas_NA.1</text>
<text font-size="6.18" text-anchor="end" fill="#4d4d4d" transform="translate(504.8 800.2) rotate(0.03) scale(0.86 1)">Oscillospiraceae_NA_NA.2</text>
<text font-size="6.18" text-anchor="end" fill="#4d4d4d" transform="translate(504.8 805.1) rotate(0.03) scale(0.86 1)">Lachnospiraceae_NA_NA.5</text>
<text font-size="6.18" text-anchor="end" fill="#4d4d4d" transform="translate(504.8 810) rotate(0.03) scale(0.86 1)">Lachnospiraceae_Tuzzerella_NA</text>
<text font-size="6.18" text-anchor="end" fill="#4d4d4d" transform="translate(504.8 814.9) rotate(0.03) scale(0.86 1)">Oscillospiraceae_Oscillibacter_NA</text>
<text font-size="6.18" text-anchor="end" fill="#4d4d4d" transform="translate(504.8 819.8) rotate(0.03) scale(0.86 1)">Lachnospiraceae_Lachnospiraceae.NK4A136.group_NA.1</text>
<text font-size="6.18" text-anchor="end" fill="#4d4d4d" transform="translate(504.8 824.7) rotate(0.03) scale(0.86 1)">Peptococcaceae_NA_NA</text>
<text font-size="6.18" text-anchor="end" fill="#4d4d4d" transform="translate(504.8 829.6) rotate(0.03) scale(0.86 1)">Oscillospiraceae_Colidextribacter_NA</text>
<text font-size="6.18" text-anchor="end" fill="#4d4d4d" transform="translate(504.8 834.5) rotate(0.03) scale(0.86 1)">Muribaculaceae_NA_NA.1</text>
<text font-size="6.18" text-anchor="end" fill="#4d4d4d" transform="translate(504.8 839.4) rotate(0.03) scale(0.86 1)">Bifidobacteriaceae_Bifidobacterium_pseudolongum</text>
<text font-size="6.18" text-anchor="end" fill="#4d4d4d" transform="translate(504.8 844.3) rotate(0.03) scale(0.86 1)">Lachnospiraceae_Blautia_coccoides</text>
<text font-size="6.18" text-anchor="end" fill="#4d4d4d" transform="translate(504.8 849.2) rotate(0.03) scale(0.86 1)">Akkermansiaceae_Akkermansia_muciniphila</text>
<text x="517.85" y="854.05" font-size="5.28" text-anchor="end" fill="#4d4d4d" transform="rotate(-45 517.85 854.05)">L.lysine.fermentation.to.acetate.and.butanoate</text>
<text x="532.85" y="854.05" font-size="5.28" text-anchor="end" fill="#4d4d4d" transform="rotate(-45 532.85 854.05)">L.lysine.biosynthesis.I</text>
<text x="547.85" y="854.05" font-size="5.28" text-anchor="end" fill="#4d4d4d" transform="rotate(-45 547.85 854.05)">pyruvate.fermentation.to.butanoate</text>
<text x="562.85" y="854.05" font-size="5.28" text-anchor="end" fill="#4d4d4d" transform="rotate(-45 562.85 854.05)">pyruvate.fermentation.to.acetate.and.lactate.II</text>
<text x="577.85" y="854.05" font-size="5.28" text-anchor="end" fill="#4d4d4d" transform="rotate(-45 577.85 854.05)">superpathway.of.Clostridium.acetobutylicum.acidogenic.fermentation</text>
<text x="592.85" y="854.05" font-size="5.28" text-anchor="end" fill="#4d4d4d" transform="rotate(-45 592.85 854.05)">fatty.acid..beta..oxidation.I</text>
<text x="607.85" y="854.05" font-size="5.28" text-anchor="end" fill="#4d4d4d" transform="rotate(-45 607.85 854.05)">acetyl.CoA.fermentation.to.butanoate.II</text>
<text x="622.85" y="854.05" font-size="5.28" text-anchor="end" fill="#4d4d4d" transform="rotate(-45 622.85 854.05)">pyruvate.fermentation.to.acetone</text>
<text x="637.85" y="854.05" font-size="5.28" text-anchor="end" fill="#4d4d4d" transform="rotate(-45 637.85 854.05)">L.1.2.propanediol.degradation</text>
<text x="530.5" y="937.4" font-size="11.68" font-weight="bold" transform="rotate(0.03 530.5 937.4)">SCFA_pathways - group (2)</text>
<text x="654.4" y="684.2" font-size="6.15" transform="rotate(0.03 654.4 684.2)">Pearson</text>
<text x="654.4" y="691.4" font-size="6.15" transform="rotate(0.03 654.4 691.4)">Correlation</text>
<rect x="654.1" y="695.7" width="10.3" height="50.1" fill="url(#gp)"/>
<line x1="654.1" y1="708.2" x2="656.2" y2="708.2" stroke="#fff" stroke-width="0.5"/>
<line x1="662.3" y1="708.2" x2="664.4" y2="708.2" stroke="#fff" stroke-width="0.5"/>
<line x1="654.1" y1="733.3" x2="656.2" y2="733.3" stroke="#fff" stroke-width="0.5"/>
<line x1="662.3" y1="733.3" x2="664.4" y2="733.3" stroke="#fff" stroke-width="0.5"/>
<text x="667.5" y="697.5" font-size="5" transform="rotate(0.03 667.5 697.5)">1.0</text>
<text x="667.5" y="709.9" font-size="5" transform="rotate(0.03 667.5 709.9)">0.5</text>
<text x="667.5" y="722.3" font-size="5" transform="rotate(0.03 667.5 722.3)">0.0</text>
<text x="667.5" y="734.7" font-size="5" transform="rotate(0.03 667.5 734.7)">−0.5</text>
<text x="667.5" y="747.2" font-size="5" transform="rotate(0.03 667.5 747.2)">−1.0</text>
</svg></body></html>
